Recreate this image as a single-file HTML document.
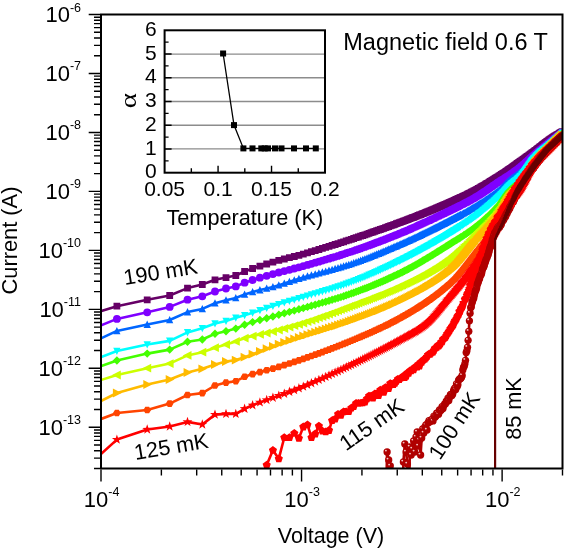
<!DOCTYPE html>
<html><head><meta charset="utf-8"><style>
html,body{margin:0;padding:0;background:#fff;width:566px;height:550px;overflow:hidden;}
svg{display:block;will-change:transform;}
text{font-family:"Liberation Sans", sans-serif;fill:#000;}
</style></head><body>
<svg width="566" height="550" viewBox="0 0 566 550" font-family='"Liberation Sans", sans-serif'>
<defs><clipPath id="pc"><rect x="101" y="14.5" width="461.5" height="454"/></clipPath></defs>
<g clip-path="url(#pc)">
<path d="M69.9 320.7L116.9 306.2L147.2 299.8L169.7 295.5L187.5 288.1L202.3 284.5L215 279.8L226 277.6L235.8 275.5L244.6 271.5L252.6 268.5L259.9 266.1L266.7 264L272.9 262.1L278.8 260.4L284.3 259L289.4 257.7L294.3 256.5L298.9 255.3L303.3 254.1L307.5 252.9L311.4 251.7L315.2 250.6L318.9 249.5L322.4 248.4L325.7 247.4L329 246.4L332.1 245.4L335.1 244.5L338 243.6L340.9 242.7L343.6 241.8L346.2 240.9L348.8 240.1L351.3 239.3L353.7 238.5L356.1 237.7L358.4 237L360.6 236.2L362.8 235.5L364.9 234.8L367 234.1L369 233.4L371 232.7L373 232L374.9 231.4L376.7 230.7L378.5 230.1L380.3 229.5L382.1 228.9L383.8 228.3L385.5 227.7L387.1 227.1L388.7 226.5L390.3 225.9L391.9 225.4L393.4 224.8L394.9 224.3L396.4 223.7L397.8 223.2L399.3 222.7L400.7 222.2L402.1 221.6L403.4 221.1L404.8 220.6L406.1 220.1L407.4 219.6L408.7 219.1L409.9 218.7L411.2 218.2L412.4 217.7L413.6 217.3L414.8 216.8L416 216.3L417.2 215.9L418.3 215.4L419.4 215L420.6 214.6L421.7 214.1L422.7 213.7L423.8 213.3L424.9 212.8L425.9 212.4L427 212L428 211.6L429 211.2L430 210.8L431 210.4L432 210L433 209.6L433.9 209.2L434.9 208.8L435.8 208.4L436.7 208L437.6 207.6L438.6 207.2L439.5 206.9L440.3 206.5L441.2 206.1L442.1 205.7L443 205.4L443.8 205L444.7 204.6L445.5 204.3L446.3 203.9L447.2 203.6L448 203.2L448.8 202.8L449.6 202.5L450.4 202.1L451.2 201.8L451.9 201.4L452.7 201.1L453.5 200.8L454.2 200.4L455 200.1L455.7 199.7L456.5 199.4L457.2 199.1L457.9 198.7L458.6 198.4L459.4 198.1L460.1 197.7L460.8 197.4L461.5 197.1L462.2 196.7L462.8 196.4L463.5 196.1L464.2 195.8L464.9 195.4L465.5 195.1L466.2 194.8L466.9 194.5L467.5 194.1L468.1 193.8L468.8 193.5L469.4 193.2L470.1 192.9L470.7 192.5L471.3 192.2L471.9 191.9L472.5 191.6L473.1 191.3L473.8 191L474.4 190.6L475 190.3L475.5 190L476.1 189.7L476.7 189.4L477.3 189.1L477.9 188.7L478.4 188.4L479 188.1L479.6 187.8L480.1 187.5L480.7 187.2L481.3 186.8L481.8 186.5L482.4 186.2L482.9 185.9L483.4 185.6L484 185.3L484.5 184.9L485.1 184.6L485.6 184.3L486.1 184L486.6 183.7L487.1 183.4L487.7 183.1L488.2 182.8L488.7 182.4L489.2 182.1L489.7 181.8L490.2 181.5L490.7 181.2L491.2 180.9L491.7 180.6L492.2 180.3L492.7 180L493.1 179.7L493.6 179.4L494.1 179.1L494.6 178.8L495.1 178.5L495.5 178.2L496 177.9L496.5 177.6L496.9 177.3L497.4 177L497.8 176.8L498.3 176.5L498.8 176.2L499.2 175.9L499.7 175.6L500.1 175.3L500.5 175.1L501 174.8L501.4 174.5L501.9 174.2L502.3 173.9L502.7 173.7L503.2 173.4L503.6 173.1L504 172.8L504.4 172.5L504.9 172.3L505.3 172L505.7 171.7L506.1 171.4L506.5 171.1L507 170.9L507.4 170.6L507.8 170.3L508.2 170L508.6 169.8L509 169.5L509.4 169.2L509.8 168.9L510.2 168.7L510.6 168.4L511 168.1L511.4 167.8L511.8 167.6L512.2 167.3L512.5 167L512.9 166.7L513.3 166.5L513.7 166.2L514.1 165.9L514.4 165.6L514.8 165.4L515.2 165.1L515.6 164.8L515.9 164.6L516.3 164.3L516.7 164L517.1 163.7L517.4 163.5L517.8 163.2L518.2 162.9L518.5 162.7L518.9 162.4L519.2 162.2L519.6 161.9L519.9 161.6L520.3 161.4L520.7 161.1L521 160.9L521.4 160.6L521.7 160.4L522 160.1L522.4 159.9L522.7 159.6L523.1 159.4L523.4 159.1L523.8 158.9L524.1 158.6L524.4 158.4L524.8 158.2L525.1 157.9L525.4 157.7L525.8 157.4L526.1 157.2L526.4 157L526.8 156.7L527.1 156.5L527.4 156.2L527.7 156L528.1 155.8L528.4 155.5L528.7 155.3L529 155.1L529.4 154.8L529.7 154.6L530 154.4L530.3 154.2L530.6 153.9L530.9 153.7L531.2 153.5L531.6 153.2L531.9 153L532.2 152.8L532.5 152.6L532.8 152.3L533.1 152.1L533.4 151.9L533.7 151.7L534 151.4L534.3 151.2L534.6 151L534.9 150.8L535.2 150.5L535.5 150.3L535.8 150.1L536.1 149.9L536.4 149.7L536.7 149.4L537 149.2L537.3 149L537.6 148.8L537.8 148.5L538.1 148.3L538.4 148.1L538.7 147.9L539 147.6L539.3 147.4L539.6 147.2L539.8 147L540.1 146.8L540.4 146.5L540.7 146.3L541 146.1L541.2 145.9L541.5 145.7L541.8 145.4L542.1 145.2L542.4 145L542.6 144.8L542.9 144.6L543.2 144.4L543.4 144.2L543.7 143.9L544 143.7L544.3 143.5L544.5 143.3L544.8 143.1L545.1 142.9L545.3 142.7L545.6 142.5L545.8 142.3L546.1 142.1L546.4 141.9L546.6 141.7L546.9 141.5L547.2 141.3L547.4 141.1L547.7 140.9L547.9 140.8L548.2 140.6L548.4 140.4L548.7 140.2L549 140L549.2 139.8L549.5 139.7L549.7 139.5L550 139.3L550.2 139.2L550.5 139L550.7 138.8L551 138.6L551.2 138.5L551.5 138.3L551.7 138.1L552 138L552.2 137.8L552.4 137.7L552.7 137.5L552.9 137.3L553.2 137.2L553.4 137L553.7 136.9L553.9 136.7L554.1 136.5L554.4 136.4L554.6 136.2L554.9 136.1L555.1 135.9L555.3 135.8L555.6 135.6L555.8 135.5L556 135.3L556.3 135.2L556.5 135.1L556.7 134.9L557 134.8L557.2 134.6L557.4 134.5L557.7 134.3L557.9 134.2L558.1 134.1L558.4 133.9L558.6 133.8L558.8 133.6L559 133.5L559.3 133.4L559.5 133.2L559.7 133.1L559.9 133L560.2 132.8L560.4 132.7L560.6 132.6L560.8 132.5L561.1 132.3L561.3 132.2L561.5 132.1L561.7 131.9L561.9 131.8L562.2 131.7L562.4 131.6L562.6 131.5L562.8 131.3" fill="none" stroke="#660066" stroke-width="2.6" stroke-linejoin="round"/>
<path d="M113.5 302.8h6.8v6.8h-6.8zM143.8 296.4h6.8v6.8h-6.8zM166.3 292.1h6.8v6.8h-6.8zM184.1 284.7h6.8v6.8h-6.8zM198.9 281.1h6.8v6.8h-6.8zM211.6 276.4h6.8v6.8h-6.8zM222.6 274.2h6.8v6.8h-6.8zM232.4 272.1h6.8v6.8h-6.8zM241.2 268.1h6.8v6.8h-6.8zM249.2 265.1h6.8v6.8h-6.8zM256.5 262.7h6.8v6.8h-6.8zM263.3 260.6h6.8v6.8h-6.8zM269.5 258.7h6.8v6.8h-6.8zM275.4 257h6.8v6.8h-6.8zM280.9 255.6h6.8v6.8h-6.8zM286 254.3h6.8v6.8h-6.8zM290.9 253.1h6.8v6.8h-6.8zM295.5 251.9h6.8v6.8h-6.8zM299.9 250.7h6.8v6.8h-6.8zM304.1 249.5h6.8v6.8h-6.8zM308 248.3h6.8v6.8h-6.8zM311.8 247.2h6.8v6.8h-6.8zM315.5 246.1h6.8v6.8h-6.8zM319 245h6.8v6.8h-6.8zM322.3 244h6.8v6.8h-6.8zM325.6 243h6.8v6.8h-6.8zM328.7 242h6.8v6.8h-6.8zM331.7 241.1h6.8v6.8h-6.8zM334.6 240.2h6.8v6.8h-6.8zM337.5 239.3h6.8v6.8h-6.8zM340.2 238.4h6.8v6.8h-6.8zM342.8 237.5h6.8v6.8h-6.8zM345.4 236.7h6.8v6.8h-6.8zM347.9 235.9h6.8v6.8h-6.8zM350.3 235.1h6.8v6.8h-6.8zM352.7 234.3h6.8v6.8h-6.8zM355 233.6h6.8v6.8h-6.8zM357.2 232.8h6.8v6.8h-6.8zM359.4 232.1h6.8v6.8h-6.8zM361.5 231.4h6.8v6.8h-6.8zM363.6 230.7h6.8v6.8h-6.8zM365.6 230h6.8v6.8h-6.8zM367.6 229.3h6.8v6.8h-6.8zM369.6 228.6h6.8v6.8h-6.8zM371.5 228h6.8v6.8h-6.8zM373.3 227.3h6.8v6.8h-6.8zM375.1 226.7h6.8v6.8h-6.8zM376.9 226.1h6.8v6.8h-6.8zM378.7 225.5h6.8v6.8h-6.8zM380.4 224.9h6.8v6.8h-6.8zM382.1 224.3h6.8v6.8h-6.8zM383.7 223.7h6.8v6.8h-6.8zM385.3 223.1h6.8v6.8h-6.8zM386.9 222.5h6.8v6.8h-6.8zM388.5 222h6.8v6.8h-6.8zM390 221.4h6.8v6.8h-6.8zM391.5 220.9h6.8v6.8h-6.8zM393 220.3h6.8v6.8h-6.8zM394.4 219.8h6.8v6.8h-6.8zM395.9 219.3h6.8v6.8h-6.8zM397.3 218.8h6.8v6.8h-6.8zM398.7 218.2h6.8v6.8h-6.8zM400 217.7h6.8v6.8h-6.8zM401.4 217.2h6.8v6.8h-6.8zM402.7 216.7h6.8v6.8h-6.8zM404 216.2h6.8v6.8h-6.8zM405.3 215.7h6.8v6.8h-6.8zM406.5 215.3h6.8v6.8h-6.8zM407.8 214.8h6.8v6.8h-6.8zM409 214.3h6.8v6.8h-6.8zM410.2 213.9h6.8v6.8h-6.8zM411.4 213.4h6.8v6.8h-6.8zM412.6 212.9h6.8v6.8h-6.8zM413.8 212.5h6.8v6.8h-6.8zM414.9 212h6.8v6.8h-6.8zM416 211.6h6.8v6.8h-6.8zM417.2 211.2h6.8v6.8h-6.8zM418.3 210.7h6.8v6.8h-6.8zM419.3 210.3h6.8v6.8h-6.8zM420.4 209.9h6.8v6.8h-6.8zM421.5 209.4h6.8v6.8h-6.8zM422.5 209h6.8v6.8h-6.8zM423.6 208.6h6.8v6.8h-6.8zM424.6 208.2h6.8v6.8h-6.8zM425.6 207.8h6.8v6.8h-6.8zM426.6 207.4h6.8v6.8h-6.8zM427.6 207h6.8v6.8h-6.8zM428.6 206.6h6.8v6.8h-6.8zM429.6 206.2h6.8v6.8h-6.8zM430.5 205.8h6.8v6.8h-6.8zM431.5 205.4h6.8v6.8h-6.8zM432.4 205h6.8v6.8h-6.8zM433.3 204.6h6.8v6.8h-6.8zM434.2 204.2h6.8v6.8h-6.8zM435.2 203.8h6.8v6.8h-6.8zM436.1 203.5h6.8v6.8h-6.8zM436.9 203.1h6.8v6.8h-6.8zM437.8 202.7h6.8v6.8h-6.8zM438.7 202.3h6.8v6.8h-6.8zM439.6 202h6.8v6.8h-6.8zM440.4 201.6h6.8v6.8h-6.8zM441.3 201.2h6.8v6.8h-6.8zM442.1 200.9h6.8v6.8h-6.8zM442.9 200.5h6.8v6.8h-6.8zM443.8 200.2h6.8v6.8h-6.8zM444.6 199.8h6.8v6.8h-6.8zM445.4 199.4h6.8v6.8h-6.8zM446.2 199.1h6.8v6.8h-6.8zM447 198.7h6.8v6.8h-6.8zM447.8 198.4h6.8v6.8h-6.8zM448.5 198h6.8v6.8h-6.8zM449.3 197.7h6.8v6.8h-6.8zM450.1 197.4h6.8v6.8h-6.8zM450.8 197h6.8v6.8h-6.8zM451.6 196.7h6.8v6.8h-6.8zM452.3 196.3h6.8v6.8h-6.8zM453.1 196h6.8v6.8h-6.8zM453.8 195.7h6.8v6.8h-6.8zM454.5 195.3h6.8v6.8h-6.8zM455.2 195h6.8v6.8h-6.8zM456 194.7h6.8v6.8h-6.8zM456.7 194.3h6.8v6.8h-6.8zM457.4 194h6.8v6.8h-6.8zM458.8 193.3h6.8v6.8h-6.8zM460.1 192.7h6.8v6.8h-6.8zM461.5 192h6.8v6.8h-6.8zM462.8 191.4h6.8v6.8h-6.8zM464.1 190.7h6.8v6.8h-6.8zM465.4 190.1h6.8v6.8h-6.8zM466.7 189.5h6.8v6.8h-6.8zM467.9 188.8h6.8v6.8h-6.8zM469.1 188.2h6.8v6.8h-6.8zM470.4 187.6h6.8v6.8h-6.8zM471.6 186.9h6.8v6.8h-6.8zM472.7 186.3h6.8v6.8h-6.8zM473.9 185.7h6.8v6.8h-6.8zM475 185h6.8v6.8h-6.8zM476.2 184.4h6.8v6.8h-6.8zM477.3 183.8h6.8v6.8h-6.8zM478.4 183.1h6.8v6.8h-6.8zM479.5 182.5h6.8v6.8h-6.8zM480.6 181.9h6.8v6.8h-6.8zM481.7 181.2h6.8v6.8h-6.8zM482.7 180.6h6.8v6.8h-6.8zM483.7 180h6.8v6.8h-6.8zM484.8 179.4h6.8v6.8h-6.8zM485.8 178.7h6.8v6.8h-6.8zM486.8 178.1h6.8v6.8h-6.8zM487.8 177.5h6.8v6.8h-6.8zM488.8 176.9h6.8v6.8h-6.8zM489.7 176.3h6.8v6.8h-6.8zM490.7 175.7h6.8v6.8h-6.8zM491.7 175.1h6.8v6.8h-6.8zM492.6 174.5h6.8v6.8h-6.8zM493.5 173.9h6.8v6.8h-6.8zM494.4 173.4h6.8v6.8h-6.8zM495.4 172.8h6.8v6.8h-6.8zM496.3 172.2h6.8v6.8h-6.8zM497.1 171.7h6.8v6.8h-6.8zM498 171.1h6.8v6.8h-6.8zM498.9 170.5h6.8v6.8h-6.8zM499.8 170h6.8v6.8h-6.8zM500.6 169.4h6.8v6.8h-6.8zM501.5 168.9h6.8v6.8h-6.8zM502.3 168.3h6.8v6.8h-6.8zM503.1 167.7h6.8v6.8h-6.8zM504 167.2h6.8v6.8h-6.8zM504.8 166.6h6.8v6.8h-6.8zM505.6 166.1h6.8v6.8h-6.8zM506.4 165.5h6.8v6.8h-6.8zM507.2 165h6.8v6.8h-6.8zM508 164.4h6.8v6.8h-6.8zM508.8 163.9h6.8v6.8h-6.8zM509.5 163.3h6.8v6.8h-6.8zM510.3 162.8h6.8v6.8h-6.8zM511 162.2h6.8v6.8h-6.8zM511.8 161.7h6.8v6.8h-6.8zM512.5 161.2h6.8v6.8h-6.8zM513.3 160.6h6.8v6.8h-6.8zM514 160.1h6.8v6.8h-6.8zM514.8 159.5h6.8v6.8h-6.8zM515.5 159h6.8v6.8h-6.8zM516.2 158.5h6.8v6.8h-6.8zM516.9 158h6.8v6.8h-6.8zM517.6 157.5h6.8v6.8h-6.8zM518.6 156.7h6.8v6.8h-6.8zM519.7 156h6.8v6.8h-6.8zM520.7 155.2h6.8v6.8h-6.8zM521.7 154.5h6.8v6.8h-6.8zM522.7 153.8h6.8v6.8h-6.8zM523.7 153.1h6.8v6.8h-6.8zM524.7 152.4h6.8v6.8h-6.8zM525.6 151.7h6.8v6.8h-6.8zM526.6 151h6.8v6.8h-6.8zM527.5 150.3h6.8v6.8h-6.8zM528.5 149.6h6.8v6.8h-6.8zM529.4 148.9h6.8v6.8h-6.8zM530.3 148.3h6.8v6.8h-6.8zM531.2 147.6h6.8v6.8h-6.8zM532.1 146.9h6.8v6.8h-6.8zM533 146.3h6.8v6.8h-6.8zM533.9 145.6h6.8v6.8h-6.8zM534.7 144.9h6.8v6.8h-6.8zM535.6 144.2h6.8v6.8h-6.8zM536.4 143.6h6.8v6.8h-6.8zM537.3 142.9h6.8v6.8h-6.8zM538.1 142.3h6.8v6.8h-6.8zM539 141.6h6.8v6.8h-6.8zM539.8 141h6.8v6.8h-6.8zM540.6 140.3h6.8v6.8h-6.8zM541.4 139.7h6.8v6.8h-6.8zM542.2 139.1h6.8v6.8h-6.8zM543 138.5h6.8v6.8h-6.8zM543.8 137.9h6.8v6.8h-6.8zM544.5 137.4h6.8v6.8h-6.8zM545.3 136.8h6.8v6.8h-6.8zM546.1 136.3h6.8v6.8h-6.8zM546.8 135.8h6.8v6.8h-6.8zM547.6 135.2h6.8v6.8h-6.8zM548.3 134.7h6.8v6.8h-6.8zM549 134.3h6.8v6.8h-6.8zM549.8 133.8h6.8v6.8h-6.8zM550.5 133.3h6.8v6.8h-6.8zM551.2 132.8h6.8v6.8h-6.8zM551.9 132.4h6.8v6.8h-6.8zM552.6 131.9h6.8v6.8h-6.8zM553.3 131.5h6.8v6.8h-6.8zM554.3 130.9h6.8v6.8h-6.8zM555.2 130.4h6.8v6.8h-6.8zM556.1 129.8h6.8v6.8h-6.8zM557 129.3h6.8v6.8h-6.8zM557.9 128.8h6.8v6.8h-6.8zM558.8 128.3h6.8v6.8h-6.8z" fill="#660066"/>
<path d="M69.9 337.8L116.9 318.9L147.2 312.3L169.7 306.9L187.5 299.7L202.3 296.3L215 291.5L226 288.5L235.8 286.4L244.6 282.7L252.6 280L259.9 277.7L266.7 275.8L272.9 274.1L278.8 272.5L284.3 271.1L289.4 269.8L294.3 268.5L298.9 267.3L303.3 266.1L307.5 264.9L311.4 263.8L315.2 262.7L318.9 261.7L322.4 260.6L325.7 259.6L329 258.7L332.1 257.7L335.1 256.8L338 255.9L340.9 255L343.6 254.1L346.2 253.2L348.8 252.4L351.3 251.6L353.7 250.8L356.1 249.9L358.4 249.2L360.6 248.4L362.8 247.6L364.9 246.9L367 246.1L369 245.4L371 244.7L373 243.9L374.9 243.2L376.7 242.5L378.5 241.9L380.3 241.2L382.1 240.5L383.8 239.9L385.5 239.2L387.1 238.6L388.7 237.9L390.3 237.3L391.9 236.7L393.4 236.1L394.9 235.5L396.4 234.9L397.8 234.3L399.3 233.7L400.7 233.1L402.1 232.6L403.4 232L404.8 231.4L406.1 230.9L407.4 230.3L408.7 229.8L409.9 229.2L411.2 228.7L412.4 228.1L413.6 227.6L414.8 227.1L416 226.6L417.2 226L418.3 225.5L419.4 225L420.6 224.5L421.7 224L422.7 223.5L423.8 223L424.9 222.5L425.9 222.1L427 221.6L428 221.1L429 220.6L430 220.2L431 219.7L432 219.2L433 218.8L433.9 218.3L434.9 217.9L435.8 217.4L436.7 217L437.6 216.6L438.6 216.1L439.5 215.7L440.3 215.3L441.2 214.8L442.1 214.4L443 214L443.8 213.6L444.7 213.2L445.5 212.8L446.3 212.4L447.2 212L448 211.6L448.8 211.2L449.6 210.8L450.4 210.4L451.2 210L451.9 209.7L452.7 209.3L453.5 208.9L454.2 208.5L455 208.2L455.7 207.8L456.5 207.4L457.2 207.1L457.9 206.7L458.6 206.4L459.4 206L460.1 205.7L460.8 205.3L461.5 205L462.2 204.6L462.8 204.3L463.5 203.9L464.2 203.6L464.9 203.2L465.5 202.9L466.2 202.5L466.9 202.2L467.5 201.9L468.1 201.5L468.8 201.2L469.4 200.8L470.1 200.5L470.7 200.1L471.3 199.8L471.9 199.4L472.5 199.1L473.1 198.8L473.8 198.4L474.4 198.1L475 197.7L475.5 197.4L476.1 197L476.7 196.7L477.3 196.3L477.9 196L478.4 195.6L479 195.3L479.6 194.9L480.1 194.5L480.7 194.2L481.3 193.8L481.8 193.5L482.4 193.1L482.9 192.7L483.4 192.4L484 192L484.5 191.7L485.1 191.3L485.6 190.9L486.1 190.6L486.6 190.2L487.1 189.9L487.7 189.5L488.2 189.2L488.7 188.8L489.2 188.5L489.7 188.1L490.2 187.8L490.7 187.4L491.2 187.1L491.7 186.7L492.2 186.4L492.7 186.1L493.1 185.7L493.6 185.4L494.1 185.1L494.6 184.7L495.1 184.4L495.5 184.1L496 183.8L496.5 183.5L496.9 183.1L497.4 182.8L497.8 182.5L498.3 182.2L498.8 181.9L499.2 181.6L499.7 181.3L500.1 181L500.5 180.7L501 180.5L501.4 180.2L501.9 179.9L502.3 179.6L502.7 179.4L503.2 179.1L503.6 178.8L504 178.6L504.4 178.3L504.9 178L505.3 177.8L505.7 177.5L506.1 177.2L506.5 177L507 176.7L507.4 176.4L507.8 176.2L508.2 175.9L508.6 175.7L509 175.4L509.4 175.1L509.8 174.8L510.2 174.6L510.6 174.3L511 174L511.4 173.7L511.8 173.5L512.2 173.2L512.5 172.9L512.9 172.7L513.3 172.4L513.7 172.1L514.1 171.8L514.4 171.5L514.8 171.3L515.2 171L515.6 170.7L515.9 170.4L516.3 170.2L516.7 169.9L517.1 169.6L517.4 169.3L517.8 169L518.2 168.8L518.5 168.5L518.9 168.2L519.2 167.9L519.6 167.6L519.9 167.3L520.3 167.1L520.7 166.8L521 166.5L521.4 166.2L521.7 165.9L522 165.6L522.4 165.3L522.7 165L523.1 164.7L523.4 164.4L523.8 164.1L524.1 163.8L524.4 163.5L524.8 163.2L525.1 162.9L525.4 162.6L525.8 162.3L526.1 162L526.4 161.7L526.8 161.4L527.1 161.1L527.4 160.8L527.7 160.5L528.1 160.2L528.4 159.9L528.7 159.6L529 159.3L529.4 159L529.7 158.7L530 158.5L530.3 158.2L530.6 157.9L530.9 157.6L531.2 157.3L531.6 157L531.9 156.7L532.2 156.5L532.5 156.2L532.8 155.9L533.1 155.7L533.4 155.4L533.7 155.1L534 154.9L534.3 154.6L534.6 154.3L534.9 154.1L535.2 153.8L535.5 153.6L535.8 153.3L536.1 153.1L536.4 152.8L536.7 152.6L537 152.3L537.3 152.1L537.6 151.9L537.8 151.6L538.1 151.4L538.4 151.1L538.7 150.9L539 150.7L539.3 150.4L539.6 150.2L539.8 150L540.1 149.7L540.4 149.5L540.7 149.3L541 149L541.2 148.8L541.5 148.6L541.8 148.4L542.1 148.1L542.4 147.9L542.6 147.7L542.9 147.5L543.2 147.3L543.4 147L543.7 146.8L544 146.6L544.3 146.4L544.5 146.2L544.8 146L545.1 145.7L545.3 145.5L545.6 145.3L545.8 145.1L546.1 144.9L546.4 144.7L546.6 144.5L546.9 144.3L547.2 144.1L547.4 143.9L547.7 143.7L547.9 143.4L548.2 143.2L548.4 143L548.7 142.8L549 142.6L549.2 142.4L549.5 142.2L549.7 142L550 141.8L550.2 141.6L550.5 141.4L550.7 141.2L551 141L551.2 140.8L551.5 140.6L551.7 140.4L552 140.2L552.2 140L552.4 139.9L552.7 139.7L552.9 139.5L553.2 139.3L553.4 139.1L553.7 138.9L553.9 138.7L554.1 138.5L554.4 138.3L554.6 138.1L554.9 138L555.1 137.8L555.3 137.6L555.6 137.4L555.8 137.2L556 137L556.3 136.8L556.5 136.7L556.7 136.5L557 136.3L557.2 136.1L557.4 135.9L557.7 135.8L557.9 135.6L558.1 135.4L558.4 135.2L558.6 135L558.8 134.9L559 134.7L559.3 134.5L559.5 134.3L559.7 134.2L559.9 134L560.2 133.8L560.4 133.6L560.6 133.5L560.8 133.3L561.1 133.1L561.3 132.9L561.5 132.8L561.7 132.6L561.9 132.4L562.2 132.3L562.4 132.1L562.6 131.9L562.8 131.8" fill="none" stroke="#7f00ff" stroke-width="2.6" stroke-linejoin="round"/>
<path d="M113 318.9a3.9 3.9 0 1 0 7.8 0a3.9 3.9 0 1 0 -7.8 0zM143.3 312.3a3.9 3.9 0 1 0 7.8 0a3.9 3.9 0 1 0 -7.8 0zM165.8 306.9a3.9 3.9 0 1 0 7.8 0a3.9 3.9 0 1 0 -7.8 0zM183.6 299.7a3.9 3.9 0 1 0 7.8 0a3.9 3.9 0 1 0 -7.8 0zM198.4 296.3a3.9 3.9 0 1 0 7.8 0a3.9 3.9 0 1 0 -7.8 0zM211.1 291.5a3.9 3.9 0 1 0 7.8 0a3.9 3.9 0 1 0 -7.8 0zM222.1 288.5a3.9 3.9 0 1 0 7.8 0a3.9 3.9 0 1 0 -7.8 0zM231.9 286.4a3.9 3.9 0 1 0 7.8 0a3.9 3.9 0 1 0 -7.8 0zM240.7 282.7a3.9 3.9 0 1 0 7.8 0a3.9 3.9 0 1 0 -7.8 0zM248.7 280a3.9 3.9 0 1 0 7.8 0a3.9 3.9 0 1 0 -7.8 0zM256 277.7a3.9 3.9 0 1 0 7.8 0a3.9 3.9 0 1 0 -7.8 0zM262.8 275.8a3.9 3.9 0 1 0 7.8 0a3.9 3.9 0 1 0 -7.8 0zM269 274.1a3.9 3.9 0 1 0 7.8 0a3.9 3.9 0 1 0 -7.8 0zM274.9 272.5a3.9 3.9 0 1 0 7.8 0a3.9 3.9 0 1 0 -7.8 0zM280.4 271.1a3.9 3.9 0 1 0 7.8 0a3.9 3.9 0 1 0 -7.8 0zM285.5 269.8a3.9 3.9 0 1 0 7.8 0a3.9 3.9 0 1 0 -7.8 0zM290.4 268.5a3.9 3.9 0 1 0 7.8 0a3.9 3.9 0 1 0 -7.8 0zM295 267.3a3.9 3.9 0 1 0 7.8 0a3.9 3.9 0 1 0 -7.8 0zM299.4 266.1a3.9 3.9 0 1 0 7.8 0a3.9 3.9 0 1 0 -7.8 0zM303.6 264.9a3.9 3.9 0 1 0 7.8 0a3.9 3.9 0 1 0 -7.8 0zM307.5 263.8a3.9 3.9 0 1 0 7.8 0a3.9 3.9 0 1 0 -7.8 0zM311.3 262.7a3.9 3.9 0 1 0 7.8 0a3.9 3.9 0 1 0 -7.8 0zM315 261.7a3.9 3.9 0 1 0 7.8 0a3.9 3.9 0 1 0 -7.8 0zM318.5 260.6a3.9 3.9 0 1 0 7.8 0a3.9 3.9 0 1 0 -7.8 0zM321.8 259.6a3.9 3.9 0 1 0 7.8 0a3.9 3.9 0 1 0 -7.8 0zM325.1 258.7a3.9 3.9 0 1 0 7.8 0a3.9 3.9 0 1 0 -7.8 0zM328.2 257.7a3.9 3.9 0 1 0 7.8 0a3.9 3.9 0 1 0 -7.8 0zM331.2 256.8a3.9 3.9 0 1 0 7.8 0a3.9 3.9 0 1 0 -7.8 0zM334.1 255.9a3.9 3.9 0 1 0 7.8 0a3.9 3.9 0 1 0 -7.8 0zM337 255a3.9 3.9 0 1 0 7.8 0a3.9 3.9 0 1 0 -7.8 0zM339.7 254.1a3.9 3.9 0 1 0 7.8 0a3.9 3.9 0 1 0 -7.8 0zM342.3 253.2a3.9 3.9 0 1 0 7.8 0a3.9 3.9 0 1 0 -7.8 0zM344.9 252.4a3.9 3.9 0 1 0 7.8 0a3.9 3.9 0 1 0 -7.8 0zM347.4 251.6a3.9 3.9 0 1 0 7.8 0a3.9 3.9 0 1 0 -7.8 0zM349.8 250.8a3.9 3.9 0 1 0 7.8 0a3.9 3.9 0 1 0 -7.8 0zM352.2 249.9a3.9 3.9 0 1 0 7.8 0a3.9 3.9 0 1 0 -7.8 0zM354.5 249.2a3.9 3.9 0 1 0 7.8 0a3.9 3.9 0 1 0 -7.8 0zM356.7 248.4a3.9 3.9 0 1 0 7.8 0a3.9 3.9 0 1 0 -7.8 0zM358.9 247.6a3.9 3.9 0 1 0 7.8 0a3.9 3.9 0 1 0 -7.8 0zM361 246.9a3.9 3.9 0 1 0 7.8 0a3.9 3.9 0 1 0 -7.8 0zM363.1 246.1a3.9 3.9 0 1 0 7.8 0a3.9 3.9 0 1 0 -7.8 0zM365.1 245.4a3.9 3.9 0 1 0 7.8 0a3.9 3.9 0 1 0 -7.8 0zM367.1 244.7a3.9 3.9 0 1 0 7.8 0a3.9 3.9 0 1 0 -7.8 0zM369.1 243.9a3.9 3.9 0 1 0 7.8 0a3.9 3.9 0 1 0 -7.8 0zM371 243.2a3.9 3.9 0 1 0 7.8 0a3.9 3.9 0 1 0 -7.8 0zM372.8 242.5a3.9 3.9 0 1 0 7.8 0a3.9 3.9 0 1 0 -7.8 0zM374.6 241.9a3.9 3.9 0 1 0 7.8 0a3.9 3.9 0 1 0 -7.8 0zM376.4 241.2a3.9 3.9 0 1 0 7.8 0a3.9 3.9 0 1 0 -7.8 0zM378.2 240.5a3.9 3.9 0 1 0 7.8 0a3.9 3.9 0 1 0 -7.8 0zM379.9 239.9a3.9 3.9 0 1 0 7.8 0a3.9 3.9 0 1 0 -7.8 0zM381.6 239.2a3.9 3.9 0 1 0 7.8 0a3.9 3.9 0 1 0 -7.8 0zM383.2 238.6a3.9 3.9 0 1 0 7.8 0a3.9 3.9 0 1 0 -7.8 0zM384.8 237.9a3.9 3.9 0 1 0 7.8 0a3.9 3.9 0 1 0 -7.8 0zM386.4 237.3a3.9 3.9 0 1 0 7.8 0a3.9 3.9 0 1 0 -7.8 0zM388 236.7a3.9 3.9 0 1 0 7.8 0a3.9 3.9 0 1 0 -7.8 0zM389.5 236.1a3.9 3.9 0 1 0 7.8 0a3.9 3.9 0 1 0 -7.8 0zM391 235.5a3.9 3.9 0 1 0 7.8 0a3.9 3.9 0 1 0 -7.8 0zM392.5 234.9a3.9 3.9 0 1 0 7.8 0a3.9 3.9 0 1 0 -7.8 0zM393.9 234.3a3.9 3.9 0 1 0 7.8 0a3.9 3.9 0 1 0 -7.8 0zM395.4 233.7a3.9 3.9 0 1 0 7.8 0a3.9 3.9 0 1 0 -7.8 0zM396.8 233.1a3.9 3.9 0 1 0 7.8 0a3.9 3.9 0 1 0 -7.8 0zM398.2 232.6a3.9 3.9 0 1 0 7.8 0a3.9 3.9 0 1 0 -7.8 0zM399.5 232a3.9 3.9 0 1 0 7.8 0a3.9 3.9 0 1 0 -7.8 0zM400.9 231.4a3.9 3.9 0 1 0 7.8 0a3.9 3.9 0 1 0 -7.8 0zM402.2 230.9a3.9 3.9 0 1 0 7.8 0a3.9 3.9 0 1 0 -7.8 0zM403.5 230.3a3.9 3.9 0 1 0 7.8 0a3.9 3.9 0 1 0 -7.8 0zM404.8 229.8a3.9 3.9 0 1 0 7.8 0a3.9 3.9 0 1 0 -7.8 0zM406 229.2a3.9 3.9 0 1 0 7.8 0a3.9 3.9 0 1 0 -7.8 0zM407.3 228.7a3.9 3.9 0 1 0 7.8 0a3.9 3.9 0 1 0 -7.8 0zM408.5 228.1a3.9 3.9 0 1 0 7.8 0a3.9 3.9 0 1 0 -7.8 0zM409.7 227.6a3.9 3.9 0 1 0 7.8 0a3.9 3.9 0 1 0 -7.8 0zM410.9 227.1a3.9 3.9 0 1 0 7.8 0a3.9 3.9 0 1 0 -7.8 0zM412.1 226.6a3.9 3.9 0 1 0 7.8 0a3.9 3.9 0 1 0 -7.8 0zM413.3 226a3.9 3.9 0 1 0 7.8 0a3.9 3.9 0 1 0 -7.8 0zM414.4 225.5a3.9 3.9 0 1 0 7.8 0a3.9 3.9 0 1 0 -7.8 0zM415.5 225a3.9 3.9 0 1 0 7.8 0a3.9 3.9 0 1 0 -7.8 0zM416.7 224.5a3.9 3.9 0 1 0 7.8 0a3.9 3.9 0 1 0 -7.8 0zM417.8 224a3.9 3.9 0 1 0 7.8 0a3.9 3.9 0 1 0 -7.8 0zM418.8 223.5a3.9 3.9 0 1 0 7.8 0a3.9 3.9 0 1 0 -7.8 0zM419.9 223a3.9 3.9 0 1 0 7.8 0a3.9 3.9 0 1 0 -7.8 0zM421 222.5a3.9 3.9 0 1 0 7.8 0a3.9 3.9 0 1 0 -7.8 0zM422 222.1a3.9 3.9 0 1 0 7.8 0a3.9 3.9 0 1 0 -7.8 0zM423.1 221.6a3.9 3.9 0 1 0 7.8 0a3.9 3.9 0 1 0 -7.8 0zM424.1 221.1a3.9 3.9 0 1 0 7.8 0a3.9 3.9 0 1 0 -7.8 0zM425.1 220.6a3.9 3.9 0 1 0 7.8 0a3.9 3.9 0 1 0 -7.8 0zM426.1 220.2a3.9 3.9 0 1 0 7.8 0a3.9 3.9 0 1 0 -7.8 0zM427.1 219.7a3.9 3.9 0 1 0 7.8 0a3.9 3.9 0 1 0 -7.8 0zM428.1 219.2a3.9 3.9 0 1 0 7.8 0a3.9 3.9 0 1 0 -7.8 0zM429.1 218.8a3.9 3.9 0 1 0 7.8 0a3.9 3.9 0 1 0 -7.8 0zM430 218.3a3.9 3.9 0 1 0 7.8 0a3.9 3.9 0 1 0 -7.8 0zM431 217.9a3.9 3.9 0 1 0 7.8 0a3.9 3.9 0 1 0 -7.8 0zM431.9 217.4a3.9 3.9 0 1 0 7.8 0a3.9 3.9 0 1 0 -7.8 0zM432.8 217a3.9 3.9 0 1 0 7.8 0a3.9 3.9 0 1 0 -7.8 0zM433.7 216.6a3.9 3.9 0 1 0 7.8 0a3.9 3.9 0 1 0 -7.8 0zM434.7 216.1a3.9 3.9 0 1 0 7.8 0a3.9 3.9 0 1 0 -7.8 0zM435.6 215.7a3.9 3.9 0 1 0 7.8 0a3.9 3.9 0 1 0 -7.8 0zM436.4 215.3a3.9 3.9 0 1 0 7.8 0a3.9 3.9 0 1 0 -7.8 0zM437.3 214.8a3.9 3.9 0 1 0 7.8 0a3.9 3.9 0 1 0 -7.8 0zM438.2 214.4a3.9 3.9 0 1 0 7.8 0a3.9 3.9 0 1 0 -7.8 0zM439.1 214a3.9 3.9 0 1 0 7.8 0a3.9 3.9 0 1 0 -7.8 0zM439.9 213.6a3.9 3.9 0 1 0 7.8 0a3.9 3.9 0 1 0 -7.8 0zM440.8 213.2a3.9 3.9 0 1 0 7.8 0a3.9 3.9 0 1 0 -7.8 0zM441.6 212.8a3.9 3.9 0 1 0 7.8 0a3.9 3.9 0 1 0 -7.8 0zM442.4 212.4a3.9 3.9 0 1 0 7.8 0a3.9 3.9 0 1 0 -7.8 0zM443.3 212a3.9 3.9 0 1 0 7.8 0a3.9 3.9 0 1 0 -7.8 0zM444.1 211.6a3.9 3.9 0 1 0 7.8 0a3.9 3.9 0 1 0 -7.8 0zM444.9 211.2a3.9 3.9 0 1 0 7.8 0a3.9 3.9 0 1 0 -7.8 0zM445.7 210.8a3.9 3.9 0 1 0 7.8 0a3.9 3.9 0 1 0 -7.8 0zM446.5 210.4a3.9 3.9 0 1 0 7.8 0a3.9 3.9 0 1 0 -7.8 0zM447.3 210a3.9 3.9 0 1 0 7.8 0a3.9 3.9 0 1 0 -7.8 0zM448 209.7a3.9 3.9 0 1 0 7.8 0a3.9 3.9 0 1 0 -7.8 0zM448.8 209.3a3.9 3.9 0 1 0 7.8 0a3.9 3.9 0 1 0 -7.8 0zM449.6 208.9a3.9 3.9 0 1 0 7.8 0a3.9 3.9 0 1 0 -7.8 0zM450.3 208.5a3.9 3.9 0 1 0 7.8 0a3.9 3.9 0 1 0 -7.8 0zM451.1 208.2a3.9 3.9 0 1 0 7.8 0a3.9 3.9 0 1 0 -7.8 0zM451.8 207.8a3.9 3.9 0 1 0 7.8 0a3.9 3.9 0 1 0 -7.8 0zM452.6 207.4a3.9 3.9 0 1 0 7.8 0a3.9 3.9 0 1 0 -7.8 0zM453.3 207.1a3.9 3.9 0 1 0 7.8 0a3.9 3.9 0 1 0 -7.8 0zM454 206.7a3.9 3.9 0 1 0 7.8 0a3.9 3.9 0 1 0 -7.8 0zM454.7 206.4a3.9 3.9 0 1 0 7.8 0a3.9 3.9 0 1 0 -7.8 0zM455.5 206a3.9 3.9 0 1 0 7.8 0a3.9 3.9 0 1 0 -7.8 0zM456.2 205.7a3.9 3.9 0 1 0 7.8 0a3.9 3.9 0 1 0 -7.8 0zM456.9 205.3a3.9 3.9 0 1 0 7.8 0a3.9 3.9 0 1 0 -7.8 0zM458.3 204.6a3.9 3.9 0 1 0 7.8 0a3.9 3.9 0 1 0 -7.8 0zM459.6 203.9a3.9 3.9 0 1 0 7.8 0a3.9 3.9 0 1 0 -7.8 0zM461 203.2a3.9 3.9 0 1 0 7.8 0a3.9 3.9 0 1 0 -7.8 0zM462.3 202.5a3.9 3.9 0 1 0 7.8 0a3.9 3.9 0 1 0 -7.8 0zM463.6 201.9a3.9 3.9 0 1 0 7.8 0a3.9 3.9 0 1 0 -7.8 0zM464.9 201.2a3.9 3.9 0 1 0 7.8 0a3.9 3.9 0 1 0 -7.8 0zM466.2 200.5a3.9 3.9 0 1 0 7.8 0a3.9 3.9 0 1 0 -7.8 0zM467.4 199.8a3.9 3.9 0 1 0 7.8 0a3.9 3.9 0 1 0 -7.8 0zM468.6 199.1a3.9 3.9 0 1 0 7.8 0a3.9 3.9 0 1 0 -7.8 0zM469.9 198.4a3.9 3.9 0 1 0 7.8 0a3.9 3.9 0 1 0 -7.8 0zM471.1 197.7a3.9 3.9 0 1 0 7.8 0a3.9 3.9 0 1 0 -7.8 0zM472.2 197a3.9 3.9 0 1 0 7.8 0a3.9 3.9 0 1 0 -7.8 0zM473.4 196.3a3.9 3.9 0 1 0 7.8 0a3.9 3.9 0 1 0 -7.8 0zM474.5 195.6a3.9 3.9 0 1 0 7.8 0a3.9 3.9 0 1 0 -7.8 0zM475.7 194.9a3.9 3.9 0 1 0 7.8 0a3.9 3.9 0 1 0 -7.8 0zM476.8 194.2a3.9 3.9 0 1 0 7.8 0a3.9 3.9 0 1 0 -7.8 0zM477.9 193.5a3.9 3.9 0 1 0 7.8 0a3.9 3.9 0 1 0 -7.8 0zM479 192.7a3.9 3.9 0 1 0 7.8 0a3.9 3.9 0 1 0 -7.8 0zM480.1 192a3.9 3.9 0 1 0 7.8 0a3.9 3.9 0 1 0 -7.8 0zM481.2 191.3a3.9 3.9 0 1 0 7.8 0a3.9 3.9 0 1 0 -7.8 0zM482.2 190.6a3.9 3.9 0 1 0 7.8 0a3.9 3.9 0 1 0 -7.8 0zM483.2 189.9a3.9 3.9 0 1 0 7.8 0a3.9 3.9 0 1 0 -7.8 0zM484.3 189.2a3.9 3.9 0 1 0 7.8 0a3.9 3.9 0 1 0 -7.8 0zM485.3 188.5a3.9 3.9 0 1 0 7.8 0a3.9 3.9 0 1 0 -7.8 0zM486.3 187.8a3.9 3.9 0 1 0 7.8 0a3.9 3.9 0 1 0 -7.8 0zM487.3 187.1a3.9 3.9 0 1 0 7.8 0a3.9 3.9 0 1 0 -7.8 0zM488.3 186.4a3.9 3.9 0 1 0 7.8 0a3.9 3.9 0 1 0 -7.8 0zM489.2 185.7a3.9 3.9 0 1 0 7.8 0a3.9 3.9 0 1 0 -7.8 0zM490.2 185.1a3.9 3.9 0 1 0 7.8 0a3.9 3.9 0 1 0 -7.8 0zM491.2 184.4a3.9 3.9 0 1 0 7.8 0a3.9 3.9 0 1 0 -7.8 0zM492.1 183.8a3.9 3.9 0 1 0 7.8 0a3.9 3.9 0 1 0 -7.8 0zM493 183.1a3.9 3.9 0 1 0 7.8 0a3.9 3.9 0 1 0 -7.8 0zM493.9 182.5a3.9 3.9 0 1 0 7.8 0a3.9 3.9 0 1 0 -7.8 0zM494.9 181.9a3.9 3.9 0 1 0 7.8 0a3.9 3.9 0 1 0 -7.8 0zM495.8 181.3a3.9 3.9 0 1 0 7.8 0a3.9 3.9 0 1 0 -7.8 0zM496.6 180.7a3.9 3.9 0 1 0 7.8 0a3.9 3.9 0 1 0 -7.8 0zM497.5 180.2a3.9 3.9 0 1 0 7.8 0a3.9 3.9 0 1 0 -7.8 0zM498.4 179.6a3.9 3.9 0 1 0 7.8 0a3.9 3.9 0 1 0 -7.8 0zM499.3 179.1a3.9 3.9 0 1 0 7.8 0a3.9 3.9 0 1 0 -7.8 0zM500.1 178.6a3.9 3.9 0 1 0 7.8 0a3.9 3.9 0 1 0 -7.8 0zM501 178a3.9 3.9 0 1 0 7.8 0a3.9 3.9 0 1 0 -7.8 0zM501.8 177.5a3.9 3.9 0 1 0 7.8 0a3.9 3.9 0 1 0 -7.8 0zM502.6 177a3.9 3.9 0 1 0 7.8 0a3.9 3.9 0 1 0 -7.8 0zM503.5 176.4a3.9 3.9 0 1 0 7.8 0a3.9 3.9 0 1 0 -7.8 0zM504.3 175.9a3.9 3.9 0 1 0 7.8 0a3.9 3.9 0 1 0 -7.8 0zM505.1 175.4a3.9 3.9 0 1 0 7.8 0a3.9 3.9 0 1 0 -7.8 0zM505.9 174.8a3.9 3.9 0 1 0 7.8 0a3.9 3.9 0 1 0 -7.8 0zM506.7 174.3a3.9 3.9 0 1 0 7.8 0a3.9 3.9 0 1 0 -7.8 0zM507.5 173.7a3.9 3.9 0 1 0 7.8 0a3.9 3.9 0 1 0 -7.8 0zM508.3 173.2a3.9 3.9 0 1 0 7.8 0a3.9 3.9 0 1 0 -7.8 0zM509 172.7a3.9 3.9 0 1 0 7.8 0a3.9 3.9 0 1 0 -7.8 0zM509.8 172.1a3.9 3.9 0 1 0 7.8 0a3.9 3.9 0 1 0 -7.8 0zM510.5 171.5a3.9 3.9 0 1 0 7.8 0a3.9 3.9 0 1 0 -7.8 0zM511.3 171a3.9 3.9 0 1 0 7.8 0a3.9 3.9 0 1 0 -7.8 0zM512 170.4a3.9 3.9 0 1 0 7.8 0a3.9 3.9 0 1 0 -7.8 0zM512.8 169.9a3.9 3.9 0 1 0 7.8 0a3.9 3.9 0 1 0 -7.8 0zM513.5 169.3a3.9 3.9 0 1 0 7.8 0a3.9 3.9 0 1 0 -7.8 0zM514.3 168.8a3.9 3.9 0 1 0 7.8 0a3.9 3.9 0 1 0 -7.8 0zM515 168.2a3.9 3.9 0 1 0 7.8 0a3.9 3.9 0 1 0 -7.8 0zM515.7 167.6a3.9 3.9 0 1 0 7.8 0a3.9 3.9 0 1 0 -7.8 0zM516.4 167.1a3.9 3.9 0 1 0 7.8 0a3.9 3.9 0 1 0 -7.8 0zM517.1 166.5a3.9 3.9 0 1 0 7.8 0a3.9 3.9 0 1 0 -7.8 0zM518.1 165.6a3.9 3.9 0 1 0 7.8 0a3.9 3.9 0 1 0 -7.8 0zM519.2 164.7a3.9 3.9 0 1 0 7.8 0a3.9 3.9 0 1 0 -7.8 0zM520.2 163.8a3.9 3.9 0 1 0 7.8 0a3.9 3.9 0 1 0 -7.8 0zM521.2 162.9a3.9 3.9 0 1 0 7.8 0a3.9 3.9 0 1 0 -7.8 0zM522.2 162a3.9 3.9 0 1 0 7.8 0a3.9 3.9 0 1 0 -7.8 0zM523.2 161.1a3.9 3.9 0 1 0 7.8 0a3.9 3.9 0 1 0 -7.8 0zM524.2 160.2a3.9 3.9 0 1 0 7.8 0a3.9 3.9 0 1 0 -7.8 0zM525.1 159.3a3.9 3.9 0 1 0 7.8 0a3.9 3.9 0 1 0 -7.8 0zM526.1 158.5a3.9 3.9 0 1 0 7.8 0a3.9 3.9 0 1 0 -7.8 0zM527 157.6a3.9 3.9 0 1 0 7.8 0a3.9 3.9 0 1 0 -7.8 0zM528 156.7a3.9 3.9 0 1 0 7.8 0a3.9 3.9 0 1 0 -7.8 0zM528.9 155.9a3.9 3.9 0 1 0 7.8 0a3.9 3.9 0 1 0 -7.8 0zM529.8 155.1a3.9 3.9 0 1 0 7.8 0a3.9 3.9 0 1 0 -7.8 0zM530.7 154.3a3.9 3.9 0 1 0 7.8 0a3.9 3.9 0 1 0 -7.8 0zM531.6 153.6a3.9 3.9 0 1 0 7.8 0a3.9 3.9 0 1 0 -7.8 0zM532.5 152.8a3.9 3.9 0 1 0 7.8 0a3.9 3.9 0 1 0 -7.8 0zM533.4 152.1a3.9 3.9 0 1 0 7.8 0a3.9 3.9 0 1 0 -7.8 0zM534.2 151.4a3.9 3.9 0 1 0 7.8 0a3.9 3.9 0 1 0 -7.8 0zM535.1 150.7a3.9 3.9 0 1 0 7.8 0a3.9 3.9 0 1 0 -7.8 0zM535.9 150a3.9 3.9 0 1 0 7.8 0a3.9 3.9 0 1 0 -7.8 0zM536.8 149.3a3.9 3.9 0 1 0 7.8 0a3.9 3.9 0 1 0 -7.8 0zM537.6 148.6a3.9 3.9 0 1 0 7.8 0a3.9 3.9 0 1 0 -7.8 0zM538.5 147.9a3.9 3.9 0 1 0 7.8 0a3.9 3.9 0 1 0 -7.8 0zM539.3 147.3a3.9 3.9 0 1 0 7.8 0a3.9 3.9 0 1 0 -7.8 0zM540.1 146.6a3.9 3.9 0 1 0 7.8 0a3.9 3.9 0 1 0 -7.8 0zM540.9 146a3.9 3.9 0 1 0 7.8 0a3.9 3.9 0 1 0 -7.8 0zM541.7 145.3a3.9 3.9 0 1 0 7.8 0a3.9 3.9 0 1 0 -7.8 0zM542.5 144.7a3.9 3.9 0 1 0 7.8 0a3.9 3.9 0 1 0 -7.8 0zM543.3 144.1a3.9 3.9 0 1 0 7.8 0a3.9 3.9 0 1 0 -7.8 0zM544 143.4a3.9 3.9 0 1 0 7.8 0a3.9 3.9 0 1 0 -7.8 0zM544.8 142.8a3.9 3.9 0 1 0 7.8 0a3.9 3.9 0 1 0 -7.8 0zM545.6 142.2a3.9 3.9 0 1 0 7.8 0a3.9 3.9 0 1 0 -7.8 0zM546.3 141.6a3.9 3.9 0 1 0 7.8 0a3.9 3.9 0 1 0 -7.8 0zM547.1 141a3.9 3.9 0 1 0 7.8 0a3.9 3.9 0 1 0 -7.8 0zM547.8 140.4a3.9 3.9 0 1 0 7.8 0a3.9 3.9 0 1 0 -7.8 0zM548.5 139.9a3.9 3.9 0 1 0 7.8 0a3.9 3.9 0 1 0 -7.8 0zM549.3 139.3a3.9 3.9 0 1 0 7.8 0a3.9 3.9 0 1 0 -7.8 0zM550 138.7a3.9 3.9 0 1 0 7.8 0a3.9 3.9 0 1 0 -7.8 0zM550.7 138.1a3.9 3.9 0 1 0 7.8 0a3.9 3.9 0 1 0 -7.8 0zM551.4 137.6a3.9 3.9 0 1 0 7.8 0a3.9 3.9 0 1 0 -7.8 0zM552.1 137a3.9 3.9 0 1 0 7.8 0a3.9 3.9 0 1 0 -7.8 0zM552.8 136.5a3.9 3.9 0 1 0 7.8 0a3.9 3.9 0 1 0 -7.8 0zM553.8 135.8a3.9 3.9 0 1 0 7.8 0a3.9 3.9 0 1 0 -7.8 0zM554.7 135a3.9 3.9 0 1 0 7.8 0a3.9 3.9 0 1 0 -7.8 0zM555.6 134.3a3.9 3.9 0 1 0 7.8 0a3.9 3.9 0 1 0 -7.8 0zM556.5 133.6a3.9 3.9 0 1 0 7.8 0a3.9 3.9 0 1 0 -7.8 0zM557.4 132.9a3.9 3.9 0 1 0 7.8 0a3.9 3.9 0 1 0 -7.8 0zM558.3 132.3a3.9 3.9 0 1 0 7.8 0a3.9 3.9 0 1 0 -7.8 0z" fill="#7f00ff"/>
<path d="M69.9 353.1L116.9 330.9L147.2 324.6L169.7 320L187.5 312.1L202.3 308.9L215 303.2L226 300.2L235.8 298L244.6 294.4L252.6 292L259.9 290.1L266.7 288.5L272.9 286.9L278.8 285.2L284.3 283.5L289.4 281.8L294.3 280.3L298.9 278.8L303.3 277.5L307.5 276.3L311.4 275.2L315.2 274.2L318.9 273.2L322.4 272.3L325.7 271.4L329 270.5L332.1 269.7L335.1 268.8L338 268L340.9 267.2L343.6 266.3L346.2 265.5L348.8 264.7L351.3 263.9L353.7 263L356.1 262.2L358.4 261.4L360.6 260.6L362.8 259.8L364.9 259L367 258.2L369 257.4L371 256.6L373 255.9L374.9 255.1L376.7 254.4L378.5 253.6L380.3 252.9L382.1 252.2L383.8 251.4L385.5 250.7L387.1 250L388.7 249.4L390.3 248.7L391.9 248L393.4 247.4L394.9 246.7L396.4 246.1L397.8 245.4L399.3 244.8L400.7 244.2L402.1 243.6L403.4 243L404.8 242.4L406.1 241.8L407.4 241.2L408.7 240.6L409.9 240.1L411.2 239.5L412.4 238.9L413.6 238.4L414.8 237.8L416 237.3L417.2 236.7L418.3 236.2L419.4 235.6L420.6 235.1L421.7 234.6L422.7 234.1L423.8 233.5L424.9 233L425.9 232.5L427 232L428 231.5L429 231L430 230.5L431 230L432 229.5L433 229.1L433.9 228.6L434.9 228.1L435.8 227.6L436.7 227.2L437.6 226.7L438.6 226.3L439.5 225.8L440.3 225.4L441.2 224.9L442.1 224.5L443 224L443.8 223.6L444.7 223.2L445.5 222.7L446.3 222.3L447.2 221.9L448 221.5L448.8 221L449.6 220.6L450.4 220.2L451.2 219.8L451.9 219.4L452.7 219L453.5 218.6L454.2 218.2L455 217.8L455.7 217.4L456.5 217L457.2 216.6L457.9 216.3L458.6 215.9L459.4 215.5L460.1 215.1L460.8 214.7L461.5 214.4L462.2 214L462.8 213.6L463.5 213.2L464.2 212.9L464.9 212.5L465.5 212.1L466.2 211.7L466.9 211.4L467.5 211L468.1 210.6L468.8 210.3L469.4 209.9L470.1 209.5L470.7 209.2L471.3 208.8L471.9 208.4L472.5 208.1L473.1 207.7L473.8 207.4L474.4 207L475 206.6L475.5 206.3L476.1 205.9L476.7 205.5L477.3 205.2L477.9 204.8L478.4 204.5L479 204.1L479.6 203.8L480.1 203.4L480.7 203.1L481.3 202.7L481.8 202.4L482.4 202L482.9 201.7L483.4 201.3L484 201L484.5 200.7L485.1 200.3L485.6 200L486.1 199.6L486.6 199.3L487.1 198.9L487.7 198.6L488.2 198.2L488.7 197.9L489.2 197.6L489.7 197.2L490.2 196.9L490.7 196.5L491.2 196.2L491.7 195.8L492.2 195.5L492.7 195.1L493.1 194.8L493.6 194.4L494.1 194.1L494.6 193.7L495.1 193.4L495.5 193L496 192.7L496.5 192.3L496.9 191.9L497.4 191.6L497.8 191.2L498.3 190.9L498.8 190.5L499.2 190.1L499.7 189.8L500.1 189.4L500.5 189L501 188.7L501.4 188.3L501.9 187.8L502.3 187.4L502.7 187L503.2 186.6L503.6 186.2L504 185.7L504.4 185.3L504.9 184.8L505.3 184.4L505.7 184L506.1 183.6L506.5 183.1L507 182.7L507.4 182.3L507.8 181.9L508.2 181.5L508.6 181.1L509 180.8L509.4 180.4L509.8 180.1L510.2 179.7L510.6 179.4L511 179.1L511.4 178.8L511.8 178.5L512.2 178.2L512.5 178L512.9 177.7L513.3 177.4L513.7 177.2L514.1 176.9L514.4 176.7L514.8 176.4L515.2 176.2L515.6 175.9L515.9 175.7L516.3 175.4L516.7 175.2L517.1 174.9L517.4 174.6L517.8 174.4L518.2 174.1L518.5 173.8L518.9 173.5L519.2 173.3L519.6 173L519.9 172.6L520.3 172.3L520.7 172L521 171.7L521.4 171.3L521.7 171L522 170.6L522.4 170.3L522.7 169.9L523.1 169.5L523.4 169.2L523.8 168.8L524.1 168.4L524.4 168L524.8 167.6L525.1 167.2L525.4 166.8L525.8 166.4L526.1 166L526.4 165.6L526.8 165.2L527.1 164.8L527.4 164.4L527.7 164L528.1 163.6L528.4 163.2L528.7 162.8L529 162.4L529.4 162L529.7 161.7L530 161.3L530.3 160.9L530.6 160.5L530.9 160.1L531.2 159.8L531.6 159.4L531.9 159L532.2 158.7L532.5 158.3L532.8 158L533.1 157.7L533.4 157.3L533.7 157L534 156.7L534.3 156.4L534.6 156.1L534.9 155.8L535.2 155.5L535.5 155.2L535.8 154.9L536.1 154.7L536.4 154.4L536.7 154.1L537 153.8L537.3 153.6L537.6 153.3L537.8 153.1L538.1 152.8L538.4 152.6L538.7 152.3L539 152.1L539.3 151.8L539.6 151.6L539.8 151.3L540.1 151.1L540.4 150.8L540.7 150.6L541 150.4L541.2 150.1L541.5 149.9L541.8 149.7L542.1 149.5L542.4 149.2L542.6 149L542.9 148.8L543.2 148.6L543.4 148.4L543.7 148.1L544 147.9L544.3 147.7L544.5 147.5L544.8 147.3L545.1 147L545.3 146.8L545.6 146.6L545.8 146.4L546.1 146.2L546.4 146L546.6 145.8L546.9 145.6L547.2 145.3L547.4 145.1L547.7 144.9L547.9 144.7L548.2 144.5L548.4 144.3L548.7 144.1L549 143.9L549.2 143.7L549.5 143.4L549.7 143.2L550 143L550.2 142.8L550.5 142.6L550.7 142.4L551 142.2L551.2 142L551.5 141.8L551.7 141.6L552 141.4L552.2 141.1L552.4 140.9L552.7 140.7L552.9 140.5L553.2 140.3L553.4 140.1L553.7 139.9L553.9 139.7L554.1 139.5L554.4 139.3L554.6 139.1L554.9 138.9L555.1 138.7L555.3 138.5L555.6 138.3L555.8 138.1L556 137.9L556.3 137.7L556.5 137.5L556.7 137.3L557 137.1L557.2 136.9L557.4 136.7L557.7 136.6L557.9 136.4L558.1 136.2L558.4 136L558.6 135.8L558.8 135.6L559 135.4L559.3 135.2L559.5 135L559.7 134.8L559.9 134.6L560.2 134.5L560.4 134.3L560.6 134.1L560.8 133.9L561.1 133.7L561.3 133.5L561.5 133.3L561.7 133.2L561.9 133L562.2 132.8L562.4 132.6L562.6 132.4L562.8 132.2" fill="none" stroke="#0066ff" stroke-width="2.6" stroke-linejoin="round"/>
<path d="M116.9 326.9L120.5 334.2L113.2 334.2zM147.2 320.6L150.9 327.9L143.6 327.9zM169.7 316L173.3 323.3L166 323.3zM187.5 308.1L191.2 315.4L183.9 315.4zM202.3 304.9L206 312.2L198.7 312.2zM215 299.2L218.6 306.5L211.3 306.5zM226 296.2L229.7 303.5L222.4 303.5zM235.8 294L239.4 301.3L232.1 301.3zM244.6 290.4L248.3 297.7L241 297.7zM252.6 288L256.3 295.3L249 295.3zM259.9 286.1L263.6 293.4L256.3 293.4zM266.7 284.5L270.3 291.8L263 291.8zM272.9 282.9L276.6 290.2L269.3 290.2zM278.8 281.2L282.4 288.5L275.1 288.5zM284.3 279.4L287.9 286.7L280.6 286.7zM289.4 277.8L293.1 285.1L285.8 285.1zM294.3 276.2L297.9 283.5L290.6 283.5zM298.9 274.8L302.6 282.1L295.3 282.1zM303.3 273.5L306.9 280.8L299.6 280.8zM307.5 272.3L311.1 279.6L303.8 279.6zM311.4 271.2L315.1 278.5L307.8 278.5zM315.2 270.2L318.9 277.5L311.6 277.5zM318.9 269.2L322.5 276.5L315.2 276.5zM322.4 268.3L326 275.6L318.7 275.6zM325.7 267.4L329.4 274.7L322.1 274.7zM329 266.5L332.6 273.8L325.3 273.8zM332.1 265.7L335.8 273L328.5 273zM335.1 264.8L338.8 272.1L331.5 272.1zM338 264L341.7 271.3L334.4 271.3zM340.9 263.1L344.5 270.4L337.2 270.4zM343.6 262.3L347.2 269.6L339.9 269.6zM346.2 261.5L349.9 268.8L342.6 268.8zM348.8 260.7L352.5 268L345.2 268zM351.3 259.9L354.9 267.2L347.6 267.2zM353.7 259L357.4 266.3L350.1 266.3zM356.1 258.2L359.7 265.5L352.4 265.5zM358.4 257.4L362 264.7L354.7 264.7zM360.6 256.6L364.3 263.9L357 263.9zM362.8 255.8L366.5 263.1L359.2 263.1zM364.9 255L368.6 262.3L361.3 262.3zM367 254.2L370.7 261.5L363.4 261.5zM369 253.4L372.7 260.7L365.4 260.7zM371 252.6L374.7 259.9L367.4 259.9zM373 251.8L376.6 259.1L369.3 259.1zM374.9 251.1L378.5 258.4L371.2 258.4zM376.7 250.3L380.4 257.6L373.1 257.6zM378.5 249.6L382.2 256.9L374.9 256.9zM380.3 248.9L384 256.2L376.7 256.2zM382.1 248.1L385.7 255.4L378.4 255.4zM383.8 247.4L387.4 254.7L380.1 254.7zM385.5 246.7L389.1 254L381.8 254zM387.1 246L390.8 253.3L383.5 253.3zM388.7 245.3L392.4 252.6L385.1 252.6zM390.3 244.7L394 252L386.7 252zM391.9 244L395.5 251.3L388.2 251.3zM393.4 243.3L397 250.6L389.7 250.6zM394.9 242.7L398.6 250L391.3 250zM396.4 242.1L400 249.4L392.7 249.4zM397.8 241.4L401.5 248.7L394.2 248.7zM399.3 240.8L402.9 248.1L395.6 248.1zM400.7 240.2L404.3 247.5L397 247.5zM402.1 239.6L405.7 246.9L398.4 246.9zM403.4 239L407.1 246.3L399.8 246.3zM404.8 238.4L408.4 245.7L401.1 245.7zM406.1 237.8L409.7 245.1L402.4 245.1zM407.4 237.2L411 244.5L403.7 244.5zM408.7 236.6L412.3 243.9L405 243.9zM409.9 236.1L413.6 243.4L406.3 243.4zM411.2 235.5L414.8 242.8L407.5 242.8zM412.4 234.9L416.1 242.2L408.8 242.2zM413.6 234.4L417.3 241.7L410 241.7zM414.8 233.8L418.5 241.1L411.2 241.1zM416 233.3L419.6 240.6L412.3 240.6zM417.2 232.7L420.8 240L413.5 240zM418.3 232.2L422 239.5L414.7 239.5zM419.4 231.6L423.1 238.9L415.8 238.9zM420.6 231.1L424.2 238.4L416.9 238.4zM421.7 230.6L425.3 237.9L418 237.9zM422.7 230L426.4 237.3L419.1 237.3zM423.8 229.5L427.5 236.8L420.2 236.8zM424.9 229L428.5 236.3L421.2 236.3zM425.9 228.5L429.6 235.8L422.3 235.8zM427 228L430.6 235.3L423.3 235.3zM428 227.5L431.7 234.8L424.4 234.8zM429 227L432.7 234.3L425.4 234.3zM430 226.5L433.7 233.8L426.4 233.8zM431 226L434.7 233.3L427.4 233.3zM432 225.5L435.6 232.8L428.3 232.8zM433 225.1L436.6 232.4L429.3 232.4zM433.9 224.6L437.6 231.9L430.3 231.9zM434.9 224.1L438.5 231.4L431.2 231.4zM435.8 223.6L439.5 230.9L432.2 230.9zM436.7 223.2L440.4 230.5L433.1 230.5zM437.6 222.7L441.3 230L434 230zM438.6 222.2L442.2 229.5L434.9 229.5zM439.5 221.8L443.1 229.1L435.8 229.1zM440.3 221.3L444 228.6L436.7 228.6zM441.2 220.9L444.9 228.2L437.6 228.2zM442.1 220.4L445.7 227.7L438.4 227.7zM443 220L446.6 227.3L439.3 227.3zM443.8 219.6L447.5 226.9L440.2 226.9zM444.7 219.1L448.3 226.4L441 226.4zM445.5 218.7L449.2 226L441.9 226zM446.3 218.3L450 225.6L442.7 225.6zM447.2 217.9L450.8 225.2L443.5 225.2zM448 217.4L451.6 224.7L444.3 224.7zM448.8 217L452.4 224.3L445.1 224.3zM449.6 216.6L453.2 223.9L445.9 223.9zM450.4 216.2L454 223.5L446.7 223.5zM451.2 215.8L454.8 223.1L447.5 223.1zM451.9 215.4L455.6 222.7L448.3 222.7zM452.7 215L456.4 222.3L449.1 222.3zM453.5 214.6L457.1 221.9L449.8 221.9zM454.2 214.2L457.9 221.5L450.6 221.5zM455 213.8L458.6 221.1L451.3 221.1zM455.7 213.4L459.4 220.7L452.1 220.7zM456.5 213L460.1 220.3L452.8 220.3zM457.2 212.6L460.8 219.9L453.5 219.9zM457.9 212.2L461.6 219.5L454.3 219.5zM458.6 211.9L462.3 219.2L455 219.2zM459.4 211.5L463 218.8L455.7 218.8zM460.1 211.1L463.7 218.4L456.4 218.4zM460.8 210.7L464.4 218L457.1 218zM462.2 210L465.8 217.3L458.5 217.3zM463.5 209.2L467.2 216.5L459.9 216.5zM464.9 208.5L468.5 215.8L461.2 215.8zM466.2 207.7L469.8 215L462.5 215zM467.5 207L471.2 214.3L463.9 214.3zM468.8 206.3L472.4 213.6L465.1 213.6zM470.1 205.5L473.7 212.8L466.4 212.8zM471.3 204.8L475 212.1L467.7 212.1zM472.5 204.1L476.2 211.4L468.9 211.4zM473.8 203.3L477.4 210.6L470.1 210.6zM475 202.6L478.6 209.9L471.3 209.9zM476.1 201.9L479.8 209.2L472.5 209.2zM477.3 201.2L480.9 208.5L473.6 208.5zM478.4 200.5L482.1 207.8L474.8 207.8zM479.6 199.8L483.2 207.1L475.9 207.1zM480.7 199.1L484.4 206.4L477.1 206.4zM481.8 198.4L485.5 205.7L478.2 205.7zM482.9 197.7L486.6 205L479.3 205zM484 197L487.6 204.3L480.3 204.3zM485.1 196.3L488.7 203.6L481.4 203.6zM486.1 195.6L489.8 202.9L482.5 202.9zM487.1 194.9L490.8 202.2L483.5 202.2zM488.2 194.2L491.8 201.5L484.5 201.5zM489.2 193.5L492.8 200.8L485.5 200.8zM490.2 192.8L493.8 200.1L486.5 200.1zM491.2 192.2L494.8 199.5L487.5 199.5zM492.2 191.5L495.8 198.8L488.5 198.8zM493.1 190.8L496.8 198.1L489.5 198.1zM494.1 190.1L497.8 197.4L490.5 197.4zM495.1 189.4L498.7 196.7L491.4 196.7zM496 188.6L499.6 195.9L492.3 195.9zM496.9 187.9L500.6 195.2L493.3 195.2zM497.8 187.2L501.5 194.5L494.2 194.5zM498.8 186.5L502.4 193.8L495.1 193.8zM499.7 185.8L503.3 193.1L496 193.1zM500.5 185L504.2 192.3L496.9 192.3zM501.4 184.2L505.1 191.5L497.8 191.5zM502.3 183.4L505.9 190.7L498.6 190.7zM503.2 182.6L506.8 189.9L499.5 189.9zM504 181.7L507.7 189L500.4 189zM504.9 180.8L508.5 188.1L501.2 188.1zM505.7 180L509.4 187.3L502.1 187.3zM506.5 179.1L510.2 186.4L502.9 186.4zM507.4 178.3L511 185.6L503.7 185.6zM508.2 177.5L511.8 184.8L504.5 184.8zM509 176.8L512.6 184.1L505.3 184.1zM509.8 176.1L513.4 183.4L506.1 183.4zM510.6 175.4L514.2 182.7L506.9 182.7zM511.4 174.8L515 182.1L507.7 182.1zM512.2 174.2L515.8 181.5L508.5 181.5zM512.9 173.7L516.6 181L509.3 181zM513.7 173.2L517.3 180.5L510 180.5zM514.4 172.7L518.1 180L510.8 180zM515.2 172.2L518.9 179.5L511.6 179.5zM515.9 171.7L519.6 179L512.3 179zM516.7 171.1L520.3 178.4L513 178.4zM517.4 170.6L521.1 177.9L513.8 177.9zM518.2 170.1L521.8 177.4L514.5 177.4zM518.9 169.5L522.5 176.8L515.2 176.8zM519.6 168.9L523.2 176.2L515.9 176.2zM520.3 168.3L523.9 175.6L516.6 175.6zM521 167.7L524.7 175L517.4 175zM522 166.6L525.7 173.9L518.4 173.9zM522.7 165.9L526.4 173.2L519.1 173.2zM523.4 165.1L527.1 172.4L519.8 172.4zM524.1 164.4L527.8 171.7L520.5 171.7zM524.8 163.6L528.4 170.9L521.1 170.9zM525.4 162.8L529.1 170.1L521.8 170.1zM526.1 162L529.8 169.3L522.5 169.3zM526.8 161.2L530.4 168.5L523.1 168.5zM527.4 160.4L531.1 167.7L523.8 167.7zM528.1 159.6L531.7 166.9L524.4 166.9zM528.7 158.8L532.4 166.1L525.1 166.1zM529.4 158L533 165.3L525.7 165.3zM530 157.3L533.6 164.6L526.3 164.6zM530.6 156.5L534.3 163.8L527 163.8zM531.2 155.8L534.9 163.1L527.6 163.1zM531.9 155L535.5 162.3L528.2 162.3zM532.5 154.3L536.1 161.6L528.8 161.6zM533.4 153.3L537.1 160.6L529.8 160.6zM534.3 152.4L538 159.7L530.7 159.7zM535.2 151.5L538.9 158.8L531.6 158.8zM536.1 150.6L539.7 157.9L532.4 157.9zM537 149.8L540.6 157.1L533.3 157.1zM537.8 149L541.5 156.3L534.2 156.3zM538.7 148.3L542.4 155.6L535.1 155.6zM539.6 147.6L543.2 154.9L535.9 154.9zM540.4 146.8L544.1 154.1L536.8 154.1zM541.2 146.1L544.9 153.4L537.6 153.4zM542.1 145.4L545.7 152.7L538.4 152.7zM542.9 144.8L546.6 152.1L539.3 152.1zM543.7 144.1L547.4 151.4L540.1 151.4zM544.5 143.5L548.2 150.8L540.9 150.8zM545.3 142.8L549 150.1L541.7 150.1zM546.1 142.2L549.8 149.5L542.5 149.5zM546.9 141.5L550.5 148.8L543.2 148.8zM547.7 140.9L551.3 148.2L544 148.2zM548.4 140.3L552.1 147.6L544.8 147.6zM549.2 139.6L552.9 146.9L545.6 146.9zM550 139L553.6 146.3L546.3 146.3zM550.7 138.4L554.4 145.7L547.1 145.7zM551.5 137.8L555.1 145.1L547.8 145.1zM552.2 137.1L555.9 144.4L548.6 144.4zM552.9 136.5L556.6 143.8L549.3 143.8zM553.7 135.9L557.3 143.2L550 143.2zM554.4 135.3L558 142.6L550.7 142.6zM555.1 134.7L558.7 142L551.4 142zM555.8 134.1L559.5 141.4L552.2 141.4zM556.5 133.5L560.2 140.8L552.9 140.8zM557.4 132.7L561.1 140L553.8 140zM558.4 132L562 139.3L554.7 139.3zM559.3 131.2L562.9 138.5L555.6 138.5zM560.2 130.4L563.8 137.7L556.5 137.7zM561.1 129.7L564.7 137L557.4 137zM561.9 129L565.6 136.3L558.3 136.3zM562.8 128.2L566.5 135.5L559.2 135.5z" fill="#0066ff"/>
<path d="M69.9 369.3L116.9 351L147.2 344.5L169.7 340.9L187.5 332.4L202.3 328.3L215 323.5L226 321L235.8 317.8L244.6 315.3L252.6 312.8L259.9 310.3L266.7 308L272.9 305.9L278.8 304.1L284.3 302.5L289.4 301.1L294.3 299.7L298.9 298.3L303.3 297L307.5 295.8L311.4 294.6L315.2 293.5L318.9 292.5L322.4 291.4L325.7 290.4L329 289.4L332.1 288.5L335.1 287.5L338 286.6L340.9 285.7L343.6 284.8L346.2 283.8L348.8 282.9L351.3 282L353.7 281.1L356.1 280.2L358.4 279.3L360.6 278.4L362.8 277.5L364.9 276.6L367 275.8L369 274.9L371 274L373 273.2L374.9 272.3L376.7 271.5L378.5 270.7L380.3 269.9L382.1 269.1L383.8 268.3L385.5 267.5L387.1 266.7L388.7 265.9L390.3 265.2L391.9 264.4L393.4 263.7L394.9 263L396.4 262.3L397.8 261.6L399.3 260.9L400.7 260.2L402.1 259.5L403.4 258.8L404.8 258.1L406.1 257.5L407.4 256.8L408.7 256.2L409.9 255.5L411.2 254.9L412.4 254.2L413.6 253.6L414.8 253L416 252.4L417.2 251.7L418.3 251.1L419.4 250.5L420.6 249.9L421.7 249.3L422.7 248.7L423.8 248.1L424.9 247.5L425.9 247L427 246.4L428 245.8L429 245.2L430 244.7L431 244.1L432 243.6L433 243L433.9 242.5L434.9 241.9L435.8 241.4L436.7 240.9L437.6 240.3L438.6 239.8L439.5 239.3L440.3 238.8L441.2 238.2L442.1 237.7L443 237.2L443.8 236.7L444.7 236.2L445.5 235.7L446.3 235.2L447.2 234.7L448 234.2L448.8 233.7L449.6 233.3L450.4 232.8L451.2 232.3L451.9 231.8L452.7 231.4L453.5 230.9L454.2 230.4L455 230L455.7 229.5L456.5 229L457.2 228.6L457.9 228.1L458.6 227.7L459.4 227.2L460.1 226.7L460.8 226.3L461.5 225.8L462.2 225.4L462.8 224.9L463.5 224.5L464.2 224.1L464.9 223.6L465.5 223.2L466.2 222.7L466.9 222.3L467.5 221.8L468.1 221.4L468.8 220.9L469.4 220.5L470.1 220.1L470.7 219.6L471.3 219.2L471.9 218.7L472.5 218.3L473.1 217.9L473.8 217.4L474.4 217L475 216.5L475.5 216.1L476.1 215.7L476.7 215.2L477.3 214.8L477.9 214.3L478.4 213.9L479 213.5L479.6 213L480.1 212.6L480.7 212.1L481.3 211.7L481.8 211.3L482.4 210.8L482.9 210.4L483.4 209.9L484 209.5L484.5 209.1L485.1 208.6L485.6 208.2L486.1 207.8L486.6 207.3L487.1 206.9L487.7 206.5L488.2 206L488.7 205.6L489.2 205.2L489.7 204.7L490.2 204.3L490.7 203.9L491.2 203.4L491.7 203L492.2 202.6L492.7 202.1L493.1 201.7L493.6 201.3L494.1 200.8L494.6 200.4L495.1 200L495.5 199.6L496 199.1L496.5 198.7L496.9 198.3L497.4 197.8L497.8 197.4L498.3 197L498.8 196.6L499.2 196.2L499.7 195.7L500.1 195.3L500.5 194.9L501 194.4L501.4 194L501.9 193.5L502.3 193.1L502.7 192.6L503.2 192.2L503.6 191.7L504 191.2L504.4 190.8L504.9 190.3L505.3 189.9L505.7 189.4L506.1 188.9L506.5 188.5L507 188.1L507.4 187.6L507.8 187.2L508.2 186.8L508.6 186.4L509 186L509.4 185.6L509.8 185.2L510.2 184.8L510.6 184.5L511 184.1L511.4 183.8L511.8 183.5L512.2 183.2L512.5 182.8L512.9 182.5L513.3 182.2L513.7 181.9L514.1 181.7L514.4 181.4L514.8 181.1L515.2 180.8L515.6 180.5L515.9 180.2L516.3 179.9L516.7 179.6L517.1 179.3L517.4 179L517.8 178.7L518.2 178.4L518.5 178.1L518.9 177.8L519.2 177.4L519.6 177.1L519.9 176.8L520.3 176.4L520.7 176L521 175.6L521.4 175.2L521.7 174.8L522 174.4L522.4 174L522.7 173.6L523.1 173.1L523.4 172.7L523.8 172.2L524.1 171.7L524.4 171.3L524.8 170.8L525.1 170.3L525.4 169.9L525.8 169.4L526.1 168.9L526.4 168.4L526.8 167.9L527.1 167.5L527.4 167L527.7 166.5L528.1 166L528.4 165.6L528.7 165.1L529 164.6L529.4 164.2L529.7 163.7L530 163.2L530.3 162.8L530.6 162.4L530.9 161.9L531.2 161.5L531.6 161.1L531.9 160.7L532.2 160.2L532.5 159.8L532.8 159.5L533.1 159.1L533.4 158.7L533.7 158.3L534 158L534.3 157.6L534.6 157.3L534.9 157L535.2 156.7L535.5 156.4L535.8 156.1L536.1 155.8L536.4 155.5L536.7 155.2L537 154.9L537.3 154.7L537.6 154.4L537.8 154.1L538.1 153.9L538.4 153.6L538.7 153.3L539 153.1L539.3 152.8L539.6 152.6L539.8 152.3L540.1 152.1L540.4 151.9L540.7 151.6L541 151.4L541.2 151.2L541.5 150.9L541.8 150.7L542.1 150.5L542.4 150.2L542.6 150L542.9 149.8L543.2 149.6L543.4 149.4L543.7 149.1L544 148.9L544.3 148.7L544.5 148.5L544.8 148.3L545.1 148.1L545.3 147.9L545.6 147.7L545.8 147.4L546.1 147.2L546.4 147L546.6 146.8L546.9 146.6L547.2 146.4L547.4 146.2L547.7 146L547.9 145.7L548.2 145.5L548.4 145.3L548.7 145.1L549 144.9L549.2 144.7L549.5 144.5L549.7 144.2L550 144L550.2 143.8L550.5 143.6L550.7 143.4L551 143.2L551.2 142.9L551.5 142.7L551.7 142.5L552 142.3L552.2 142.1L552.4 141.9L552.7 141.7L552.9 141.4L553.2 141.2L553.4 141L553.7 140.8L553.9 140.6L554.1 140.4L554.4 140.2L554.6 140L554.9 139.8L555.1 139.5L555.3 139.3L555.6 139.1L555.8 138.9L556 138.7L556.3 138.5L556.5 138.3L556.7 138.1L557 137.9L557.2 137.7L557.4 137.5L557.7 137.3L557.9 137.1L558.1 136.9L558.4 136.7L558.6 136.5L558.8 136.3L559 136.1L559.3 135.9L559.5 135.7L559.7 135.5L559.9 135.3L560.2 135.1L560.4 134.9L560.6 134.7L560.8 134.5L561.1 134.3L561.3 134.1L561.5 133.9L561.7 133.7L561.9 133.5L562.2 133.3L562.4 133.1L562.6 132.9L562.8 132.7" fill="none" stroke="#00ffff" stroke-width="2.6" stroke-linejoin="round"/>
<path d="M116.9 355L120.5 347.7L113.2 347.7zM147.2 348.5L150.9 341.2L143.6 341.2zM169.7 344.9L173.3 337.6L166 337.6zM187.5 336.4L191.2 329.1L183.9 329.1zM202.3 332.3L206 325L198.7 325zM215 327.5L218.6 320.2L211.3 320.2zM226 325L229.7 317.7L222.4 317.7zM235.8 321.8L239.4 314.5L232.1 314.5zM244.6 319.3L248.3 312L241 312zM252.6 316.8L256.3 309.5L249 309.5zM259.9 314.3L263.6 307L256.3 307zM266.7 312L270.3 304.7L263 304.7zM272.9 310L276.6 302.7L269.3 302.7zM278.8 308.2L282.4 300.9L275.1 300.9zM284.3 306.6L287.9 299.3L280.6 299.3zM289.4 305.1L293.1 297.8L285.8 297.8zM294.3 303.7L297.9 296.4L290.6 296.4zM298.9 302.3L302.6 295L295.3 295zM303.3 301L306.9 293.7L299.6 293.7zM307.5 299.8L311.1 292.5L303.8 292.5zM311.4 298.6L315.1 291.3L307.8 291.3zM315.2 297.5L318.9 290.2L311.6 290.2zM318.9 296.5L322.5 289.2L315.2 289.2zM322.4 295.4L326 288.1L318.7 288.1zM325.7 294.4L329.4 287.1L322.1 287.1zM329 293.5L332.6 286.2L325.3 286.2zM332.1 292.5L335.8 285.2L328.5 285.2zM335.1 291.6L338.8 284.3L331.5 284.3zM338 290.6L341.7 283.3L334.4 283.3zM340.9 289.7L344.5 282.4L337.2 282.4zM343.6 288.8L347.2 281.5L339.9 281.5zM346.2 287.9L349.9 280.6L342.6 280.6zM348.8 286.9L352.5 279.6L345.2 279.6zM351.3 286L354.9 278.7L347.6 278.7zM353.7 285.1L357.4 277.8L350.1 277.8zM356.1 284.2L359.7 276.9L352.4 276.9zM358.4 283.3L362 276L354.7 276zM360.6 282.4L364.3 275.1L357 275.1zM362.8 281.5L366.5 274.2L359.2 274.2zM364.9 280.7L368.6 273.4L361.3 273.4zM367 279.8L370.7 272.5L363.4 272.5zM369 278.9L372.7 271.6L365.4 271.6zM371 278.1L374.7 270.8L367.4 270.8zM373 277.2L376.6 269.9L369.3 269.9zM374.9 276.4L378.5 269.1L371.2 269.1zM376.7 275.5L380.4 268.2L373.1 268.2zM378.5 274.7L382.2 267.4L374.9 267.4zM380.3 273.9L384 266.6L376.7 266.6zM382.1 273.1L385.7 265.8L378.4 265.8zM383.8 272.3L387.4 265L380.1 265zM385.5 271.5L389.1 264.2L381.8 264.2zM387.1 270.7L390.8 263.4L383.5 263.4zM388.7 270L392.4 262.7L385.1 262.7zM390.3 269.2L394 261.9L386.7 261.9zM391.9 268.5L395.5 261.2L388.2 261.2zM393.4 267.7L397 260.4L389.7 260.4zM394.9 267L398.6 259.7L391.3 259.7zM396.4 266.3L400 259L392.7 259zM397.8 265.6L401.5 258.3L394.2 258.3zM399.3 264.9L402.9 257.6L395.6 257.6zM400.7 264.2L404.3 256.9L397 256.9zM402.1 263.5L405.7 256.2L398.4 256.2zM403.4 262.8L407.1 255.5L399.8 255.5zM404.8 262.2L408.4 254.9L401.1 254.9zM406.1 261.5L409.7 254.2L402.4 254.2zM407.4 260.8L411 253.5L403.7 253.5zM408.7 260.2L412.3 252.9L405 252.9zM409.9 259.5L413.6 252.2L406.3 252.2zM411.2 258.9L414.8 251.6L407.5 251.6zM412.4 258.2L416.1 250.9L408.8 250.9zM413.6 257.6L417.3 250.3L410 250.3zM414.8 257L418.5 249.7L411.2 249.7zM416 256.4L419.6 249.1L412.3 249.1zM417.2 255.7L420.8 248.4L413.5 248.4zM418.3 255.1L422 247.8L414.7 247.8zM419.4 254.5L423.1 247.2L415.8 247.2zM420.6 253.9L424.2 246.6L416.9 246.6zM421.7 253.3L425.3 246L418 246zM422.7 252.7L426.4 245.4L419.1 245.4zM423.8 252.1L427.5 244.8L420.2 244.8zM424.9 251.6L428.5 244.3L421.2 244.3zM425.9 251L429.6 243.7L422.3 243.7zM427 250.4L430.6 243.1L423.3 243.1zM428 249.8L431.7 242.5L424.4 242.5zM429 249.3L432.7 242L425.4 242zM430 248.7L433.7 241.4L426.4 241.4zM431 248.1L434.7 240.8L427.4 240.8zM432 247.6L435.6 240.3L428.3 240.3zM433 247L436.6 239.7L429.3 239.7zM433.9 246.5L437.6 239.2L430.3 239.2zM434.9 245.9L438.5 238.6L431.2 238.6zM435.8 245.4L439.5 238.1L432.2 238.1zM436.7 244.9L440.4 237.6L433.1 237.6zM437.6 244.3L441.3 237L434 237zM438.6 243.8L442.2 236.5L434.9 236.5zM439.5 243.3L443.1 236L435.8 236zM440.3 242.8L444 235.5L436.7 235.5zM441.2 242.3L444.9 235L437.6 235zM442.1 241.7L445.7 234.4L438.4 234.4zM443 241.2L446.6 233.9L439.3 233.9zM443.8 240.7L447.5 233.4L440.2 233.4zM444.7 240.2L448.3 232.9L441 232.9zM445.5 239.7L449.2 232.4L441.9 232.4zM446.3 239.2L450 231.9L442.7 231.9zM447.2 238.7L450.8 231.4L443.5 231.4zM448 238.2L451.6 230.9L444.3 230.9zM448.8 237.8L452.4 230.5L445.1 230.5zM449.6 237.3L453.2 230L445.9 230zM450.4 236.8L454 229.5L446.7 229.5zM451.2 236.3L454.8 229L447.5 229zM451.9 235.8L455.6 228.5L448.3 228.5zM452.7 235.4L456.4 228.1L449.1 228.1zM453.5 234.9L457.1 227.6L449.8 227.6zM454.2 234.4L457.9 227.1L450.6 227.1zM455 234L458.6 226.7L451.3 226.7zM455.7 233.5L459.4 226.2L452.1 226.2zM456.5 233L460.1 225.7L452.8 225.7zM457.2 232.6L460.8 225.3L453.5 225.3zM457.9 232.1L461.6 224.8L454.3 224.8zM458.6 231.7L462.3 224.4L455 224.4zM459.4 231.2L463 223.9L455.7 223.9zM460.1 230.8L463.7 223.5L456.4 223.5zM460.8 230.3L464.4 223L457.1 223zM462.2 229.4L465.8 222.1L458.5 222.1zM463.5 228.5L467.2 221.2L459.9 221.2zM464.9 227.6L468.5 220.3L461.2 220.3zM466.2 226.7L469.8 219.4L462.5 219.4zM467.5 225.8L471.2 218.5L463.9 218.5zM468.8 225L472.4 217.7L465.1 217.7zM470.1 224.1L473.7 216.8L466.4 216.8zM471.3 223.2L475 215.9L467.7 215.9zM472.5 222.3L476.2 215L468.9 215zM473.8 221.4L477.4 214.1L470.1 214.1zM475 220.6L478.6 213.3L471.3 213.3zM476.1 219.7L479.8 212.4L472.5 212.4zM477.3 218.8L480.9 211.5L473.6 211.5zM478.4 217.9L482.1 210.6L474.8 210.6zM479.6 217L483.2 209.7L475.9 209.7zM480.7 216.2L484.4 208.9L477.1 208.9zM481.8 215.3L485.5 208L478.2 208zM482.9 214.4L486.6 207.1L479.3 207.1zM484 213.5L487.6 206.2L480.3 206.2zM485.1 212.6L488.7 205.3L481.4 205.3zM486.1 211.8L489.8 204.5L482.5 204.5zM487.1 210.9L490.8 203.6L483.5 203.6zM488.2 210L491.8 202.7L484.5 202.7zM489.2 209.2L492.8 201.9L485.5 201.9zM490.2 208.3L493.8 201L486.5 201zM491.2 207.4L494.8 200.1L487.5 200.1zM492.2 206.6L495.8 199.3L488.5 199.3zM493.1 205.7L496.8 198.4L489.5 198.4zM494.1 204.9L497.8 197.6L490.5 197.6zM495.1 204L498.7 196.7L491.4 196.7zM496 203.1L499.6 195.8L492.3 195.8zM496.9 202.3L500.6 195L493.3 195zM497.8 201.4L501.5 194.1L494.2 194.1zM498.8 200.6L502.4 193.3L495.1 193.3zM499.7 199.7L503.3 192.4L496 192.4zM500.5 198.9L504.2 191.6L496.9 191.6zM501.4 198L505.1 190.7L497.8 190.7zM502.3 197.1L505.9 189.8L498.6 189.8zM503.2 196.2L506.8 188.9L499.5 188.9zM504 195.3L507.7 188L500.4 188zM504.9 194.3L508.5 187L501.2 187zM505.7 193.4L509.4 186.1L502.1 186.1zM506.5 192.5L510.2 185.2L502.9 185.2zM507.4 191.6L511 184.3L503.7 184.3zM508.2 190.8L511.8 183.5L504.5 183.5zM509 190L512.6 182.7L505.3 182.7zM509.8 189.2L513.4 181.9L506.1 181.9zM510.6 188.5L514.2 181.2L506.9 181.2zM511.4 187.8L515 180.5L507.7 180.5zM512.2 187.2L515.8 179.9L508.5 179.9zM512.9 186.6L516.6 179.3L509.3 179.3zM513.7 186L517.3 178.7L510 178.7zM514.4 185.4L518.1 178.1L510.8 178.1zM515.2 184.8L518.9 177.5L511.6 177.5zM515.9 184.2L519.6 176.9L512.3 176.9zM516.7 183.7L520.3 176.4L513 176.4zM517.4 183.1L521.1 175.8L513.8 175.8zM518.2 182.4L521.8 175.1L514.5 175.1zM518.9 181.8L522.5 174.5L515.2 174.5zM519.6 181.1L523.2 173.8L515.9 173.8zM520.3 180.4L523.9 173.1L516.6 173.1zM521 179.7L524.7 172.4L517.4 172.4zM521.7 178.8L525.4 171.5L518.1 171.5zM522.4 178L526 170.7L518.7 170.7zM523.1 177.1L526.7 169.8L519.4 169.8zM523.8 176.2L527.4 168.9L520.1 168.9zM524.4 175.3L528.1 168L520.8 168zM525.1 174.4L528.8 167.1L521.5 167.1zM525.8 173.4L529.4 166.1L522.1 166.1zM526.4 172.4L530.1 165.1L522.8 165.1zM527.1 171.5L530.7 164.2L523.4 164.2zM527.7 170.5L531.4 163.2L524.1 163.2zM528.4 169.6L532 162.3L524.7 162.3zM529 168.6L532.7 161.3L525.4 161.3zM529.7 167.7L533.3 160.4L526 160.4zM530.3 166.8L534 159.5L526.7 159.5zM530.9 165.9L534.6 158.6L527.3 158.6zM531.6 165.1L535.2 157.8L527.9 157.8zM532.2 164.3L535.8 157L528.5 157zM532.8 163.5L536.4 156.2L529.1 156.2zM533.4 162.7L537.1 155.4L529.8 155.4zM534 162L537.7 154.7L530.4 154.7zM534.9 161L538.6 153.7L531.3 153.7zM535.8 160.1L539.5 152.8L532.2 152.8zM536.7 159.2L540.3 151.9L533 151.9zM537.6 158.4L541.2 151.1L533.9 151.1zM538.4 157.6L542.1 150.3L534.8 150.3zM539.3 156.8L542.9 149.5L535.6 149.5zM540.1 156.1L543.8 148.8L536.5 148.8zM541 155.4L544.6 148.1L537.3 148.1zM541.8 154.7L545.5 147.4L538.2 147.4zM542.6 154L546.3 146.7L539 146.7zM543.4 153.4L547.1 146.1L539.8 146.1zM544.3 152.7L547.9 145.4L540.6 145.4zM545.1 152.1L548.7 144.8L541.4 144.8zM545.8 151.5L549.5 144.2L542.2 144.2zM546.6 150.8L550.3 143.5L543 143.5zM547.4 150.2L551.1 142.9L543.8 142.9zM548.2 149.6L551.8 142.3L544.5 142.3zM549 148.9L552.6 141.6L545.3 141.6zM549.7 148.3L553.4 141L546.1 141zM550.5 147.6L554.1 140.3L546.8 140.3zM551.2 147L554.9 139.7L547.6 139.7zM552 146.3L555.6 139L548.3 139zM552.7 145.7L556.3 138.4L549 138.4zM553.4 145L557.1 137.7L549.8 137.7zM554.1 144.4L557.8 137.1L550.5 137.1zM554.9 143.8L558.5 136.5L551.2 136.5zM555.6 143.1L559.2 135.8L551.9 135.8zM556.3 142.5L559.9 135.2L552.6 135.2zM557.2 141.7L560.9 134.4L553.6 134.4zM558.1 140.9L561.8 133.6L554.5 133.6zM559 140.1L562.7 132.8L555.4 132.8zM559.9 139.3L563.6 132L556.3 132zM560.8 138.5L564.5 131.2L557.2 131.2zM561.7 137.7L565.4 130.4L558.1 130.4zM562.6 136.9L566.2 129.6L558.9 129.6z" fill="#00ffff"/>
<path d="M69.9 377.4L116.9 360.5L147.2 353.6L169.7 349.6L187.5 341.7L202.3 339.5L215 333.7L226 331.2L235.8 328.6L244.6 324.8L252.6 322.1L259.9 320L266.7 318.2L272.9 316.5L278.8 314.8L284.3 313.3L289.4 311.9L294.3 310.6L298.9 309.3L303.3 308.1L307.5 306.9L311.4 305.8L315.2 304.7L318.9 303.7L322.4 302.6L325.7 301.7L329 300.7L332.1 299.8L335.1 298.9L338 298L340.9 297.1L343.6 296.2L346.2 295.3L348.8 294.4L351.3 293.5L353.7 292.7L356.1 291.8L358.4 291L360.6 290.1L362.8 289.3L364.9 288.5L367 287.7L369 286.9L371 286.1L373 285.3L374.9 284.5L376.7 283.7L378.5 283L380.3 282.2L382.1 281.5L383.8 280.7L385.5 280L387.1 279.2L388.7 278.5L390.3 277.8L391.9 277.1L393.4 276.3L394.9 275.6L396.4 274.9L397.8 274.2L399.3 273.6L400.7 272.9L402.1 272.2L403.4 271.5L404.8 270.8L406.1 270.1L407.4 269.5L408.7 268.8L409.9 268.1L411.2 267.4L412.4 266.7L413.6 266.1L414.8 265.4L416 264.7L417.2 264.1L418.3 263.4L419.4 262.8L420.6 262.1L421.7 261.5L422.7 260.8L423.8 260.2L424.9 259.6L425.9 258.9L427 258.3L428 257.7L429 257.1L430 256.5L431 255.8L432 255.2L433 254.7L433.9 254.1L434.9 253.5L435.8 252.9L436.7 252.3L437.6 251.7L438.6 251.2L439.5 250.6L440.3 250.1L441.2 249.5L442.1 249L443 248.4L443.8 247.9L444.7 247.4L445.5 246.8L446.3 246.3L447.2 245.8L448 245.3L448.8 244.8L449.6 244.3L450.4 243.8L451.2 243.3L451.9 242.8L452.7 242.3L453.5 241.8L454.2 241.4L455 240.9L455.7 240.4L456.5 240L457.2 239.5L457.9 239.1L458.6 238.6L459.4 238.2L460.1 237.7L460.8 237.3L461.5 236.8L462.2 236.4L462.8 235.9L463.5 235.5L464.2 235L464.9 234.6L465.5 234.1L466.2 233.7L466.9 233.2L467.5 232.8L468.1 232.4L468.8 231.9L469.4 231.5L470.1 231L470.7 230.6L471.3 230.1L471.9 229.6L472.5 229.2L473.1 228.7L473.8 228.3L474.4 227.8L475 227.3L475.5 226.9L476.1 226.4L476.7 225.9L477.3 225.5L477.9 225L478.4 224.5L479 224.1L479.6 223.6L480.1 223.1L480.7 222.6L481.3 222.2L481.8 221.7L482.4 221.2L482.9 220.7L483.4 220.2L484 219.8L484.5 219.3L485.1 218.8L485.6 218.3L486.1 217.8L486.6 217.3L487.1 216.9L487.7 216.4L488.2 215.9L488.7 215.4L489.2 214.9L489.7 214.4L490.2 213.9L490.7 213.4L491.2 212.9L491.7 212.4L492.2 211.9L492.7 211.5L493.1 211L493.6 210.5L494.1 210L494.6 209.5L495.1 209L495.5 208.5L496 208L496.5 207.4L496.9 206.9L497.4 206.4L497.8 205.9L498.3 205.4L498.8 204.9L499.2 204.4L499.7 203.9L500.1 203.4L500.5 202.9L501 202.3L501.4 201.7L501.9 201.1L502.3 200.5L502.7 199.9L503.2 199.3L503.6 198.7L504 198L504.4 197.4L504.9 196.8L505.3 196.1L505.7 195.5L506.1 194.9L506.5 194.3L507 193.7L507.4 193.2L507.8 192.6L508.2 192.1L508.6 191.6L509 191.1L509.4 190.6L509.8 190.2L510.2 189.8L510.6 189.4L511 189.1L511.4 188.7L511.8 188.4L512.2 188.1L512.5 187.8L512.9 187.5L513.3 187.2L513.7 187L514.1 186.7L514.4 186.4L514.8 186.2L515.2 185.9L515.6 185.7L515.9 185.4L516.3 185.1L516.7 184.9L517.1 184.6L517.4 184.3L517.8 184.1L518.2 183.8L518.5 183.5L518.9 183.2L519.2 182.8L519.6 182.5L519.9 182.2L520.3 181.8L520.7 181.4L521 181L521.4 180.6L521.7 180.2L522 179.7L522.4 179.3L522.7 178.8L523.1 178.4L523.4 177.9L523.8 177.4L524.1 176.9L524.4 176.4L524.8 175.9L525.1 175.4L525.4 174.9L525.8 174.3L526.1 173.8L526.4 173.3L526.8 172.8L527.1 172.2L527.4 171.7L527.7 171.2L528.1 170.6L528.4 170.1L528.7 169.6L529 169.1L529.4 168.5L529.7 168L530 167.5L530.3 167L530.6 166.5L530.9 166L531.2 165.5L531.6 165.1L531.9 164.6L532.2 164.1L532.5 163.7L532.8 163.2L533.1 162.8L533.4 162.4L533.7 162L534 161.6L534.3 161.2L534.6 160.8L534.9 160.4L535.2 160.1L535.5 159.7L535.8 159.4L536.1 159L536.4 158.7L536.7 158.3L537 158L537.3 157.7L537.6 157.4L537.8 157L538.1 156.7L538.4 156.4L538.7 156.1L539 155.8L539.3 155.5L539.6 155.2L539.8 154.9L540.1 154.6L540.4 154.3L540.7 154L541 153.7L541.2 153.5L541.5 153.2L541.8 152.9L542.1 152.6L542.4 152.4L542.6 152.1L542.9 151.8L543.2 151.6L543.4 151.3L543.7 151L544 150.8L544.3 150.5L544.5 150.2L544.8 150L545.1 149.7L545.3 149.5L545.6 149.2L545.8 149L546.1 148.7L546.4 148.5L546.6 148.2L546.9 148L547.2 147.7L547.4 147.5L547.7 147.2L547.9 147L548.2 146.7L548.4 146.5L548.7 146.2L549 146L549.2 145.8L549.5 145.5L549.7 145.3L550 145L550.2 144.8L550.5 144.5L550.7 144.3L551 144.1L551.2 143.8L551.5 143.6L551.7 143.4L552 143.1L552.2 142.9L552.4 142.7L552.7 142.4L552.9 142.2L553.2 142L553.4 141.7L553.7 141.5L553.9 141.3L554.1 141.1L554.4 140.8L554.6 140.6L554.9 140.4L555.1 140.2L555.3 140L555.6 139.7L555.8 139.5L556 139.3L556.3 139.1L556.5 138.9L556.7 138.7L557 138.4L557.2 138.2L557.4 138L557.7 137.8L557.9 137.6L558.1 137.4L558.4 137.2L558.6 137L558.8 136.8L559 136.6L559.3 136.4L559.5 136.2L559.7 136L559.9 135.8L560.2 135.6L560.4 135.4L560.6 135.2L560.8 135L561.1 134.8L561.3 134.6L561.5 134.4L561.7 134.2L561.9 134L562.2 133.8L562.4 133.6L562.6 133.4L562.8 133.2" fill="none" stroke="#44ff00" stroke-width="2.6" stroke-linejoin="round"/>
<path d="M116.9 356.3L121.1 360.5L116.9 364.7L112.7 360.5zM147.2 349.4L151.4 353.6L147.2 357.8L143 353.6zM169.7 345.4L173.9 349.6L169.7 353.8L165.5 349.6zM187.5 337.5L191.7 341.7L187.5 345.9L183.3 341.7zM202.3 335.3L206.5 339.5L202.3 343.7L198.1 339.5zM215 329.5L219.2 333.7L215 337.9L210.8 333.7zM226 327L230.2 331.2L226 335.4L221.8 331.2zM235.8 324.4L240 328.6L235.8 332.8L231.6 328.6zM244.6 320.6L248.8 324.8L244.6 329L240.4 324.8zM252.6 317.9L256.8 322.1L252.6 326.3L248.4 322.1zM259.9 315.8L264.1 320L259.9 324.2L255.7 320zM266.7 314L270.9 318.2L266.7 322.4L262.5 318.2zM272.9 312.3L277.1 316.5L272.9 320.7L268.8 316.5zM278.8 310.6L283 314.8L278.8 319L274.6 314.8zM284.3 309.1L288.5 313.3L284.3 317.5L280.1 313.3zM289.4 307.7L293.6 311.9L289.4 316.1L285.2 311.9zM294.3 306.4L298.5 310.6L294.3 314.8L290.1 310.6zM298.9 305.1L303.1 309.3L298.9 313.5L294.7 309.3zM303.3 303.9L307.5 308.1L303.3 312.3L299.1 308.1zM307.5 302.7L311.7 306.9L307.5 311.1L303.3 306.9zM311.4 301.6L315.6 305.8L311.4 310L307.2 305.8zM315.2 300.5L319.4 304.7L315.2 308.9L311 304.7zM318.9 299.5L323.1 303.7L318.9 307.8L314.7 303.7zM322.4 298.5L326.6 302.6L322.4 306.8L318.2 302.6zM325.7 297.5L329.9 301.7L325.7 305.9L321.5 301.7zM329 296.5L333.2 300.7L329 304.9L324.8 300.7zM332.1 295.6L336.3 299.8L332.1 304L327.9 299.8zM335.1 294.7L339.3 298.9L335.1 303.1L330.9 298.9zM338 293.8L342.2 298L338 302.2L333.8 298zM340.9 292.9L345 297.1L340.9 301.3L336.7 297.1zM343.6 292L347.8 296.2L343.6 300.4L339.4 296.2zM346.2 291.1L350.4 295.3L346.2 299.5L342 295.3zM348.8 290.2L353 294.4L348.8 298.6L344.6 294.4zM351.3 289.3L355.5 293.5L351.3 297.7L347.1 293.5zM353.7 288.5L357.9 292.7L353.7 296.9L349.5 292.7zM356.1 287.6L360.3 291.8L356.1 296L351.9 291.8zM358.4 286.8L362.6 291L358.4 295.2L354.2 291zM360.6 286L364.8 290.1L360.6 294.3L356.4 290.1zM362.8 285.1L367 289.3L362.8 293.5L358.6 289.3zM364.9 284.3L369.1 288.5L364.9 292.7L360.7 288.5zM367 283.5L371.2 287.7L367 291.9L362.8 287.7zM369 282.7L373.2 286.9L369 291.1L364.8 286.9zM371 281.9L375.2 286.1L371 290.3L366.8 286.1zM373 281.1L377.2 285.3L373 289.5L368.8 285.3zM374.9 280.3L379.1 284.5L374.9 288.7L370.7 284.5zM376.7 279.5L380.9 283.7L376.7 287.9L372.5 283.7zM378.5 278.8L382.7 283L378.5 287.2L374.3 283zM380.3 278L384.5 282.2L380.3 286.4L376.1 282.2zM382.1 277.3L386.3 281.5L382.1 285.7L377.9 281.5zM383.8 276.5L388 280.7L383.8 284.9L379.6 280.7zM385.5 275.8L389.7 280L385.5 284.2L381.3 280zM387.1 275L391.3 279.2L387.1 283.4L382.9 279.2zM388.7 274.3L392.9 278.5L388.7 282.7L384.5 278.5zM390.3 273.6L394.5 277.8L390.3 282L386.1 277.8zM391.9 272.9L396.1 277.1L391.9 281.3L387.7 277.1zM393.4 272.1L397.6 276.3L393.4 280.5L389.2 276.3zM394.9 271.4L399.1 275.6L394.9 279.8L390.7 275.6zM396.4 270.7L400.6 274.9L396.4 279.1L392.2 274.9zM397.8 270L402 274.2L397.8 278.4L393.6 274.2zM399.3 269.4L403.5 273.6L399.3 277.8L395.1 273.6zM400.7 268.7L404.9 272.9L400.7 277.1L396.5 272.9zM402.1 268L406.3 272.2L402.1 276.4L397.9 272.2zM403.4 267.3L407.6 271.5L403.4 275.7L399.2 271.5zM404.8 266.6L409 270.8L404.8 275L400.6 270.8zM406.1 265.9L410.3 270.1L406.1 274.3L401.9 270.1zM407.4 265.3L411.6 269.5L407.4 273.7L403.2 269.5zM408.7 264.6L412.9 268.8L408.7 273L404.5 268.8zM409.9 263.9L414.1 268.1L409.9 272.3L405.7 268.1zM411.2 263.2L415.4 267.4L411.2 271.6L407 267.4zM412.4 262.5L416.6 266.7L412.4 270.9L408.2 266.7zM413.6 261.9L417.8 266.1L413.6 270.3L409.4 266.1zM414.8 261.2L419 265.4L414.8 269.6L410.6 265.4zM416 260.5L420.2 264.7L416 268.9L411.8 264.7zM417.2 259.9L421.4 264.1L417.2 268.3L413 264.1zM418.3 259.2L422.5 263.4L418.3 267.6L414.1 263.4zM419.4 258.6L423.6 262.8L419.4 267L415.2 262.8zM420.6 257.9L424.8 262.1L420.6 266.3L416.4 262.1zM421.7 257.3L425.9 261.5L421.7 265.7L417.5 261.5zM422.7 256.6L426.9 260.8L422.7 265L418.5 260.8zM423.8 256L428 260.2L423.8 264.4L419.6 260.2zM424.9 255.4L429.1 259.6L424.9 263.8L420.7 259.6zM425.9 254.7L430.1 258.9L425.9 263.1L421.7 258.9zM427 254.1L431.2 258.3L427 262.5L422.8 258.3zM428 253.5L432.2 257.7L428 261.9L423.8 257.7zM429 252.9L433.2 257.1L429 261.3L424.8 257.1zM430 252.3L434.2 256.5L430 260.7L425.8 256.5zM431 251.7L435.2 255.8L431 260L426.8 255.8zM432 251.1L436.2 255.2L432 259.4L427.8 255.2zM433 250.5L437.2 254.7L433 258.9L428.8 254.7zM433.9 249.9L438.1 254.1L433.9 258.3L429.7 254.1zM434.9 249.3L439.1 253.5L434.9 257.7L430.7 253.5zM435.8 248.7L440 252.9L435.8 257.1L431.6 252.9zM436.7 248.1L440.9 252.3L436.7 256.5L432.5 252.3zM437.6 247.5L441.8 251.7L437.6 255.9L433.5 251.7zM438.6 247L442.8 251.2L438.6 255.4L434.4 251.2zM439.5 246.4L443.7 250.6L439.5 254.8L435.3 250.6zM440.3 245.9L444.5 250.1L440.3 254.3L436.1 250.1zM441.2 245.3L445.4 249.5L441.2 253.7L437 249.5zM442.1 244.8L446.3 249L442.1 253.2L437.9 249zM443 244.2L447.2 248.4L443 252.6L438.8 248.4zM443.8 243.7L448 247.9L443.8 252.1L439.6 247.9zM444.7 243.2L448.9 247.4L444.7 251.6L440.5 247.4zM445.5 242.6L449.7 246.8L445.5 251L441.3 246.8zM446.3 242.1L450.5 246.3L446.3 250.5L442.1 246.3zM447.2 241.6L451.4 245.8L447.2 250L443 245.8zM448 241.1L452.2 245.3L448 249.5L443.8 245.3zM448.8 240.6L453 244.8L448.8 249L444.6 244.8zM449.6 240.1L453.8 244.3L449.6 248.5L445.4 244.3zM450.4 239.6L454.6 243.8L450.4 248L446.2 243.8zM451.2 239.1L455.4 243.3L451.2 247.5L447 243.3zM451.9 238.6L456.1 242.8L451.9 247L447.7 242.8zM452.7 238.1L456.9 242.3L452.7 246.5L448.5 242.3zM453.5 237.6L457.7 241.8L453.5 246L449.3 241.8zM454.2 237.2L458.4 241.4L454.2 245.6L450 241.4zM455 236.7L459.2 240.9L455 245.1L450.8 240.9zM455.7 236.2L459.9 240.4L455.7 244.6L451.5 240.4zM456.5 235.8L460.7 240L456.5 244.2L452.3 240zM457.2 235.3L461.4 239.5L457.2 243.7L453 239.5zM457.9 234.9L462.1 239.1L457.9 243.3L453.7 239.1zM458.6 234.4L462.8 238.6L458.6 242.8L454.4 238.6zM459.4 234L463.6 238.2L459.4 242.4L455.2 238.2zM460.1 233.5L464.3 237.7L460.1 241.9L455.9 237.7zM460.8 233.1L465 237.3L460.8 241.5L456.6 237.3zM462.2 232.2L466.4 236.4L462.2 240.6L458 236.4zM463.5 231.3L467.7 235.5L463.5 239.7L459.3 235.5zM464.9 230.4L469.1 234.6L464.9 238.8L460.7 234.6zM466.2 229.5L470.4 233.7L466.2 237.9L462 233.7zM467.5 228.6L471.7 232.8L467.5 237L463.3 232.8zM468.8 227.7L473 231.9L468.8 236.1L464.6 231.9zM470.1 226.8L474.3 231L470.1 235.2L465.9 231zM471.3 225.9L475.5 230.1L471.3 234.3L467.1 230.1zM472.5 225L476.7 229.2L472.5 233.4L468.3 229.2zM473.8 224.1L478 228.3L473.8 232.5L469.6 228.3zM475 223.1L479.1 227.3L475 231.5L470.8 227.3zM476.1 222.2L480.3 226.4L476.1 230.6L471.9 226.4zM477.3 221.3L481.5 225.5L477.3 229.7L473.1 225.5zM478.4 220.3L482.6 224.5L478.4 228.7L474.3 224.5zM479.6 219.4L483.8 223.6L479.6 227.8L475.4 223.6zM480.7 218.4L484.9 222.6L480.7 226.8L476.5 222.6zM481.8 217.5L486 221.7L481.8 225.9L477.6 221.7zM482.9 216.5L487.1 220.7L482.9 224.9L478.7 220.7zM484 215.6L488.2 219.8L484 224L479.8 219.8zM485.1 214.6L489.2 218.8L485.1 223L480.9 218.8zM486.1 213.6L490.3 217.8L486.1 222L481.9 217.8zM487.1 212.7L491.3 216.9L487.1 221.1L482.9 216.9zM488.2 211.7L492.4 215.9L488.2 220.1L484 215.9zM489.2 210.7L493.4 214.9L489.2 219.1L485 214.9zM490.2 209.7L494.4 213.9L490.2 218.1L486 213.9zM491.2 208.7L495.4 212.9L491.2 217.1L487 212.9zM492.2 207.8L496.4 211.9L492.2 216.1L488 211.9zM493.1 206.8L497.3 211L493.1 215.2L488.9 211zM494.1 205.8L498.3 210L494.1 214.2L489.9 210zM495.1 204.8L499.2 209L495.1 213.2L490.9 209zM496 203.8L500.2 208L496 212.1L491.8 208zM496.9 202.7L501.1 206.9L496.9 211.1L492.7 206.9zM497.8 201.7L502 205.9L497.8 210.1L493.6 205.9zM498.8 200.7L502.9 204.9L498.8 209.1L494.6 204.9zM499.7 199.7L503.8 203.9L499.7 208.1L495.5 203.9zM500.5 198.7L504.7 202.9L500.5 207.1L496.3 202.9zM501.4 197.5L505.6 201.7L501.4 205.9L497.2 201.7zM502.3 196.3L506.5 200.5L502.3 204.7L498.1 200.5zM503.2 195.1L507.4 199.3L503.2 203.5L499 199.3zM504 193.8L508.2 198L504 202.2L499.8 198zM504.9 192.6L509.1 196.8L504.9 201L500.7 196.8zM505.7 191.3L509.9 195.5L505.7 199.7L501.5 195.5zM506.5 190.1L510.7 194.3L506.5 198.5L502.3 194.3zM507.4 189L511.6 193.2L507.4 197.4L503.2 193.2zM508.2 187.9L512.4 192.1L508.2 196.3L504 192.1zM509 186.9L513.2 191.1L509 195.3L504.8 191.1zM509.8 186L514 190.2L509.8 194.4L505.6 190.2zM510.6 185.2L514.8 189.4L510.6 193.6L506.4 189.4zM511.4 184.5L515.6 188.7L511.4 192.9L507.2 188.7zM512.2 183.9L516.3 188.1L512.2 192.3L508 188.1zM512.9 183.3L517.1 187.5L512.9 191.7L508.7 187.5zM513.7 182.8L517.9 187L513.7 191.2L509.5 187zM514.4 182.2L518.6 186.4L514.4 190.6L510.3 186.4zM515.2 181.7L519.4 185.9L515.2 190.1L511 185.9zM515.9 181.2L520.1 185.4L515.9 189.6L511.8 185.4zM516.7 180.7L520.9 184.9L516.7 189.1L512.5 184.9zM517.4 180.1L521.6 184.3L517.4 188.5L513.2 184.3zM518.2 179.6L522.3 183.8L518.2 188L514 183.8zM518.9 179L523.1 183.2L518.9 187.4L514.7 183.2zM519.6 178.3L523.8 182.5L519.6 186.7L515.4 182.5zM520.3 177.6L524.5 181.8L520.3 186L516.1 181.8zM521 176.8L525.2 181L521 185.2L516.8 181zM521.7 176L525.9 180.2L521.7 184.4L517.5 180.2zM522.4 175.1L526.6 179.3L522.4 183.5L518.2 179.3zM523.1 174.2L527.3 178.4L523.1 182.6L518.9 178.4zM523.8 173.2L528 177.4L523.8 181.6L519.6 177.4zM524.4 172.2L528.6 176.4L524.4 180.6L520.2 176.4zM525.1 171.2L529.3 175.4L525.1 179.6L520.9 175.4zM525.8 170.1L530 174.3L525.8 178.5L521.6 174.3zM526.4 169.1L530.6 173.3L526.4 177.5L522.2 173.3zM527.1 168L531.3 172.2L527.1 176.4L522.9 172.2zM527.7 167L531.9 171.2L527.7 175.4L523.5 171.2zM528.4 165.9L532.6 170.1L528.4 174.3L524.2 170.1zM529 164.9L533.2 169.1L529 173.3L524.8 169.1zM529.7 163.8L533.9 168L529.7 172.2L525.5 168zM530.3 162.8L534.5 167L530.3 171.2L526.1 167zM530.9 161.8L535.1 166L530.9 170.2L526.7 166zM531.6 160.9L535.8 165.1L531.6 169.3L527.4 165.1zM532.2 159.9L536.4 164.1L532.2 168.3L528 164.1zM532.8 159L537 163.2L532.8 167.4L528.6 163.2zM533.4 158.2L537.6 162.4L533.4 166.6L529.2 162.4zM534 157.4L538.2 161.6L534 165.7L529.8 161.6zM534.6 156.6L538.8 160.8L534.6 165L530.4 160.8zM535.2 155.9L539.4 160.1L535.2 164.3L531 160.1zM536.1 154.8L540.3 159L536.1 163.2L531.9 159zM537 153.8L541.2 158L537 162.2L532.8 158zM537.8 152.8L542 157L537.8 161.2L533.7 157zM538.7 151.9L542.9 156.1L538.7 160.3L534.5 156.1zM539.6 151L543.8 155.2L539.6 159.4L535.4 155.2zM540.4 150.1L544.6 154.3L540.4 158.5L536.2 154.3zM541.2 149.3L545.4 153.5L541.2 157.7L537.1 153.5zM542.1 148.4L546.3 152.6L542.1 156.8L537.9 152.6zM542.9 147.6L547.1 151.8L542.9 156L538.7 151.8zM543.7 146.8L547.9 151L543.7 155.2L539.5 151zM544.5 146L548.7 150.2L544.5 154.4L540.3 150.2zM545.3 145.3L549.5 149.5L545.3 153.7L541.1 149.5zM546.1 144.5L550.3 148.7L546.1 152.9L541.9 148.7zM546.9 143.8L551.1 148L546.9 152.2L542.7 148zM547.7 143L551.9 147.2L547.7 151.4L543.5 147.2zM548.4 142.3L552.6 146.5L548.4 150.7L544.2 146.5zM549.2 141.6L553.4 145.8L549.2 150L545 145.8zM550 140.8L554.2 145L550 149.2L545.8 145zM550.7 140.1L554.9 144.3L550.7 148.5L546.5 144.3zM551.5 139.4L555.7 143.6L551.5 147.8L547.3 143.6zM552.2 138.7L556.4 142.9L552.2 147.1L548 142.9zM552.9 138L557.1 142.2L552.9 146.4L548.7 142.2zM553.7 137.3L557.9 141.5L553.7 145.7L549.5 141.5zM554.4 136.6L558.6 140.8L554.4 145L550.2 140.8zM555.1 136L559.3 140.2L555.1 144.4L550.9 140.2zM555.8 135.3L560 139.5L555.8 143.7L551.6 139.5zM556.5 134.7L560.7 138.9L556.5 143.1L552.3 138.9zM557.4 133.8L561.6 138L557.4 142.2L553.2 138zM558.4 133L562.6 137.2L558.4 141.4L554.2 137.2zM559.3 132.2L563.5 136.4L559.3 140.6L555.1 136.4zM560.2 131.4L564.4 135.6L560.2 139.8L556 135.6zM561.1 130.6L565.2 134.8L561.1 139L556.9 134.8zM561.9 129.8L566.1 134L561.9 138.2L557.7 134zM562.8 129L567 133.2L562.8 137.4L558.6 133.2z" fill="#44ff00"/>
<path d="M69.9 389.8L116.9 375L147.2 368.2L169.7 363.6L187.5 355.4L202.3 352.2L215 347.7L226 344.5L235.8 341.4L244.6 338.2L252.6 336.1L259.9 334.4L266.7 333L272.9 331.5L278.8 330L284.3 328.5L289.4 327.1L294.3 325.7L298.9 324.3L303.3 323L307.5 321.6L311.4 320.3L315.2 319L318.9 317.7L322.4 316.5L325.7 315.3L329 314.1L332.1 312.9L335.1 311.8L338 310.7L340.9 309.7L343.6 308.6L346.2 307.6L348.8 306.7L351.3 305.7L353.7 304.8L356.1 303.9L358.4 303L360.6 302.2L362.8 301.4L364.9 300.6L367 299.8L369 299L371 298.2L373 297.5L374.9 296.7L376.7 296L378.5 295.3L380.3 294.6L382.1 293.8L383.8 293.1L385.5 292.4L387.1 291.7L388.7 291.1L390.3 290.4L391.9 289.7L393.4 289L394.9 288.3L396.4 287.7L397.8 287L399.3 286.3L400.7 285.7L402.1 285L403.4 284.4L404.8 283.7L406.1 283.1L407.4 282.5L408.7 281.9L409.9 281.2L411.2 280.6L412.4 280L413.6 279.4L414.8 278.8L416 278.2L417.2 277.6L418.3 277L419.4 276.4L420.6 275.8L421.7 275.3L422.7 274.7L423.8 274.1L424.9 273.5L425.9 272.9L427 272.4L428 271.8L429 271.2L430 270.6L431 270.1L432 269.5L433 268.9L433.9 268.3L434.9 267.8L435.8 267.2L436.7 266.6L437.6 266.1L438.6 265.5L439.5 264.9L440.3 264.4L441.2 263.8L442.1 263.2L443 262.7L443.8 262.1L444.7 261.5L445.5 260.9L446.3 260.4L447.2 259.8L448 259.2L448.8 258.7L449.6 258.1L450.4 257.5L451.2 257L451.9 256.4L452.7 255.8L453.5 255.2L454.2 254.5L455 253.9L455.7 253.3L456.5 252.7L457.2 252L457.9 251.4L458.6 250.7L459.4 250.1L460.1 249.4L460.8 248.8L461.5 248.1L462.2 247.5L462.8 246.8L463.5 246.1L464.2 245.5L464.9 244.8L465.5 244.2L466.2 243.5L466.9 242.9L467.5 242.2L468.1 241.6L468.8 241L469.4 240.3L470.1 239.7L470.7 239.1L471.3 238.5L471.9 237.8L472.5 237.2L473.1 236.6L473.8 236L474.4 235.4L475 234.8L475.5 234.3L476.1 233.7L476.7 233.1L477.3 232.6L477.9 232L478.4 231.4L479 230.9L479.6 230.3L480.1 229.8L480.7 229.2L481.3 228.7L481.8 228.2L482.4 227.6L482.9 227.1L483.4 226.6L484 226L484.5 225.5L485.1 225L485.6 224.5L486.1 223.9L486.6 223.4L487.1 222.9L487.7 222.4L488.2 221.8L488.7 221.3L489.2 220.8L489.7 220.3L490.2 219.7L490.7 219.2L491.2 218.7L491.7 218.2L492.2 217.6L492.7 217.1L493.1 216.6L493.6 216L494.1 215.5L494.6 214.9L495.1 214.4L495.5 213.9L496 213.3L496.5 212.8L496.9 212.2L497.4 211.7L497.8 211.1L498.3 210.5L498.8 210L499.2 209.4L499.7 208.8L500.1 208.3L500.5 207.7L501 207.1L501.4 206.4L501.9 205.7L502.3 205L502.7 204.3L503.2 203.6L503.6 202.9L504 202.2L504.4 201.5L504.9 200.8L505.3 200L505.7 199.3L506.1 198.6L506.5 198L507 197.3L507.4 196.7L507.8 196L508.2 195.4L508.6 194.9L509 194.3L509.4 193.8L509.8 193.3L510.2 192.9L510.6 192.5L511 192.1L511.4 191.7L511.8 191.3L512.2 191L512.5 190.7L512.9 190.3L513.3 190L513.7 189.7L514.1 189.4L514.4 189.1L514.8 188.9L515.2 188.6L515.6 188.3L515.9 188L516.3 187.7L516.7 187.4L517.1 187.1L517.4 186.8L517.8 186.5L518.2 186.2L518.5 185.9L518.9 185.5L519.2 185.2L519.6 184.8L519.9 184.5L520.3 184.1L520.7 183.7L521 183.2L521.4 182.8L521.7 182.3L522 181.9L522.4 181.4L522.7 180.9L523.1 180.4L523.4 179.9L523.8 179.4L524.1 178.8L524.4 178.3L524.8 177.8L525.1 177.2L525.4 176.7L525.8 176.1L526.1 175.6L526.4 175L526.8 174.5L527.1 173.9L527.4 173.4L527.7 172.8L528.1 172.2L528.4 171.7L528.7 171.1L529 170.6L529.4 170.1L529.7 169.5L530 169L530.3 168.5L530.6 167.9L530.9 167.4L531.2 166.9L531.6 166.4L531.9 165.9L532.2 165.5L532.5 165L532.8 164.5L533.1 164.1L533.4 163.6L533.7 163.2L534 162.8L534.3 162.4L534.6 162L534.9 161.6L535.2 161.2L535.5 160.9L535.8 160.5L536.1 160.2L536.4 159.8L536.7 159.5L537 159.2L537.3 158.8L537.6 158.5L537.8 158.2L538.1 157.8L538.4 157.5L538.7 157.2L539 156.9L539.3 156.6L539.6 156.3L539.8 156L540.1 155.7L540.4 155.4L540.7 155.1L541 154.8L541.2 154.6L541.5 154.3L541.8 154L542.1 153.7L542.4 153.4L542.6 153.2L542.9 152.9L543.2 152.6L543.4 152.4L543.7 152.1L544 151.8L544.3 151.6L544.5 151.3L544.8 151.1L545.1 150.8L545.3 150.5L545.6 150.3L545.8 150L546.1 149.8L546.4 149.5L546.6 149.3L546.9 149L547.2 148.8L547.4 148.5L547.7 148.3L547.9 148L548.2 147.8L548.4 147.5L548.7 147.3L549 147L549.2 146.8L549.5 146.5L549.7 146.3L550 146L550.2 145.8L550.5 145.5L550.7 145.3L551 145L551.2 144.8L551.5 144.6L551.7 144.3L552 144.1L552.2 143.8L552.4 143.6L552.7 143.3L552.9 143.1L553.2 142.9L553.4 142.6L553.7 142.4L553.9 142.2L554.1 141.9L554.4 141.7L554.6 141.5L554.9 141.2L555.1 141L555.3 140.8L555.6 140.6L555.8 140.3L556 140.1L556.3 139.9L556.5 139.6L556.7 139.4L557 139.2L557.2 139L557.4 138.8L557.7 138.5L557.9 138.3L558.1 138.1L558.4 137.9L558.6 137.7L558.8 137.5L559 137.2L559.3 137L559.5 136.8L559.7 136.6L559.9 136.4L560.2 136.2L560.4 136L560.6 135.8L560.8 135.6L561.1 135.3L561.3 135.1L561.5 134.9L561.7 134.7L561.9 134.5L562.2 134.3L562.4 134.1L562.6 133.9L562.8 133.7" fill="none" stroke="#ccff00" stroke-width="2.6" stroke-linejoin="round"/>
<path d="M112 375L120.8 370.6L120.8 379.4zM142.4 368.2L151.2 363.8L151.2 372.6zM164.8 363.6L173.6 359.2L173.6 368zM182.7 355.4L191.5 351L191.5 359.8zM197.5 352.2L206.3 347.8L206.3 356.6zM210.1 347.7L218.9 343.3L218.9 352.1zM221.2 344.5L230 340.1L230 348.9zM231 341.4L239.8 337L239.8 345.8zM239.8 338.2L248.6 333.8L248.6 342.6zM247.8 336.1L256.6 331.7L256.6 340.5zM255.1 334.4L263.9 330L263.9 338.8zM261.8 333L270.6 328.6L270.6 337.4zM268.1 331.5L276.9 327.1L276.9 335.9zM274 330L282.8 325.6L282.8 334.4zM279.4 328.5L288.2 324.1L288.2 332.9zM284.6 327.1L293.4 322.7L293.4 331.5zM289.5 325.7L298.3 321.3L298.3 330.1zM294.1 324.3L302.9 319.9L302.9 328.7zM298.4 323L307.2 318.6L307.2 327.4zM302.6 321.6L311.4 317.2L311.4 326zM306.6 320.3L315.4 315.9L315.4 324.7zM310.4 319L319.2 314.6L319.2 323.4zM314 317.7L322.8 313.3L322.8 322.1zM317.5 316.5L326.3 312.1L326.3 320.9zM320.9 315.3L329.7 310.9L329.7 319.7zM324.1 314.1L332.9 309.7L332.9 318.5zM327.3 312.9L336.1 308.5L336.1 317.3zM330.3 311.8L339.1 307.4L339.1 316.2zM333.2 310.7L342 306.3L342 315.1zM336 309.7L344.8 305.3L344.8 314.1zM338.7 308.6L347.5 304.2L347.5 313zM341.4 307.6L350.2 303.2L350.2 312zM344 306.7L352.8 302.3L352.8 311.1zM346.5 305.7L355.3 301.3L355.3 310.1zM348.9 304.8L357.7 300.4L357.7 309.2zM351.2 303.9L360 299.5L360 308.3zM353.5 303L362.3 298.6L362.3 307.4zM355.8 302.2L364.6 297.8L364.6 306.6zM358 301.4L366.8 297L366.8 305.8zM360.1 300.6L368.9 296.2L368.9 305zM362.2 299.8L371 295.4L371 304.2zM364.2 299L373 294.6L373 303.4zM366.2 298.2L375 293.8L375 302.6zM368.1 297.5L376.9 293.1L376.9 301.9zM370 296.7L378.8 292.3L378.8 301.1zM371.9 296L380.7 291.6L380.7 300.4zM373.7 295.3L382.5 290.9L382.5 299.7zM375.5 294.6L384.3 290.2L384.3 299zM377.2 293.8L386 289.4L386 298.2zM378.9 293.1L387.7 288.7L387.7 297.5zM380.6 292.4L389.4 288L389.4 296.8zM382.3 291.7L391.1 287.3L391.1 296.1zM383.9 291.1L392.7 286.7L392.7 295.5zM385.5 290.4L394.3 286L394.3 294.8zM387 289.7L395.8 285.3L395.8 294.1zM388.6 289L397.4 284.6L397.4 293.4zM390.1 288.3L398.9 283.9L398.9 292.7zM391.5 287.7L400.3 283.3L400.3 292.1zM393 287L401.8 282.6L401.8 291.4zM394.4 286.3L403.2 281.9L403.2 290.7zM395.8 285.7L404.6 281.3L404.6 290.1zM397.2 285L406 280.6L406 289.4zM398.6 284.4L407.4 280L407.4 288.8zM399.9 283.7L408.7 279.3L408.7 288.1zM401.2 283.1L410 278.7L410 287.5zM402.5 282.5L411.3 278.1L411.3 286.9zM403.8 281.9L412.6 277.5L412.6 286.3zM405.1 281.2L413.9 276.8L413.9 285.6zM406.3 280.6L415.1 276.2L415.1 285zM407.6 280L416.4 275.6L416.4 284.4zM408.8 279.4L417.6 275L417.6 283.8zM410 278.8L418.8 274.4L418.8 283.2zM411.2 278.2L420 273.8L420 282.6zM412.3 277.6L421.1 273.2L421.1 282zM413.5 277L422.3 272.6L422.3 281.4zM414.6 276.4L423.4 272L423.4 280.8zM415.7 275.8L424.5 271.4L424.5 280.2zM416.8 275.3L425.6 270.9L425.6 279.7zM417.9 274.7L426.7 270.3L426.7 279.1zM419 274.1L427.8 269.7L427.8 278.5zM420 273.5L428.8 269.1L428.8 277.9zM421.1 272.9L429.9 268.5L429.9 277.3zM422.1 272.4L430.9 268L430.9 276.8zM423.2 271.8L432 267.4L432 276.2zM424.2 271.2L433 266.8L433 275.6zM425.2 270.6L434 266.2L434 275zM426.2 270.1L435 265.7L435 274.5zM427.1 269.5L435.9 265.1L435.9 273.9zM428.1 268.9L436.9 264.5L436.9 273.3zM429.1 268.3L437.9 263.9L437.9 272.7zM430 267.8L438.8 263.4L438.8 272.2zM431 267.2L439.8 262.8L439.8 271.6zM431.9 266.6L440.7 262.2L440.7 271zM432.8 266.1L441.6 261.7L441.6 270.5zM433.7 265.5L442.5 261.1L442.5 269.9zM434.6 264.9L443.4 260.5L443.4 269.3zM435.5 264.4L444.3 260L444.3 268.8zM436.4 263.8L445.2 259.4L445.2 268.2zM437.3 263.2L446.1 258.8L446.1 267.6zM438.1 262.7L446.9 258.3L446.9 267.1zM439 262.1L447.8 257.7L447.8 266.5zM439.8 261.5L448.6 257.1L448.6 265.9zM440.7 260.9L449.5 256.5L449.5 265.3zM441.5 260.4L450.3 256L450.3 264.8zM442.3 259.8L451.1 255.4L451.1 264.2zM443.1 259.2L451.9 254.8L451.9 263.6zM443.9 258.7L452.7 254.3L452.7 263.1zM444.7 258.1L453.5 253.7L453.5 262.5zM445.5 257.5L454.3 253.1L454.3 261.9zM446.3 257L455.1 252.6L455.1 261.4zM447.1 256.4L455.9 252L455.9 260.8zM447.9 255.8L456.7 251.4L456.7 260.2zM448.6 255.2L457.4 250.8L457.4 259.6zM449.4 254.5L458.2 250.1L458.2 258.9zM450.1 253.9L458.9 249.5L458.9 258.3zM450.9 253.3L459.7 248.9L459.7 257.7zM451.6 252.7L460.4 248.3L460.4 257.1zM452.4 252L461.2 247.6L461.2 256.4zM453.1 251.4L461.9 247L461.9 255.8zM453.8 250.7L462.6 246.3L462.6 255.1zM454.5 250.1L463.3 245.7L463.3 254.5zM455.2 249.4L464 245L464 253.8zM455.9 248.8L464.7 244.4L464.7 253.2zM457.3 247.5L466.1 243.1L466.1 251.9zM458.7 246.1L467.5 241.7L467.5 250.5zM460 244.8L468.8 240.4L468.8 249.2zM461.4 243.5L470.2 239.1L470.2 247.9zM462.7 242.2L471.5 237.8L471.5 246.6zM463.9 241L472.7 236.6L472.7 245.4zM465.2 239.7L474 235.3L474 244.1zM466.5 238.5L475.3 234.1L475.3 242.9zM467.7 237.2L476.5 232.8L476.5 241.6zM468.9 236L477.7 231.6L477.7 240.4zM470.1 234.8L478.9 230.4L478.9 239.2zM471.3 233.7L480.1 229.3L480.1 238.1zM472.5 232.6L481.3 228.2L481.3 237zM473.6 231.4L482.4 227L482.4 235.8zM474.7 230.3L483.5 225.9L483.5 234.7zM475.9 229.2L484.7 224.8L484.7 233.6zM477 228.2L485.8 223.8L485.8 232.6zM478.1 227.1L486.9 222.7L486.9 231.5zM479.1 226L487.9 221.6L487.9 230.4zM480.2 225L489 220.6L489 229.4zM481.3 223.9L490.1 219.5L490.1 228.3zM482.3 222.9L491.1 218.5L491.1 227.3zM483.3 221.8L492.1 217.4L492.1 226.2zM484.3 220.8L493.1 216.4L493.1 225.2zM485.4 219.7L494.2 215.3L494.2 224.1zM486.3 218.7L495.1 214.3L495.1 223.1zM487.3 217.6L496.1 213.2L496.1 222zM488.3 216.6L497.1 212.2L497.1 221zM489.3 215.5L498.1 211.1L498.1 219.9zM490.2 214.4L499 210L499 218.8zM491.2 213.3L500 208.9L500 217.7zM492.1 212.2L500.9 207.8L500.9 216.6zM493 211.1L501.8 206.7L501.8 215.5zM493.9 210L502.7 205.6L502.7 214.4zM494.8 208.8L503.6 204.4L503.6 213.2zM495.7 207.7L504.5 203.3L504.5 212.1zM496.6 206.4L505.4 202L505.4 210.8zM497.5 205L506.3 200.6L506.3 209.4zM497.9 204.3L506.7 199.9L506.7 208.7zM498.3 203.6L507.1 199.2L507.1 208zM498.8 202.9L507.6 198.5L507.6 207.3zM499.2 202.2L508 197.8L508 206.6zM499.6 201.5L508.4 197.1L508.4 205.9zM500 200.8L508.8 196.4L508.8 205.2zM500.4 200L509.2 195.6L509.2 204.4zM500.9 199.3L509.7 194.9L509.7 203.7zM501.7 198L510.5 193.6L510.5 202.4zM502.5 196.7L511.3 192.3L511.3 201.1zM503.3 195.4L512.1 191L512.1 199.8zM504.1 194.3L512.9 189.9L512.9 198.7zM505 193.3L513.8 188.9L513.8 197.7zM505.7 192.5L514.5 188.1L514.5 196.9zM506.5 191.7L515.3 187.3L515.3 196.1zM507.3 191L516.1 186.6L516.1 195.4zM508.1 190.3L516.9 185.9L516.9 194.7zM508.9 189.7L517.7 185.3L517.7 194.1zM509.6 189.1L518.4 184.7L518.4 193.5zM510.4 188.6L519.2 184.2L519.2 193zM511.1 188L519.9 183.6L519.9 192.4zM511.8 187.4L520.6 183L520.6 191.8zM512.6 186.8L521.4 182.4L521.4 191.2zM513.3 186.2L522.1 181.8L522.1 190.6zM514 185.5L522.8 181.1L522.8 189.9zM514.7 184.8L523.5 180.4L523.5 189.2zM515.5 184.1L524.3 179.7L524.3 188.5zM516.2 183.2L525 178.8L525 187.6zM516.9 182.3L525.7 177.9L525.7 186.7zM517.6 181.4L526.4 177L526.4 185.8zM518.2 180.4L527 176L527 184.8zM518.9 179.4L527.7 175L527.7 183.8zM519.6 178.3L528.4 173.9L528.4 182.7zM520.3 177.2L529.1 172.8L529.1 181.6zM520.9 176.1L529.7 171.7L529.7 180.5zM521.6 175L530.4 170.6L530.4 179.4zM522.3 173.9L531.1 169.5L531.1 178.3zM522.9 172.8L531.7 168.4L531.7 177.2zM523.6 171.7L532.4 167.3L532.4 176.1zM524.2 170.6L533 166.2L533 175zM524.8 169.5L533.6 165.1L533.6 173.9zM525.5 168.5L534.3 164.1L534.3 172.9zM526.1 167.4L534.9 163L534.9 171.8zM526.7 166.4L535.5 162L535.5 170.8zM527.3 165.5L536.1 161.1L536.1 169.9zM528 164.5L536.8 160.1L536.8 168.9zM528.6 163.6L537.4 159.2L537.4 168zM529.2 162.8L538 158.4L538 167.2zM529.8 162L538.6 157.6L538.6 166.4zM530.4 161.2L539.2 156.8L539.2 165.6zM531 160.5L539.8 156.1L539.8 164.9zM531.8 159.5L540.6 155.1L540.6 163.9zM532.7 158.5L541.5 154.1L541.5 162.9zM533.6 157.5L542.4 153.1L542.4 161.9zM534.4 156.6L543.2 152.2L543.2 161zM535.3 155.7L544.1 151.3L544.1 160.1zM536.1 154.8L544.9 150.4L544.9 159.2zM537 154L545.8 149.6L545.8 158.4zM537.8 153.2L546.6 148.8L546.6 157.6zM538.6 152.4L547.4 148L547.4 156.8zM539.4 151.6L548.2 147.2L548.2 156zM540.2 150.8L549 146.4L549 155.2zM541 150L549.8 145.6L549.8 154.4zM541.8 149.3L550.6 144.9L550.6 153.7zM542.6 148.5L551.4 144.1L551.4 152.9zM543.4 147.8L552.2 143.4L552.2 152.2zM544.1 147L552.9 142.6L552.9 151.4zM544.9 146.3L553.7 141.9L553.7 150.7zM545.6 145.5L554.4 141.1L554.4 149.9zM546.4 144.8L555.2 140.4L555.2 149.2zM547.1 144.1L555.9 139.7L555.9 148.5zM547.9 143.3L556.7 138.9L556.7 147.7zM548.6 142.6L557.4 138.2L557.4 147zM549.3 141.9L558.1 137.5L558.1 146.3zM550 141.2L558.8 136.8L558.8 145.6zM550.7 140.6L559.5 136.2L559.5 145zM551.4 139.9L560.2 135.5L560.2 144.3zM552.4 139L561.2 134.6L561.2 143.4zM553.3 138.1L562.1 133.7L562.1 142.5zM554.2 137.2L563 132.8L563 141.6zM555.1 136.4L563.9 132L563.9 140.8zM556 135.6L564.8 131.2L564.8 140zM556.9 134.7L565.7 130.3L565.7 139.1zM557.7 133.9L566.5 129.5L566.5 138.3z" fill="#ccff00"/>
<path d="M69.9 416.7L116.9 393L147.2 384.5L169.7 379.5L187.5 372.5L202.3 368.8L215 364.5L226 361.5L235.8 360.1L244.6 357.2L252.6 354.2L259.9 351.3L266.7 348.7L272.9 346.3L278.8 344.1L284.3 342.3L289.4 340.5L294.3 338.9L298.9 337.4L303.3 335.9L307.5 334.6L311.4 333.3L315.2 332.2L318.9 331L322.4 330L325.7 328.9L329 327.9L332.1 326.9L335.1 326L338 325L340.9 324.1L343.6 323.2L346.2 322.3L348.8 321.4L351.3 320.5L353.7 319.7L356.1 318.8L358.4 318L360.6 317.2L362.8 316.4L364.9 315.7L367 314.9L369 314.1L371 313.4L373 312.7L374.9 311.9L376.7 311.2L378.5 310.5L380.3 309.8L382.1 309.1L383.8 308.4L385.5 307.7L387.1 307L388.7 306.3L390.3 305.6L391.9 304.9L393.4 304.3L394.9 303.6L396.4 302.9L397.8 302.2L399.3 301.6L400.7 300.9L402.1 300.2L403.4 299.6L404.8 298.9L406.1 298.3L407.4 297.6L408.7 297L409.9 296.4L411.2 295.7L412.4 295.1L413.6 294.5L414.8 293.9L416 293.2L417.2 292.6L418.3 292L419.4 291.4L420.6 290.8L421.7 290.2L422.7 289.6L423.8 289L424.9 288.3L425.9 287.7L427 287.1L428 286.5L429 285.9L430 285.3L431 284.7L432 284.1L433 283.4L433.9 282.8L434.9 282.2L435.8 281.6L436.7 281L437.6 280.3L438.6 279.7L439.5 279.1L440.3 278.5L441.2 277.8L442.1 277.2L443 276.6L443.8 275.9L444.7 275.3L445.5 274.7L446.3 274L447.2 273.4L448 272.7L448.8 272.1L449.6 271.4L450.4 270.8L451.2 270.1L451.9 269.4L452.7 268.7L453.5 268L454.2 267.2L455 266.4L455.7 265.7L456.5 264.9L457.2 264.1L457.9 263.2L458.6 262.4L459.4 261.6L460.1 260.7L460.8 259.9L461.5 259.1L462.2 258.2L462.8 257.4L463.5 256.5L464.2 255.7L464.9 254.9L465.5 254L466.2 253.2L466.9 252.4L467.5 251.5L468.1 250.7L468.8 249.9L469.4 249.1L470.1 248.4L470.7 247.6L471.3 246.8L471.9 246.1L472.5 245.3L473.1 244.6L473.8 243.9L474.4 243.2L475 242.5L475.5 241.8L476.1 241.1L476.7 240.4L477.3 239.8L477.9 239.2L478.4 238.5L479 237.9L479.6 237.3L480.1 236.7L480.7 236.1L481.3 235.5L481.8 234.9L482.4 234.3L482.9 233.7L483.4 233.1L484 232.5L484.5 232L485.1 231.4L485.6 230.8L486.1 230.3L486.6 229.7L487.1 229.1L487.7 228.6L488.2 228L488.7 227.4L489.2 226.9L489.7 226.3L490.2 225.7L490.7 225.2L491.2 224.6L491.7 224L492.2 223.5L492.7 222.9L493.1 222.3L493.6 221.7L494.1 221.2L494.6 220.6L495.1 220L495.5 219.4L496 218.8L496.5 218.2L496.9 217.6L497.4 217L497.8 216.4L498.3 215.8L498.8 215.1L499.2 214.5L499.7 213.9L500.1 213.3L500.5 212.6L501 211.9L501.4 211.2L501.9 210.4L502.3 209.6L502.7 208.9L503.2 208.1L503.6 207.3L504 206.4L504.4 205.6L504.9 204.8L505.3 204L505.7 203.2L506.1 202.4L506.5 201.7L507 200.9L507.4 200.2L507.8 199.5L508.2 198.8L508.6 198.2L509 197.6L509.4 197L509.8 196.5L510.2 196L510.6 195.5L511 195.1L511.4 194.6L511.8 194.2L512.2 193.9L512.5 193.5L512.9 193.1L513.3 192.8L513.7 192.4L514.1 192.1L514.4 191.8L514.8 191.5L515.2 191.2L515.6 190.9L515.9 190.5L516.3 190.2L516.7 189.9L517.1 189.6L517.4 189.3L517.8 188.9L518.2 188.6L518.5 188.2L518.9 187.8L519.2 187.5L519.6 187.1L519.9 186.7L520.3 186.2L520.7 185.8L521 185.3L521.4 184.9L521.7 184.4L522 183.9L522.4 183.4L522.7 182.9L523.1 182.3L523.4 181.8L523.8 181.2L524.1 180.7L524.4 180.1L524.8 179.6L525.1 179L525.4 178.4L525.8 177.8L526.1 177.3L526.4 176.7L526.8 176.1L527.1 175.5L527.4 174.9L527.7 174.4L528.1 173.8L528.4 173.2L528.7 172.6L529 172.1L529.4 171.5L529.7 171L530 170.4L530.3 169.9L530.6 169.3L530.9 168.8L531.2 168.3L531.6 167.8L531.9 167.3L532.2 166.8L532.5 166.3L532.8 165.8L533.1 165.3L533.4 164.9L533.7 164.4L534 164L534.3 163.6L534.6 163.2L534.9 162.8L535.2 162.4L535.5 162.1L535.8 161.7L536.1 161.3L536.4 161L536.7 160.6L537 160.3L537.3 160L537.6 159.6L537.8 159.3L538.1 159L538.4 158.7L538.7 158.3L539 158L539.3 157.7L539.6 157.4L539.8 157.1L540.1 156.8L540.4 156.5L540.7 156.2L541 155.9L541.2 155.7L541.5 155.4L541.8 155.1L542.1 154.8L542.4 154.5L542.6 154.3L542.9 154L543.2 153.7L543.4 153.5L543.7 153.2L544 152.9L544.3 152.7L544.5 152.4L544.8 152.1L545.1 151.9L545.3 151.6L545.6 151.4L545.8 151.1L546.1 150.9L546.4 150.6L546.6 150.3L546.9 150.1L547.2 149.8L547.4 149.6L547.7 149.3L547.9 149.1L548.2 148.8L548.4 148.6L548.7 148.3L549 148.1L549.2 147.8L549.5 147.5L549.7 147.3L550 147L550.2 146.8L550.5 146.5L550.7 146.3L551 146L551.2 145.8L551.5 145.5L551.7 145.3L552 145L552.2 144.8L552.4 144.5L552.7 144.3L552.9 144L553.2 143.8L553.4 143.5L553.7 143.3L553.9 143L554.1 142.8L554.4 142.6L554.6 142.3L554.9 142.1L555.1 141.8L555.3 141.6L555.6 141.4L555.8 141.1L556 140.9L556.3 140.7L556.5 140.4L556.7 140.2L557 140L557.2 139.7L557.4 139.5L557.7 139.3L557.9 139L558.1 138.8L558.4 138.6L558.6 138.4L558.8 138.1L559 137.9L559.3 137.7L559.5 137.5L559.7 137.2L559.9 137L560.2 136.8L560.4 136.6L560.6 136.4L560.8 136.1L561.1 135.9L561.3 135.7L561.5 135.5L561.7 135.3L561.9 135.1L562.2 134.8L562.4 134.6L562.6 134.4L562.8 134.2" fill="none" stroke="#ffbb00" stroke-width="2.6" stroke-linejoin="round"/>
<path d="M121.7 393L112.9 388.6L112.9 397.4zM152.1 384.5L143.3 380.1L143.3 388.9zM174.5 379.5L165.7 375.1L165.7 383.9zM192.4 372.5L183.6 368.1L183.6 376.9zM207.2 368.8L198.4 364.4L198.4 373.2zM219.8 364.5L211 360.1L211 368.9zM230.8 361.5L222 357.1L222 365.9zM240.6 360.1L231.8 355.7L231.8 364.5zM249.4 357.2L240.6 352.8L240.6 361.6zM257.4 354.2L248.6 349.8L248.6 358.6zM264.8 351.3L256 346.9L256 355.7zM271.5 348.7L262.7 344.3L262.7 353.1zM277.8 346.3L269 341.9L269 350.7zM283.6 344.1L274.8 339.7L274.8 348.5zM289.1 342.3L280.3 337.9L280.3 346.7zM294.3 340.5L285.5 336.1L285.5 344.9zM299.1 338.9L290.3 334.5L290.3 343.3zM303.7 337.4L294.9 333L294.9 341.8zM308.1 335.9L299.3 331.5L299.3 340.3zM312.3 334.6L303.5 330.2L303.5 339zM316.3 333.3L307.5 328.9L307.5 337.7zM320.1 332.2L311.3 327.8L311.3 336.6zM323.7 331L314.9 326.6L314.9 335.4zM327.2 330L318.4 325.6L318.4 334.4zM330.6 328.9L321.8 324.5L321.8 333.3zM333.8 327.9L325 323.5L325 332.3zM336.9 326.9L328.1 322.5L328.1 331.3zM340 326L331.2 321.6L331.2 330.4zM342.9 325L334.1 320.6L334.1 329.4zM345.7 324.1L336.9 319.7L336.9 328.5zM348.4 323.2L339.6 318.8L339.6 327.6zM351.1 322.3L342.3 317.9L342.3 326.7zM353.6 321.4L344.8 317L344.8 325.8zM356.1 320.5L347.3 316.1L347.3 324.9zM358.6 319.7L349.8 315.3L349.8 324.1zM360.9 318.8L352.1 314.4L352.1 323.2zM363.2 318L354.4 313.6L354.4 322.4zM365.5 317.2L356.7 312.8L356.7 321.6zM367.6 316.4L358.8 312L358.8 320.8zM369.8 315.7L361 311.3L361 320.1zM371.9 314.9L363.1 310.5L363.1 319.3zM373.9 314.1L365.1 309.7L365.1 318.5zM375.9 313.4L367.1 309L367.1 317.8zM377.8 312.7L369 308.3L369 317.1zM379.7 311.9L370.9 307.5L370.9 316.3zM381.6 311.2L372.8 306.8L372.8 315.6zM383.4 310.5L374.6 306.1L374.6 314.9zM385.2 309.8L376.4 305.4L376.4 314.2zM386.9 309.1L378.1 304.7L378.1 313.5zM388.6 308.4L379.8 304L379.8 312.8zM390.3 307.7L381.5 303.3L381.5 312.1zM391.9 307L383.1 302.6L383.1 311.4zM393.6 306.3L384.8 301.9L384.8 310.7zM395.1 305.6L386.3 301.2L386.3 310zM396.7 304.9L387.9 300.5L387.9 309.3zM398.2 304.3L389.4 299.9L389.4 308.7zM399.7 303.6L390.9 299.2L390.9 308zM401.2 302.9L392.4 298.5L392.4 307.3zM402.7 302.2L393.9 297.8L393.9 306.6zM404.1 301.6L395.3 297.2L395.3 306zM405.5 300.9L396.7 296.5L396.7 305.3zM406.9 300.2L398.1 295.8L398.1 304.6zM408.3 299.6L399.5 295.2L399.5 304zM409.6 298.9L400.8 294.5L400.8 303.3zM410.9 298.3L402.1 293.9L402.1 302.7zM412.2 297.6L403.4 293.2L403.4 302zM413.5 297L404.7 292.6L404.7 301.4zM414.8 296.4L406 292L406 300.8zM416 295.7L407.2 291.3L407.2 300.1zM417.2 295.1L408.4 290.7L408.4 299.5zM418.5 294.5L409.7 290.1L409.7 298.9zM419.7 293.9L410.9 289.5L410.9 298.3zM420.8 293.2L412 288.8L412 297.6zM422 292.6L413.2 288.2L413.2 297zM423.1 292L414.3 287.6L414.3 296.4zM424.3 291.4L415.5 287L415.5 295.8zM425.4 290.8L416.6 286.4L416.6 295.2zM426.5 290.2L417.7 285.8L417.7 294.6zM427.6 289.6L418.8 285.2L418.8 294zM428.7 289L419.9 284.6L419.9 293.4zM429.7 288.3L420.9 283.9L420.9 292.7zM430.8 287.7L422 283.3L422 292.1zM431.8 287.1L423 282.7L423 291.5zM432.8 286.5L424 282.1L424 290.9zM433.9 285.9L425.1 281.5L425.1 290.3zM434.9 285.3L426.1 280.9L426.1 289.7zM435.8 284.7L427 280.3L427 289.1zM436.8 284.1L428 279.7L428 288.5zM437.8 283.4L429 279L429 287.8zM438.8 282.8L430 278.4L430 287.2zM439.7 282.2L430.9 277.8L430.9 286.6zM440.6 281.6L431.8 277.2L431.8 286zM441.6 281L432.8 276.6L432.8 285.4zM442.5 280.3L433.7 275.9L433.7 284.7zM443.4 279.7L434.6 275.3L434.6 284.1zM444.3 279.1L435.5 274.7L435.5 283.5zM445.2 278.5L436.4 274.1L436.4 282.9zM446.1 277.8L437.3 273.4L437.3 282.2zM446.9 277.2L438.1 272.8L438.1 281.6zM447.8 276.6L439 272.2L439 281zM448.7 275.9L439.9 271.5L439.9 280.3zM449.5 275.3L440.7 270.9L440.7 279.7zM450.3 274.7L441.5 270.3L441.5 279.1zM451.2 274L442.4 269.6L442.4 278.4zM452 273.4L443.2 269L443.2 277.8zM452.8 272.7L444 268.3L444 277.1zM453.6 272.1L444.8 267.7L444.8 276.5zM454.4 271.4L445.6 267L445.6 275.8zM455.2 270.8L446.4 266.4L446.4 275.2zM456 270.1L447.2 265.7L447.2 274.5zM456.8 269.4L448 265L448 273.8zM457.5 268.7L448.7 264.3L448.7 273.1zM458.3 268L449.5 263.6L449.5 272.4zM459.1 267.2L450.3 262.8L450.3 271.6zM459.8 266.4L451 262L451 270.8zM460.6 265.7L451.8 261.3L451.8 270.1zM461.3 264.9L452.5 260.5L452.5 269.3zM462 264.1L453.2 259.7L453.2 268.5zM462.8 263.2L454 258.8L454 267.6zM463.5 262.4L454.7 258L454.7 266.8zM464.2 261.6L455.4 257.2L455.4 266zM464.9 260.7L456.1 256.3L456.1 265.1zM465.6 259.9L456.8 255.5L456.8 264.3zM466.3 259.1L457.5 254.7L457.5 263.5zM467 258.2L458.2 253.8L458.2 262.6zM467.7 257.4L458.9 253L458.9 261.8zM468.4 256.5L459.6 252.1L459.6 260.9zM469 255.7L460.2 251.3L460.2 260.1zM469.7 254.9L460.9 250.5L460.9 259.3zM470.4 254L461.6 249.6L461.6 258.4zM471 253.2L462.2 248.8L462.2 257.6zM471.7 252.4L462.9 248L462.9 256.8zM472.3 251.5L463.5 247.1L463.5 255.9zM473 250.7L464.2 246.3L464.2 255.1zM473.6 249.9L464.8 245.5L464.8 254.3zM474.3 249.1L465.5 244.7L465.5 253.5zM474.9 248.4L466.1 244L466.1 252.8zM475.5 247.6L466.7 243.2L466.7 252zM476.1 246.8L467.3 242.4L467.3 251.2zM476.8 246.1L468 241.7L468 250.5zM477.4 245.3L468.6 240.9L468.6 249.7zM478 244.6L469.2 240.2L469.2 249zM478.6 243.9L469.8 239.5L469.8 248.3zM479.2 243.2L470.4 238.8L470.4 247.6zM480.4 241.8L471.6 237.4L471.6 246.2zM481.6 240.4L472.8 236L472.8 244.8zM482.7 239.2L473.9 234.8L473.9 243.6zM483.9 237.9L475.1 233.5L475.1 242.3zM485 236.7L476.2 232.3L476.2 241.1zM486.1 235.5L477.3 231.1L477.3 239.9zM487.2 234.3L478.4 229.9L478.4 238.7zM488.3 233.1L479.5 228.7L479.5 237.5zM489.4 232L480.6 227.6L480.6 236.4zM490.4 230.8L481.6 226.4L481.6 235.2zM491.5 229.7L482.7 225.3L482.7 234.1zM492.5 228.6L483.7 224.2L483.7 233zM493.5 227.4L484.7 223L484.7 231.8zM494.5 226.3L485.7 221.9L485.7 230.7zM495.5 225.2L486.7 220.8L486.7 229.6zM496.5 224L487.7 219.6L487.7 228.4zM497.5 222.9L488.7 218.5L488.7 227.3zM498.5 221.7L489.7 217.3L489.7 226.1zM499.4 220.6L490.6 216.2L490.6 225zM500.4 219.4L491.6 215L491.6 223.8zM501.3 218.2L492.5 213.8L492.5 222.6zM502.2 217L493.4 212.6L493.4 221.4zM503.1 215.8L494.3 211.4L494.3 220.2zM504 214.5L495.2 210.1L495.2 218.9zM504.9 213.3L496.1 208.9L496.1 217.7zM505.8 211.9L497 207.5L497 216.3zM506.3 211.2L497.5 206.8L497.5 215.6zM506.7 210.4L497.9 206L497.9 214.8zM507.1 209.6L498.3 205.2L498.3 214zM507.6 208.9L498.8 204.5L498.8 213.3zM508 208.1L499.2 203.7L499.2 212.5zM508.4 207.3L499.6 202.9L499.6 211.7zM508.9 206.4L500.1 202L500.1 210.8zM509.3 205.6L500.5 201.2L500.5 210zM509.7 204.8L500.9 200.4L500.9 209.2zM510.1 204L501.3 199.6L501.3 208.4zM510.5 203.2L501.7 198.8L501.7 207.6zM511 202.4L502.2 198L502.2 206.8zM511.4 201.7L502.6 197.3L502.6 206.1zM511.8 200.9L503 196.5L503 205.3zM512.2 200.2L503.4 195.8L503.4 204.6zM513 198.8L504.2 194.4L504.2 203.2zM513.8 197.6L505 193.2L505 202zM514.6 196.5L505.8 192.1L505.8 200.9zM515.4 195.5L506.6 191.1L506.6 199.9zM516.2 194.6L507.4 190.2L507.4 199zM517 193.9L508.2 189.5L508.2 198.3zM517.8 193.1L509 188.7L509 197.5zM518.5 192.4L509.7 188L509.7 196.8zM519.3 191.8L510.5 187.4L510.5 196.2zM520 191.2L511.2 186.8L511.2 195.6zM520.8 190.5L512 186.1L512 194.9zM521.5 189.9L512.7 185.5L512.7 194.3zM522.3 189.3L513.5 184.9L513.5 193.7zM523 188.6L514.2 184.2L514.2 193zM523.7 187.8L514.9 183.4L514.9 192.2zM524.4 187.1L515.6 182.7L515.6 191.5zM525.1 186.2L516.3 181.8L516.3 190.6zM525.8 185.3L517 180.9L517 189.7zM526.5 184.4L517.7 180L517.7 188.8zM527.2 183.4L518.4 179L518.4 187.8zM527.9 182.3L519.1 177.9L519.1 186.7zM528.6 181.2L519.8 176.8L519.8 185.6zM529.3 180.1L520.5 175.7L520.5 184.5zM530 179L521.2 174.6L521.2 183.4zM530.6 177.8L521.8 173.4L521.8 182.2zM531.3 176.7L522.5 172.3L522.5 181.1zM531.9 175.5L523.1 171.1L523.1 179.9zM532.6 174.4L523.8 170L523.8 178.8zM533.2 173.2L524.4 168.8L524.4 177.6zM533.9 172.1L525.1 167.7L525.1 176.5zM534.5 171L525.7 166.6L525.7 175.4zM535.1 169.9L526.3 165.5L526.3 174.3zM535.8 168.8L527 164.4L527 173.2zM536.4 167.8L527.6 163.4L527.6 172.2zM537 166.8L528.2 162.4L528.2 171.2zM537.6 165.8L528.8 161.4L528.8 170.2zM538.2 164.9L529.4 160.5L529.4 169.3zM538.8 164L530 159.6L530 168.4zM539.4 163.2L530.6 158.8L530.6 167.6zM540 162.4L531.2 158L531.2 166.8zM540.6 161.7L531.8 157.3L531.8 166.1zM541.2 161L532.4 156.6L532.4 165.4zM542.1 160L533.3 155.6L533.3 164.4zM543 159L534.2 154.6L534.2 163.4zM543.8 158L535 153.6L535 162.4zM544.7 157.1L535.9 152.7L535.9 161.5zM545.5 156.2L536.7 151.8L536.7 160.6zM546.4 155.4L537.6 151L537.6 159.8zM547.2 154.5L538.4 150.1L538.4 158.9zM548 153.7L539.2 149.3L539.2 158.1zM548.8 152.9L540 148.5L540 157.3zM549.6 152.1L540.8 147.7L540.8 156.5zM550.4 151.4L541.6 147L541.6 155.8zM551.2 150.6L542.4 146.2L542.4 155zM552 149.8L543.2 145.4L543.2 154.2zM552.8 149.1L544 144.7L544 153.5zM553.5 148.3L544.7 143.9L544.7 152.7zM554.3 147.5L545.5 143.1L545.5 151.9zM555.1 146.8L546.3 142.4L546.3 151.2zM555.8 146L547 141.6L547 150.4zM556.6 145.3L547.8 140.9L547.8 149.7zM557.3 144.5L548.5 140.1L548.5 148.9zM558 143.8L549.2 139.4L549.2 148.2zM558.7 143L549.9 138.6L549.9 147.4zM559.5 142.3L550.7 137.9L550.7 146.7zM560.2 141.6L551.4 137.2L551.4 146zM560.9 140.9L552.1 136.5L552.1 145.3zM561.6 140.2L552.8 135.8L552.8 144.6zM562.5 139.3L553.7 134.9L553.7 143.7zM563.4 138.4L554.6 134L554.6 142.8zM564.3 137.5L555.5 133.1L555.5 141.9zM565.2 136.6L556.4 132.2L556.4 141zM566.1 135.7L557.3 131.3L557.3 140.1zM567 134.8L558.2 130.4L558.2 139.2z" fill="#ffbb00"/>
<path d="M69.9 430.7L116.9 413L147.2 410L169.7 403.6L187.5 395L202.3 393.1L215 385.5L226 382.6L235.8 381.2L244.6 376.8L252.6 374.1L259.9 372.1L266.7 370.3L272.9 368.6L278.8 366.8L284.3 365.1L289.4 363.5L294.3 361.9L298.9 360.4L303.3 358.9L307.5 357.4L311.4 356L315.2 354.7L318.9 353.4L322.4 352.1L325.7 350.8L329 349.6L332.1 348.4L335.1 347.3L338 346.1L340.9 345L343.6 343.9L346.2 342.8L348.8 341.8L351.3 340.8L353.7 339.8L356.1 338.8L358.4 337.8L360.6 336.9L362.8 335.9L364.9 335L367 334.1L369 333.2L371 332.4L373 331.5L374.9 330.6L376.7 329.8L378.5 329L380.3 328.1L382.1 327.3L383.8 326.5L385.5 325.7L387.1 324.9L388.7 324L390.3 323.2L391.9 322.4L393.4 321.7L394.9 320.9L396.4 320.1L397.8 319.3L399.3 318.5L400.7 317.7L402.1 317L403.4 316.2L404.8 315.4L406.1 314.7L407.4 313.9L408.7 313.2L409.9 312.4L411.2 311.7L412.4 311L413.6 310.2L414.8 309.5L416 308.8L417.2 308.1L418.3 307.4L419.4 306.6L420.6 305.9L421.7 305.2L422.7 304.5L423.8 303.8L424.9 303.1L425.9 302.4L427 301.7L428 301L429 300.2L430 299.5L431 298.8L432 298.1L433 297.4L433.9 296.7L434.9 296L435.8 295.3L436.7 294.6L437.6 293.9L438.6 293.2L439.5 292.5L440.3 291.8L441.2 291.1L442.1 290.4L443 289.7L443.8 289L444.7 288.2L445.5 287.5L446.3 286.8L447.2 286.1L448 285.4L448.8 284.7L449.6 284L450.4 283.3L451.2 282.5L451.9 281.8L452.7 281L453.5 280.3L454.2 279.5L455 278.7L455.7 277.9L456.5 277.1L457.2 276.2L457.9 275.4L458.6 274.6L459.4 273.7L460.1 272.9L460.8 272L461.5 271.2L462.2 270.3L462.8 269.5L463.5 268.6L464.2 267.8L464.9 266.9L465.5 266.1L466.2 265.2L466.9 264.4L467.5 263.6L468.1 262.7L468.8 261.9L469.4 261.1L470.1 260.3L470.7 259.4L471.3 258.6L471.9 257.8L472.5 257.1L473.1 256.3L473.8 255.5L474.4 254.7L475 254L475.5 253.2L476.1 252.5L476.7 251.7L477.3 251L477.9 250.3L478.4 249.6L479 248.8L479.6 248.1L480.1 247.4L480.7 246.7L481.3 246L481.8 245.4L482.4 244.7L482.9 244L483.4 243.3L484 242.6L484.5 241.9L485.1 241.3L485.6 240.6L486.1 239.9L486.6 239.2L487.1 238.6L487.7 237.9L488.2 237.2L488.7 236.5L489.2 235.8L489.7 235.2L490.2 234.5L490.7 233.8L491.2 233.1L491.7 232.4L492.2 231.8L492.7 231.1L493.1 230.4L493.6 229.7L494.1 229L494.6 228.3L495.1 227.6L495.5 226.9L496 226.2L496.5 225.5L496.9 224.7L497.4 224L497.8 223.3L498.3 222.6L498.8 221.9L499.2 221.1L499.7 220.4L500.1 219.6L500.5 218.9L501 218L501.4 217.2L501.9 216.3L502.3 215.4L502.7 214.5L503.2 213.6L503.6 212.6L504 211.7L504.4 210.7L504.9 209.8L505.3 208.9L505.7 207.9L506.1 207L506.5 206.1L507 205.3L507.4 204.4L507.8 203.6L508.2 202.8L508.6 202.1L509 201.4L509.4 200.7L509.8 200.1L510.2 199.5L510.6 199L511 198.5L511.4 198L511.8 197.5L512.2 197.1L512.5 196.6L512.9 196.2L513.3 195.8L513.7 195.4L514.1 195L514.4 194.7L514.8 194.3L515.2 193.9L515.6 193.6L515.9 193.2L516.3 192.8L516.7 192.5L517.1 192.1L517.4 191.7L517.8 191.3L518.2 190.9L518.5 190.5L518.9 190.1L519.2 189.7L519.6 189.2L519.9 188.8L520.3 188.3L520.7 187.8L521 187.3L521.4 186.8L521.7 186.3L522 185.7L522.4 185.2L522.7 184.6L523.1 184L523.4 183.4L523.8 182.9L524.1 182.3L524.4 181.7L524.8 181.1L525.1 180.5L525.4 179.8L525.8 179.2L526.1 178.6L526.4 178L526.8 177.4L527.1 176.8L527.4 176.2L527.7 175.6L528.1 175L528.4 174.4L528.7 173.8L529 173.2L529.4 172.6L529.7 172L530 171.4L530.3 170.9L530.6 170.3L530.9 169.8L531.2 169.2L531.6 168.7L531.9 168.2L532.2 167.7L532.5 167.2L532.8 166.7L533.1 166.2L533.4 165.7L533.7 165.3L534 164.8L534.3 164.4L534.6 164L534.9 163.6L535.2 163.2L535.5 162.9L535.8 162.5L536.1 162.1L536.4 161.8L536.7 161.4L537 161.1L537.3 160.8L537.6 160.4L537.8 160.1L538.1 159.8L538.4 159.5L538.7 159.2L539 158.8L539.3 158.5L539.6 158.2L539.8 157.9L540.1 157.7L540.4 157.4L540.7 157.1L541 156.8L541.2 156.5L541.5 156.2L541.8 156L542.1 155.7L542.4 155.4L542.6 155.2L542.9 154.9L543.2 154.6L543.4 154.4L543.7 154.1L544 153.9L544.3 153.6L544.5 153.4L544.8 153.1L545.1 152.8L545.3 152.6L545.6 152.3L545.8 152.1L546.1 151.8L546.4 151.6L546.6 151.3L546.9 151.1L547.2 150.8L547.4 150.6L547.7 150.3L547.9 150.1L548.2 149.8L548.4 149.6L548.7 149.3L549 149.1L549.2 148.8L549.5 148.6L549.7 148.3L550 148L550.2 147.8L550.5 147.5L550.7 147.3L551 147L551.2 146.7L551.5 146.5L551.7 146.2L552 146L552.2 145.7L552.4 145.5L552.7 145.2L552.9 145L553.2 144.7L553.4 144.5L553.7 144.2L553.9 144L554.1 143.7L554.4 143.5L554.6 143.2L554.9 143L555.1 142.7L555.3 142.5L555.6 142.2L555.8 142L556 141.7L556.3 141.5L556.5 141.2L556.7 141L557 140.8L557.2 140.5L557.4 140.3L557.7 140L557.9 139.8L558.1 139.6L558.4 139.3L558.6 139.1L558.8 138.8L559 138.6L559.3 138.4L559.5 138.1L559.7 137.9L559.9 137.7L560.2 137.4L560.4 137.2L560.6 137L560.8 136.7L561.1 136.5L561.3 136.3L561.5 136.1L561.7 135.8L561.9 135.6L562.2 135.4L562.4 135.1L562.6 134.9L562.8 134.7" fill="none" stroke="#ff4400" stroke-width="2.6" stroke-linejoin="round"/>
<path d="M120.7 413L118.8 416.3L115 416.3L113 413L115 409.7L118.8 409.7zM151.1 410L149.1 413.3L145.3 413.3L143.4 410L145.3 406.7L149.1 406.7zM173.5 403.6L171.6 406.9L167.8 406.9L165.8 403.6L167.8 400.3L171.6 400.3zM191.3 395L189.4 398.3L185.6 398.3L183.7 395L185.6 391.7L189.4 391.7zM206.1 393.1L204.2 396.4L200.4 396.4L198.5 393.1L200.4 389.8L204.2 389.8zM218.8 385.5L216.9 388.8L213 388.8L211.1 385.5L213 382.2L216.9 382.2zM229.8 382.6L227.9 385.9L224.1 385.9L222.2 382.6L224.1 379.3L227.9 379.3zM239.6 381.2L237.7 384.5L233.9 384.5L232 381.2L233.9 377.9L237.7 377.9zM248.4 376.8L246.5 380.1L242.7 380.1L240.8 376.8L242.7 373.5L246.5 373.5zM256.4 374.1L254.5 377.4L250.7 377.4L248.8 374.1L250.7 370.8L254.5 370.8zM263.8 372.1L261.8 375.4L258 375.4L256.1 372.1L258 368.7L261.8 368.7zM270.5 370.3L268.6 373.6L264.8 373.6L262.8 370.3L264.8 367L268.6 367zM276.8 368.6L274.9 371.9L271 371.9L269.1 368.6L271 365.3L274.9 365.3zM282.6 366.8L280.7 370.2L276.9 370.2L275 366.8L276.9 363.5L280.7 363.5zM288.1 365.1L286.2 368.5L282.4 368.5L280.4 365.1L282.4 361.8L286.2 361.8zM293.3 363.5L291.3 366.8L287.5 366.8L285.6 363.5L287.5 360.2L291.3 360.2zM298.1 361.9L296.2 365.2L292.4 365.2L290.5 361.9L292.4 358.6L296.2 358.6zM302.7 360.4L300.8 363.7L297 363.7L295.1 360.4L297 357.1L300.8 357.1zM307.1 358.9L305.2 362.2L301.4 362.2L299.5 358.9L301.4 355.6L305.2 355.6zM311.3 357.4L309.4 360.7L305.5 360.7L303.6 357.4L305.5 354.1L309.4 354.1zM315.3 356L313.3 359.3L309.5 359.3L307.6 356L309.5 352.7L313.3 352.7zM319.1 354.7L317.2 358L313.3 358L311.4 354.7L313.3 351.3L317.2 351.3zM322.7 353.4L320.8 356.7L317 356.7L315.1 353.4L317 350L320.8 350zM326.2 352.1L324.3 355.4L320.5 355.4L318.5 352.1L320.5 348.8L324.3 348.8zM329.6 350.8L327.7 354.1L323.8 354.1L321.9 350.8L323.8 347.5L327.7 347.5zM332.8 349.6L330.9 352.9L327.1 352.9L325.2 349.6L327.1 346.3L330.9 346.3zM335.9 348.4L334 351.7L330.2 351.7L328.3 348.4L330.2 345.1L334 345.1zM339 347.3L337 350.6L333.2 350.6L331.3 347.3L333.2 343.9L337 343.9zM341.9 346.1L339.9 349.4L336.1 349.4L334.2 346.1L336.1 342.8L339.9 342.8zM344.7 345L342.8 348.3L338.9 348.3L337 345L338.9 341.7L342.8 341.7zM347.4 343.9L345.5 347.2L341.7 347.2L339.8 343.9L341.7 340.6L345.5 340.6zM350.1 342.8L348.1 346.2L344.3 346.2L342.4 342.8L344.3 339.5L348.1 339.5zM352.6 341.8L350.7 345.1L346.9 345.1L345 341.8L346.9 338.5L350.7 338.5zM355.1 340.8L353.2 344.1L349.4 344.1L347.5 340.8L349.4 337.4L353.2 337.4zM357.6 339.8L355.6 343.1L351.8 343.1L349.9 339.8L351.8 336.4L355.6 336.4zM359.9 338.8L358 342.1L354.2 342.1L352.3 338.8L354.2 335.5L358 335.5zM362.2 337.8L360.3 341.1L356.5 341.1L354.5 337.8L356.5 334.5L360.3 334.5zM364.5 336.9L362.5 340.2L358.7 340.2L356.8 336.9L358.7 333.5L362.5 333.5zM366.6 335.9L364.7 339.3L360.9 339.3L359 335.9L360.9 332.6L364.7 332.6zM368.8 335L366.9 338.3L363 338.3L361.1 335L363 331.7L366.9 331.7zM370.8 334.1L368.9 337.4L365.1 337.4L363.2 334.1L365.1 330.8L368.9 330.8zM372.9 333.2L371 336.6L367.1 336.6L365.2 333.2L367.1 329.9L371 329.9zM374.9 332.4L372.9 335.7L369.1 335.7L367.2 332.4L369.1 329L372.9 329zM376.8 331.5L374.9 334.8L371.1 334.8L369.1 331.5L371.1 328.2L374.9 328.2zM378.7 330.6L376.8 334L372.9 334L371 330.6L372.9 327.3L376.8 327.3zM380.6 329.8L378.6 333.1L374.8 333.1L372.9 329.8L374.8 326.5L378.6 326.5zM382.4 329L380.5 332.3L376.6 332.3L374.7 329L376.6 325.6L380.5 325.6zM384.2 328.1L382.2 331.4L378.4 331.4L376.5 328.1L378.4 324.8L382.2 324.8zM385.9 327.3L384 330.6L380.2 330.6L378.2 327.3L380.2 324L384 324zM387.6 326.5L385.7 329.8L381.9 329.8L379.9 326.5L381.9 323.2L385.7 323.2zM389.3 325.7L387.4 329L383.5 329L381.6 325.7L383.5 322.3L387.4 322.3zM390.9 324.9L389 328.2L385.2 328.2L383.3 324.9L385.2 321.5L389 321.5zM392.6 324L390.6 327.4L386.8 327.4L384.9 324L386.8 320.7L390.6 320.7zM394.1 323.2L392.2 326.6L388.4 326.6L386.5 323.2L388.4 319.9L392.2 319.9zM395.7 322.4L393.8 325.8L389.9 325.8L388 322.4L389.9 319.1L393.8 319.1zM397.2 321.7L395.3 325L391.5 325L389.6 321.7L391.5 318.3L395.3 318.3zM398.7 320.9L396.8 324.2L393 324.2L391.1 320.9L393 317.5L396.8 317.5zM400.2 320.1L398.3 323.4L394.5 323.4L392.5 320.1L394.5 316.8L398.3 316.8zM401.7 319.3L399.7 322.6L395.9 322.6L394 319.3L395.9 316L399.7 316zM403.1 318.5L401.2 321.8L397.3 321.8L395.4 318.5L397.3 315.2L401.2 315.2zM404.5 317.7L402.6 321L398.8 321L396.8 317.7L398.8 314.4L402.6 314.4zM405.9 317L404 320.3L400.1 320.3L398.2 317L400.1 313.6L404 313.6zM407.3 316.2L405.3 319.5L401.5 319.5L399.6 316.2L401.5 312.9L405.3 312.9zM408.6 315.4L406.7 318.7L402.8 318.7L400.9 315.4L402.8 312.1L406.7 312.1zM409.9 314.7L408 318L404.2 318L402.3 314.7L404.2 311.4L408 311.4zM411.2 313.9L409.3 317.2L405.5 317.2L403.6 313.9L405.5 310.6L409.3 310.6zM412.5 313.2L410.6 316.5L406.8 316.5L404.8 313.2L406.8 309.9L410.6 309.9zM413.8 312.4L411.8 315.8L408 315.8L406.1 312.4L408 309.1L411.8 309.1zM415 311.7L413.1 315L409.3 315L407.3 311.7L409.3 308.4L413.1 308.4zM416.2 311L414.3 314.3L410.5 314.3L408.6 311L410.5 307.7L414.3 307.7zM417.5 310.2L415.5 313.6L411.7 313.6L409.8 310.2L411.7 306.9L415.5 306.9zM418.6 309.5L416.7 312.8L412.9 312.8L411 309.5L412.9 306.2L416.7 306.2zM419.8 308.8L417.9 312.1L414.1 312.1L412.2 308.8L414.1 305.5L417.9 305.5zM421 308.1L419.1 311.4L415.2 311.4L413.3 308.1L415.2 304.8L419.1 304.8zM422.1 307.4L420.2 310.7L416.4 310.7L414.5 307.4L416.4 304L420.2 304zM423.3 306.6L421.4 310L417.5 310L415.6 306.6L417.5 303.3L421.4 303.3zM424.4 305.9L422.5 309.2L418.6 309.2L416.7 305.9L418.6 302.6L422.5 302.6zM425.5 305.2L423.6 308.5L419.7 308.5L417.8 305.2L419.7 301.9L423.6 301.9zM426.6 304.5L424.7 307.8L420.8 307.8L418.9 304.5L420.8 301.2L424.7 301.2zM427.7 303.8L425.7 307.1L421.9 307.1L420 303.8L421.9 300.5L425.7 300.5zM428.7 303.1L426.8 306.4L423 306.4L421.1 303.1L423 299.8L426.8 299.8zM429.8 302.4L427.9 305.7L424 305.7L422.1 302.4L424 299.1L427.9 299.1zM430.8 301.7L428.9 305L425.1 305L423.1 301.7L425.1 298.3L428.9 298.3zM431.8 301L429.9 304.3L426.1 304.3L424.2 301L426.1 297.6L429.9 297.6zM432.8 300.2L430.9 303.6L427.1 303.6L425.2 300.2L427.1 296.9L430.9 296.9zM433.9 299.5L431.9 302.9L428.1 302.9L426.2 299.5L428.1 296.2L431.9 296.2zM434.8 298.8L432.9 302.2L429.1 302.2L427.2 298.8L429.1 295.5L432.9 295.5zM435.8 298.1L433.9 301.5L430.1 301.5L428.2 298.1L430.1 294.8L433.9 294.8zM436.8 297.4L434.9 300.7L431 300.7L429.1 297.4L431 294.1L434.9 294.1zM437.7 296.7L435.8 300L432 300L430.1 296.7L432 293.4L435.8 293.4zM438.7 296L436.8 299.3L432.9 299.3L431 296L432.9 292.7L436.8 292.7zM439.6 295.3L437.7 298.6L433.9 298.6L432 295.3L433.9 292L437.7 292zM440.6 294.6L438.6 297.9L434.8 297.9L432.9 294.6L434.8 291.3L438.6 291.3zM441.5 293.9L439.6 297.2L435.7 297.2L433.8 293.9L435.7 290.6L439.6 290.6zM442.4 293.2L440.5 296.5L436.6 296.5L434.7 293.2L436.6 289.9L440.5 289.9zM443.3 292.5L441.4 295.8L437.5 295.8L435.6 292.5L437.5 289.2L441.4 289.2zM444.2 291.8L442.3 295.1L438.4 295.1L436.5 291.8L438.4 288.5L442.3 288.5zM445.1 291.1L443.1 294.4L439.3 294.4L437.4 291.1L439.3 287.8L443.1 287.8zM445.9 290.4L444 293.7L440.2 293.7L438.3 290.4L440.2 287L444 287zM446.8 289.7L444.9 293L441 293L439.1 289.7L441 286.3L444.9 286.3zM447.6 289L445.7 292.3L441.9 292.3L440 289L441.9 285.6L445.7 285.6zM448.5 288.2L446.6 291.6L442.7 291.6L440.8 288.2L442.7 284.9L446.6 284.9zM449.3 287.5L447.4 290.9L443.6 290.9L441.7 287.5L443.6 284.2L447.4 284.2zM450.2 286.8L448.2 290.1L444.4 290.1L442.5 286.8L444.4 283.5L448.2 283.5zM451 286.1L449.1 289.4L445.2 289.4L443.3 286.1L445.2 282.8L449.1 282.8zM451.8 285.4L449.9 288.7L446.1 288.7L444.1 285.4L446.1 282.1L449.9 282.1zM452.6 284.7L450.7 288L446.9 288L444.9 284.7L446.9 281.4L450.7 281.4zM453.4 284L451.5 287.3L447.7 287.3L445.7 284L447.7 280.7L451.5 280.7zM454.2 283.3L452.3 286.6L448.5 286.6L446.5 283.3L448.5 279.9L452.3 279.9zM455 282.5L453.1 285.9L449.2 285.9L447.3 282.5L449.2 279.2L453.1 279.2zM455.8 281.8L453.8 285.1L450 285.1L448.1 281.8L450 278.5L453.8 278.5zM456.5 281L454.6 284.3L450.8 284.3L448.9 281L450.8 277.7L454.6 277.7zM457.3 280.3L455.4 283.6L451.6 283.6L449.6 280.3L451.6 276.9L455.4 276.9zM458.1 279.5L456.1 282.8L452.3 282.8L450.4 279.5L452.3 276.2L456.1 276.2zM458.8 278.7L456.9 282L453.1 282L451.1 278.7L453.1 275.4L456.9 275.4zM459.6 277.9L457.6 281.2L453.8 281.2L451.9 277.9L453.8 274.5L457.6 274.5zM460.3 277.1L458.4 280.4L454.5 280.4L452.6 277.1L454.5 273.7L458.4 273.7zM461 276.2L459.1 279.5L455.3 279.5L453.4 276.2L455.3 272.9L459.1 272.9zM461.8 275.4L459.8 278.7L456 278.7L454.1 275.4L456 272.1L459.8 272.1zM462.5 274.6L460.6 277.9L456.7 277.9L454.8 274.6L456.7 271.2L460.6 271.2zM463.2 273.7L461.3 277L457.4 277L455.5 273.7L457.4 270.4L461.3 270.4zM463.9 272.9L462 276.2L458.1 276.2L456.2 272.9L458.1 269.6L462 269.6zM464.6 272L462.7 275.4L458.9 275.4L456.9 272L458.9 268.7L462.7 268.7zM465.3 271.2L463.4 274.5L459.5 274.5L457.6 271.2L459.5 267.9L463.4 267.9zM466 270.3L464.1 273.7L460.2 273.7L458.3 270.3L460.2 267L464.1 267zM466.7 269.5L464.8 272.8L460.9 272.8L459 269.5L460.9 266.2L464.8 266.2zM467.4 268.6L465.4 272L461.6 272L459.7 268.6L461.6 265.3L465.4 265.3zM468 267.8L466.1 271.1L462.3 271.1L460.4 267.8L462.3 264.5L466.1 264.5zM468.7 266.9L466.8 270.3L463 270.3L461 266.9L463 263.6L466.8 263.6zM469.4 266.1L467.5 269.4L463.6 269.4L461.7 266.1L463.6 262.8L467.5 262.8zM470 265.2L468.1 268.6L464.3 268.6L462.4 265.2L464.3 261.9L468.1 261.9zM470.7 264.4L468.8 267.7L464.9 267.7L463 264.4L464.9 261.1L468.8 261.1zM471.3 263.6L469.4 266.9L465.6 266.9L463.7 263.6L465.6 260.2L469.4 260.2zM472 262.7L470.1 266L466.2 266L464.3 262.7L466.2 259.4L470.1 259.4zM472.6 261.9L470.7 265.2L466.9 265.2L465 261.9L466.9 258.6L470.7 258.6zM473.3 261.1L471.3 264.4L467.5 264.4L465.6 261.1L467.5 257.8L471.3 257.8zM473.9 260.3L472 263.6L468.1 263.6L466.2 260.3L468.1 256.9L472 256.9zM474.5 259.4L472.6 262.8L468.8 262.8L466.9 259.4L468.8 256.1L472.6 256.1zM475.1 258.6L473.2 262L469.4 262L467.5 258.6L469.4 255.3L473.2 255.3zM475.8 257.8L473.8 261.2L470 261.2L468.1 257.8L470 254.5L473.8 254.5zM476.4 257.1L474.5 260.4L470.6 260.4L468.7 257.1L470.6 253.7L474.5 253.7zM477 256.3L475.1 259.6L471.2 259.6L469.3 256.3L471.2 252.9L475.1 252.9zM477.6 255.5L475.7 258.8L471.8 258.8L469.9 255.5L471.8 252.2L475.7 252.2zM478.2 254.7L476.3 258L472.4 258L470.5 254.7L472.4 251.4L476.3 251.4zM478.8 254L476.9 257.3L473 257.3L471.1 254L473 250.6L476.9 250.6zM479.4 253.2L477.5 256.5L473.6 256.5L471.7 253.2L473.6 249.9L477.5 249.9zM480 252.5L478 255.8L474.2 255.8L472.3 252.5L474.2 249.1L478 249.1zM480.6 251.7L478.6 255L474.8 255L472.9 251.7L474.8 248.4L478.6 248.4zM481.1 251L479.2 254.3L475.4 254.3L473.5 251L475.4 247.7L479.2 247.7zM481.7 250.3L479.8 253.6L476 253.6L474 250.3L476 247L479.8 247zM482.3 249.6L480.4 252.9L476.5 252.9L474.6 249.6L476.5 246.2L480.4 246.2zM482.9 248.8L480.9 252.2L477.1 252.2L475.2 248.8L477.1 245.5L480.9 245.5zM483.4 248.1L481.5 251.5L477.7 251.5L475.8 248.1L477.7 244.8L481.5 244.8zM484 247.4L482.1 250.8L478.2 250.8L476.3 247.4L478.2 244.1L482.1 244.1zM485.1 246L483.2 249.4L479.3 249.4L477.4 246L479.3 242.7L483.2 242.7zM486.2 244.7L484.3 248L480.4 248L478.5 244.7L480.4 241.3L484.3 241.3zM487.3 243.3L485.4 246.6L481.5 246.6L479.6 243.3L481.5 240L485.4 240zM488.4 241.9L486.4 245.3L482.6 245.3L480.7 241.9L482.6 238.6L486.4 238.6zM489.4 240.6L487.5 243.9L483.7 243.9L481.7 240.6L483.7 237.3L487.5 237.3zM490.5 239.2L488.5 242.5L484.7 242.5L482.8 239.2L484.7 235.9L488.5 235.9zM491.5 237.9L489.6 241.2L485.7 241.2L483.8 237.9L485.7 234.6L489.6 234.6zM492.5 236.5L490.6 239.8L486.8 239.8L484.9 236.5L486.8 233.2L490.6 233.2zM493.5 235.2L491.6 238.5L487.8 238.5L485.9 235.2L487.8 231.9L491.6 231.9zM494.5 233.8L492.6 237.1L488.8 237.1L486.9 233.8L488.8 230.5L492.6 230.5zM495.5 232.4L493.6 235.8L489.8 235.8L487.8 232.4L489.8 229.1L493.6 229.1zM496.5 231.1L494.6 234.4L490.7 234.4L488.8 231.1L490.7 227.8L494.6 227.8zM497.5 229.7L495.5 233L491.7 233L489.8 229.7L491.7 226.4L495.5 226.4zM498.4 228.3L496.5 231.6L492.7 231.6L490.7 228.3L492.7 225L496.5 225zM498.9 227.6L497 230.9L493.1 230.9L491.2 227.6L493.1 224.3L497 224.3zM499.4 226.9L497.4 230.2L493.6 230.2L491.7 226.9L493.6 223.6L497.4 223.6zM499.8 226.2L497.9 229.5L494.1 229.5L492.2 226.2L494.1 222.9L497.9 222.9zM500.3 225.5L498.4 228.8L494.5 228.8L492.6 225.5L494.5 222.1L498.4 222.1zM500.8 224.7L498.8 228.1L495 228.1L493.1 224.7L495 221.4L498.8 221.4zM501.2 224L499.3 227.3L495.5 227.3L493.5 224L495.5 220.7L499.3 220.7zM501.7 223.3L499.8 226.6L495.9 226.6L494 223.3L495.9 220L499.8 220zM502.1 222.6L500.2 225.9L496.4 225.9L494.5 222.6L496.4 219.3L500.2 219.3zM502.6 221.9L500.7 225.2L496.8 225.2L494.9 221.9L496.8 218.5L500.7 218.5zM503 221.1L501.1 224.4L497.3 224.4L495.4 221.1L497.3 217.8L501.1 217.8zM503.5 220.4L501.6 223.7L497.7 223.7L495.8 220.4L497.7 217.1L501.6 217.1zM503.9 219.6L502 223L498.2 223L496.3 219.6L498.2 216.3L502 216.3zM504.4 218.9L502.5 222.2L498.6 222.2L496.7 218.9L498.6 215.5L502.5 215.5zM504.8 218L502.9 221.4L499.1 221.4L497.2 218L499.1 214.7L502.9 214.7zM505.3 217.2L503.3 220.5L499.5 220.5L497.6 217.2L499.5 213.9L503.3 213.9zM505.7 216.3L503.8 219.6L499.9 219.6L498 216.3L499.9 213L503.8 213zM506.1 215.4L504.2 218.7L500.4 218.7L498.5 215.4L500.4 212.1L504.2 212.1zM506.6 214.5L504.6 217.8L500.8 217.8L498.9 214.5L500.8 211.2L504.6 211.2zM507 213.6L505.1 216.9L501.2 216.9L499.3 213.6L501.2 210.3L505.1 210.3zM507.4 212.6L505.5 216L501.7 216L499.8 212.6L501.7 209.3L505.5 209.3zM507.9 211.7L505.9 215L502.1 215L500.2 211.7L502.1 208.4L505.9 208.4zM508.3 210.7L506.4 214.1L502.5 214.1L500.6 210.7L502.5 207.4L506.4 207.4zM508.7 209.8L506.8 213.1L503 213.1L501 209.8L503 206.5L506.8 206.5zM509.1 208.9L507.2 212.2L503.4 212.2L501.5 208.9L503.4 205.5L507.2 205.5zM509.5 207.9L507.6 211.3L503.8 211.3L501.9 207.9L503.8 204.6L507.6 204.6zM510 207L508 210.3L504.2 210.3L502.3 207L504.2 203.7L508 203.7zM510.4 206.1L508.5 209.5L504.6 209.5L502.7 206.1L504.6 202.8L508.5 202.8zM510.8 205.3L508.9 208.6L505 208.6L503.1 205.3L505 201.9L508.9 201.9zM511.2 204.4L509.3 207.7L505.4 207.7L503.5 204.4L505.4 201.1L509.3 201.1zM511.6 203.6L509.7 206.9L505.9 206.9L503.9 203.6L505.9 200.3L509.7 200.3zM512 202.8L510.1 206.2L506.3 206.2L504.3 202.8L506.3 199.5L510.1 199.5zM512.4 202.1L510.5 205.4L506.7 205.4L504.8 202.1L506.7 198.8L510.5 198.8zM512.8 201.4L510.9 204.7L507.1 204.7L505.2 201.4L507.1 198.1L510.9 198.1zM513.6 200.1L511.7 203.4L507.9 203.4L506 200.1L507.9 196.8L511.7 196.8zM514.4 199L512.5 202.3L508.7 202.3L506.8 199L508.7 195.7L512.5 195.7zM515.2 198L513.3 201.3L509.5 201.3L507.5 198L509.5 194.7L513.3 194.7zM516 197.1L514.1 200.4L510.2 200.4L508.3 197.1L510.2 193.7L514.1 193.7zM516.8 196.2L514.8 199.5L511 199.5L509.1 196.2L511 192.9L514.8 192.9zM517.5 195.4L515.6 198.7L511.8 198.7L509.9 195.4L511.8 192.1L515.6 192.1zM518.3 194.7L516.4 198L512.5 198L510.6 194.7L512.5 191.3L516.4 191.3zM519 193.9L517.1 197.2L513.3 197.2L511.4 193.9L513.3 190.6L517.1 190.6zM519.8 193.2L517.9 196.5L514 196.5L512.1 193.2L514 189.9L517.9 189.9zM520.5 192.5L518.6 195.8L514.8 195.8L512.9 192.5L514.8 189.1L518.6 189.1zM521.3 191.7L519.3 195L515.5 195L513.6 191.7L515.5 188.4L519.3 188.4zM522 190.9L520.1 194.2L516.2 194.2L514.3 190.9L516.2 187.6L520.1 187.6zM522.7 190.1L520.8 193.4L517 193.4L515 190.1L517 186.8L520.8 186.8zM523.4 189.2L521.5 192.6L517.7 192.6L515.8 189.2L517.7 185.9L521.5 185.9zM524.1 188.3L522.2 191.6L518.4 191.6L516.5 188.3L518.4 185L522.2 185zM524.8 187.3L522.9 190.6L519.1 190.6L517.2 187.3L519.1 184L522.9 184zM525.5 186.3L523.6 189.6L519.8 189.6L517.9 186.3L519.8 182.9L523.6 182.9zM526.2 185.2L524.3 188.5L520.5 188.5L518.6 185.2L520.5 181.8L524.3 181.8zM526.9 184L525 187.3L521.2 187.3L519.2 184L521.2 180.7L525 180.7zM527.6 182.9L525.7 186.2L521.8 186.2L519.9 182.9L521.8 179.5L525.7 179.5zM528.3 181.7L526.4 185L522.5 185L520.6 181.7L522.5 178.3L526.4 178.3zM528.9 180.5L527 183.8L523.2 183.8L521.3 180.5L523.2 177.1L527 177.1zM529.6 179.2L527.7 182.6L523.9 182.6L521.9 179.2L523.9 175.9L527.7 175.9zM530.3 178L528.4 181.3L524.5 181.3L522.6 178L524.5 174.7L528.4 174.7zM530.9 176.8L529 180.1L525.2 180.1L523.3 176.8L525.2 173.5L529 173.5zM531.6 175.6L529.7 178.9L525.8 178.9L523.9 175.6L525.8 172.2L529.7 172.2zM532.2 174.4L530.3 177.7L526.5 177.7L524.6 174.4L526.5 171L530.3 171zM532.9 173.2L531 176.5L527.1 176.5L525.2 173.2L527.1 169.9L531 169.9zM533.5 172L531.6 175.3L527.8 175.3L525.8 172L527.8 168.7L531.6 168.7zM534.1 170.9L532.2 174.2L528.4 174.2L526.5 170.9L528.4 167.5L532.2 167.5zM534.8 169.8L532.8 173.1L529 173.1L527.1 169.8L529 166.4L532.8 166.4zM535.4 168.7L533.5 172L529.6 172L527.7 168.7L529.6 165.4L533.5 165.4zM536 167.7L534.1 171L530.3 171L528.3 167.7L530.3 164.3L534.1 164.3zM536.6 166.7L534.7 170L530.9 170L529 166.7L530.9 163.3L534.7 163.3zM537.2 165.7L535.3 169L531.5 169L529.6 165.7L531.5 162.4L535.3 162.4zM537.8 164.8L535.9 168.2L532.1 168.2L530.2 164.8L532.1 161.5L535.9 161.5zM538.4 164L536.5 167.3L532.7 167.3L530.8 164L532.7 160.7L536.5 160.7zM539 163.2L537.1 166.6L533.3 166.6L531.4 163.2L533.3 159.9L537.1 159.9zM539.6 162.5L537.7 165.8L533.9 165.8L532 162.5L533.9 159.2L537.7 159.2zM540.2 161.8L538.3 165.1L534.5 165.1L532.6 161.8L534.5 158.5L538.3 158.5zM541.1 160.8L539.2 164.1L535.4 164.1L533.4 160.8L535.4 157.4L539.2 157.4zM542 159.8L540.1 163.1L536.2 163.1L534.3 159.8L536.2 156.5L540.1 156.5zM542.8 158.8L540.9 162.2L537.1 162.2L535.2 158.8L537.1 155.5L540.9 155.5zM543.7 157.9L541.8 161.3L537.9 161.3L536 157.9L537.9 154.6L541.8 154.6zM544.5 157.1L542.6 160.4L538.8 160.4L536.9 157.1L538.8 153.8L542.6 153.8zM545.4 156.2L543.4 159.6L539.6 159.6L537.7 156.2L539.6 152.9L543.4 152.9zM546.2 155.4L544.3 158.8L540.4 158.8L538.5 155.4L540.4 152.1L544.3 152.1zM547 154.6L545.1 158L541.3 158L539.3 154.6L541.3 151.3L545.1 151.3zM547.8 153.9L545.9 157.2L542.1 157.2L540.2 153.9L542.1 150.5L545.9 150.5zM548.6 153.1L546.7 156.4L542.9 156.4L541 153.1L542.9 149.8L546.7 149.8zM549.4 152.3L547.5 155.7L543.7 155.7L541.8 152.3L543.7 149L547.5 149zM550.2 151.6L548.3 154.9L544.5 154.9L542.5 151.6L544.5 148.3L548.3 148.3zM551 150.8L549.1 154.2L545.2 154.2L543.3 150.8L545.2 147.5L549.1 147.5zM551.8 150.1L549.8 153.4L546 153.4L544.1 150.1L546 146.8L549.8 146.8zM552.5 149.3L550.6 152.6L546.8 152.6L544.9 149.3L546.8 146L550.6 146zM553.3 148.6L551.4 151.9L547.5 151.9L545.6 148.6L547.5 145.2L551.4 145.2zM554.1 147.8L552.1 151.1L548.3 151.1L546.4 147.8L548.3 144.5L552.1 144.5zM554.8 147L552.9 150.3L549.1 150.3L547.1 147L549.1 143.7L552.9 143.7zM555.5 146.2L553.6 149.5L549.8 149.5L547.9 146.2L549.8 142.9L553.6 142.9zM556.3 145.5L554.4 148.8L550.5 148.8L548.6 145.5L550.5 142.1L554.4 142.1zM557 144.7L555.1 148L551.3 148L549.3 144.7L551.3 141.4L555.1 141.4zM557.7 144L555.8 147.3L552 147.3L550.1 144L552 140.6L555.8 140.6zM558.5 143.2L556.5 146.5L552.7 146.5L550.8 143.2L552.7 139.9L556.5 139.9zM559.2 142.5L557.2 145.8L553.4 145.8L551.5 142.5L553.4 139.1L557.2 139.1zM559.9 141.7L558 145L554.1 145L552.2 141.7L554.1 138.4L558 138.4zM560.6 141L558.7 144.3L554.8 144.3L552.9 141L554.8 137.7L558.7 137.7zM561.3 140.3L559.4 143.6L555.5 143.6L553.6 140.3L555.5 137L559.4 137zM562 139.6L560 142.9L556.2 142.9L554.3 139.6L556.2 136.2L560 136.2zM562.6 138.8L560.7 142.2L556.9 142.2L555 138.8L556.9 135.5L560.7 135.5zM563.3 138.1L561.4 141.5L557.6 141.5L555.7 138.1L557.6 134.8L561.4 134.8zM564 137.4L562.1 140.8L558.2 140.8L556.3 137.4L558.2 134.1L562.1 134.1zM564.9 136.5L563 139.8L559.1 139.8L557.2 136.5L559.1 133.2L563 133.2zM565.8 135.6L563.8 138.9L560 138.9L558.1 135.6L560 132.3L563.8 132.3zM566.6 134.7L564.7 138L560.9 138L559 134.7L560.9 131.4L564.7 131.4z" fill="#ff4400"/>
<path d="M69.9 482.2L116.9 439.6L147.2 429.5L169.7 426.5L187.5 421.9L202.3 424.5L215 414.6L226 413.9L235.8 413.9L244.6 408.8L252.6 405.3L259.9 402.4L266.7 400L272.9 397.8L278.8 395.6L284.3 393.7L289.4 391.8L294.3 390.1L298.9 388.3L303.3 386.6L307.5 384.9L311.4 383.2L315.2 381.5L318.9 379.9L322.4 378.4L325.7 376.9L329 375.4L332.1 373.9L335.1 372.5L338 371.2L340.9 369.8L343.6 368.6L346.2 367.3L348.8 366.1L351.3 364.9L353.7 363.7L356.1 362.6L358.4 361.5L360.6 360.4L362.8 359.3L364.9 358.3L367 357.2L369 356.2L371 355.2L373 354.3L374.9 353.3L376.7 352.4L378.5 351.4L380.3 350.5L382.1 349.6L383.8 348.7L385.5 347.9L387.1 347L388.7 346.1L390.3 345.3L391.9 344.4L393.4 343.6L394.9 342.8L396.4 342L397.8 341.2L399.3 340.4L400.7 339.6L402.1 338.9L403.4 338.1L404.8 337.4L406.1 336.7L407.4 336L408.7 335.3L409.9 334.6L411.2 333.9L412.4 333.3L413.6 332.6L414.8 331.9L416 331.2L417.2 330.5L418.3 329.7L419.4 329L420.6 328.2L421.7 327.5L422.7 326.7L423.8 325.9L424.9 325.1L425.9 324.2L427 323.4L428 322.4L429 321.5L430 320.5L431 319.5L432 318.5L433 317.5L433.9 316.4L434.9 315.3L435.8 314.3L436.7 313.2L437.6 312.1L438.6 311L439.5 309.9L440.3 308.8L441.2 307.8L442.1 306.7L443 305.6L443.8 304.6L444.7 303.5L445.5 302.5L446.3 301.4L447.2 300.4L448 299.4L448.8 298.5L449.6 297.5L450.4 296.6L451.2 295.6L451.9 294.7L452.7 293.8L453.5 292.9L454.2 292L455 291.1L455.7 290.2L456.5 289.3L457.2 288.4L457.9 287.6L458.6 286.7L459.4 285.8L460.1 285L460.8 284.1L461.5 283.2L462.2 282.4L462.8 281.5L463.5 280.7L464.2 279.8L464.9 279L465.5 278.2L466.2 277.3L466.9 276.5L467.5 275.6L468.1 274.8L468.8 273.9L469.4 273.1L470.1 272.2L470.7 271.4L471.3 270.6L471.9 269.7L472.5 268.9L473.1 268L473.8 267.2L474.4 266.3L475 265.5L475.5 264.6L476.1 263.8L476.7 262.9L477.3 262.1L477.9 261.2L478.4 260.4L479 259.5L479.6 258.7L480.1 257.8L480.7 257L481.3 256.1L481.8 255.3L482.4 254.4L482.9 253.6L483.4 252.7L484 251.9L484.5 251.1L485.1 250.2L485.6 249.4L486.1 248.5L486.6 247.7L487.1 246.8L487.7 246L488.2 245.1L488.7 244.3L489.2 243.4L489.7 242.6L490.2 241.7L490.7 240.9L491.2 240L491.7 239.2L492.2 238.3L492.7 237.5L493.1 236.6L493.6 235.8L494.1 234.9L494.6 234.1L495.1 233.2L495.5 232.4L496 231.5L496.5 230.7L496.9 229.8L497.4 229L497.8 228.1L498.3 227.2L498.8 226.4L499.2 225.5L499.7 224.7L500.1 223.8L500.5 222.9L501 222L501.4 221L501.9 220L502.3 219L502.7 218L503.2 217L503.6 215.9L504 214.9L504.4 213.8L504.9 212.8L505.3 211.7L505.7 210.7L506.1 209.7L506.5 208.8L507 207.8L507.4 206.9L507.8 206L508.2 205.2L508.6 204.4L509 203.7L509.4 203L509.8 202.3L510.2 201.7L510.6 201.2L511 200.6L511.4 200.1L511.8 199.6L512.2 199.2L512.5 198.8L512.9 198.3L513.3 197.9L513.7 197.5L514.1 197.1L514.4 196.8L514.8 196.4L515.2 196L515.6 195.7L515.9 195.3L516.3 194.9L516.7 194.6L517.1 194.2L517.4 193.8L517.8 193.4L518.2 193L518.5 192.6L518.9 192.2L519.2 191.8L519.6 191.3L519.9 190.9L520.3 190.4L520.7 189.9L521 189.4L521.4 188.8L521.7 188.3L522 187.7L522.4 187.2L522.7 186.6L523.1 186L523.4 185.4L523.8 184.8L524.1 184.1L524.4 183.5L524.8 182.9L525.1 182.3L525.4 181.6L525.8 181L526.1 180.3L526.4 179.7L526.8 179L527.1 178.4L527.4 177.8L527.7 177.1L528.1 176.5L528.4 175.9L528.7 175.2L529 174.6L529.4 174L529.7 173.4L530 172.8L530.3 172.2L530.6 171.6L530.9 171L531.2 170.5L531.6 169.9L531.9 169.4L532.2 168.8L532.5 168.3L532.8 167.8L533.1 167.3L533.4 166.8L533.7 166.4L534 165.9L534.3 165.5L534.6 165L534.9 164.6L535.2 164.2L535.5 163.8L535.8 163.5L536.1 163.1L536.4 162.7L536.7 162.4L537 162L537.3 161.7L537.6 161.3L537.8 161L538.1 160.6L538.4 160.3L538.7 160L539 159.7L539.3 159.4L539.6 159L539.8 158.7L540.1 158.4L540.4 158.1L540.7 157.8L541 157.6L541.2 157.3L541.5 157L541.8 156.7L542.1 156.4L542.4 156.1L542.6 155.9L542.9 155.6L543.2 155.3L543.4 155L543.7 154.8L544 154.5L544.3 154.2L544.5 154L544.8 153.7L545.1 153.5L545.3 153.2L545.6 152.9L545.8 152.7L546.1 152.4L546.4 152.2L546.6 151.9L546.9 151.6L547.2 151.4L547.4 151.1L547.7 150.9L547.9 150.6L548.2 150.4L548.4 150.1L548.7 149.8L549 149.6L549.2 149.3L549.5 149.1L549.7 148.8L550 148.5L550.2 148.3L550.5 148L550.7 147.7L551 147.5L551.2 147.2L551.5 147L551.7 146.7L552 146.4L552.2 146.2L552.4 145.9L552.7 145.7L552.9 145.4L553.2 145.2L553.4 144.9L553.7 144.7L553.9 144.4L554.1 144.2L554.4 143.9L554.6 143.7L554.9 143.4L555.1 143.2L555.3 142.9L555.6 142.7L555.8 142.4L556 142.2L556.3 141.9L556.5 141.7L556.7 141.5L557 141.2L557.2 141L557.4 140.7L557.7 140.5L557.9 140.3L558.1 140L558.4 139.8L558.6 139.5L558.8 139.3L559 139.1L559.3 138.8L559.5 138.6L559.7 138.4L559.9 138.1L560.2 137.9L560.4 137.7L560.6 137.4L560.8 137.2L561.1 137L561.3 136.8L561.5 136.5L561.7 136.3L561.9 136.1L562.2 135.9L562.4 135.6L562.6 135.4L562.8 135.2" fill="none" stroke="#ff0000" stroke-width="2.6" stroke-linejoin="round"/>
<path d="M116.9 434.4L118.1 437.9L121.8 438L118.9 440.2L119.9 443.8L116.9 441.7L113.8 443.8L114.9 440.2L111.9 438L115.7 437.9zM147.2 424.3L148.4 427.8L152.2 427.9L149.2 430.1L150.3 433.7L147.2 431.6L144.2 433.7L145.2 430.1L142.3 427.9L146 427.8zM169.7 421.3L170.9 424.8L174.6 424.9L171.7 427.1L172.7 430.7L169.7 428.6L166.6 430.7L167.7 427.1L164.7 424.9L168.5 424.8zM187.5 416.7L188.7 420.2L192.4 420.3L189.5 422.5L190.6 426.1L187.5 424L184.5 426.1L185.5 422.5L182.6 420.3L186.3 420.2zM202.3 419.3L203.5 422.8L207.2 422.9L204.3 425.1L205.4 428.7L202.3 426.6L199.3 428.7L200.3 425.1L197.4 422.9L201.1 422.8zM215 409.4L216.2 412.9L219.9 413L216.9 415.2L218 418.8L215 416.7L211.9 418.8L213 415.2L210 413L213.7 412.9zM226 408.7L227.2 412.2L230.9 412.3L228 414.5L229 418.1L226 416L223 418.1L224 414.5L221.1 412.3L224.8 412.2zM235.8 408.7L237 412.2L240.7 412.3L237.8 414.5L238.8 418.1L235.8 416L232.7 418.1L233.8 414.5L230.9 412.3L234.6 412.2zM244.6 403.6L245.8 407.1L249.5 407.2L246.6 409.4L247.7 413L244.6 410.9L241.6 413L242.6 409.4L239.7 407.2L243.4 407.1zM252.6 400.1L253.8 403.6L257.5 403.7L254.6 405.9L255.6 409.5L252.6 407.3L249.6 409.5L250.6 405.9L247.7 403.7L251.4 403.6zM259.9 397.3L261.1 400.8L264.9 400.8L261.9 403.1L263 406.6L259.9 404.5L256.9 406.6L258 403.1L255 400.8L258.7 400.8zM266.7 394.8L267.9 398.3L271.6 398.4L268.7 400.7L269.7 404.2L266.7 402.1L263.6 404.2L264.7 400.7L261.7 398.4L265.5 398.3zM272.9 392.6L274.2 396.1L277.9 396.2L274.9 398.4L276 402L272.9 399.8L269.9 402L271 398.4L268 396.2L271.7 396.1zM278.8 390.4L280 393.9L283.7 394L280.8 396.2L281.8 399.8L278.8 397.7L275.7 399.8L276.8 396.2L273.9 394L277.6 393.9zM284.3 388.5L285.5 392L289.2 392.1L286.3 394.3L287.3 397.9L284.3 395.7L281.2 397.9L282.3 394.3L279.3 392.1L283.1 392zM289.4 386.6L290.7 390.2L294.4 390.2L291.4 392.5L292.5 396L289.4 393.9L286.4 396L287.5 392.5L284.5 390.2L288.2 390.2zM294.3 384.9L295.5 388.4L299.2 388.5L296.3 390.7L297.3 394.3L294.3 392.2L291.3 394.3L292.3 390.7L289.4 388.5L293.1 388.4zM298.9 383.1L300.1 386.7L303.8 386.7L300.9 389L302 392.5L298.9 390.4L295.9 392.5L296.9 389L294 386.7L297.7 386.7zM303.3 381.4L304.5 384.9L308.2 385L305.3 387.2L306.3 390.8L303.3 388.7L300.2 390.8L301.3 387.2L298.4 385L302.1 384.9zM307.5 379.7L308.7 383.2L312.4 383.3L309.4 385.5L310.5 389.1L307.5 386.9L304.4 389.1L305.5 385.5L302.5 383.3L306.2 383.2zM311.4 378L312.7 381.5L316.4 381.6L313.4 383.8L314.5 387.4L311.4 385.3L308.4 387.4L309.5 383.8L306.5 381.6L310.2 381.5zM315.2 376.4L316.5 379.9L320.2 379.9L317.2 382.2L318.3 385.7L315.2 383.6L312.2 385.7L313.3 382.2L310.3 379.9L314 379.9zM318.9 374.8L320.1 378.3L323.8 378.3L320.9 380.6L321.9 384.1L318.9 382L315.8 384.1L316.9 380.6L313.9 378.3L317.7 378.3zM322.4 373.2L323.6 376.7L327.3 376.8L324.4 379L325.4 382.6L322.4 380.5L319.3 382.6L320.4 379L317.4 376.8L321.2 376.7zM325.7 371.7L327 375.2L330.7 375.3L327.7 377.5L328.8 381.1L325.7 378.9L322.7 381.1L323.8 377.5L320.8 375.3L324.5 375.2zM329 370.2L330.2 373.7L333.9 373.8L331 376L332 379.6L329 377.5L325.9 379.6L327 376L324 373.8L327.8 373.7zM332.1 368.8L333.3 372.3L337 372.3L334.1 374.6L335.2 378.1L332.1 376L329.1 378.1L330.1 374.6L327.2 372.3L330.9 372.3zM335.1 367.3L336.3 370.9L340.1 370.9L337.1 373.2L338.2 376.7L335.1 374.6L332.1 376.7L333.1 373.2L330.2 370.9L333.9 370.9zM338 366L339.3 369.5L343 369.6L340 371.8L341.1 375.4L338 373.2L335 375.4L336.1 371.8L333.1 369.6L336.8 369.5zM340.9 364.7L342.1 368.2L345.8 368.2L342.8 370.5L343.9 374L340.9 371.9L337.8 374L338.9 370.5L335.9 368.2L339.6 368.2zM343.6 363.4L344.8 366.9L348.5 366.9L345.6 369.2L346.6 372.7L343.6 370.6L340.5 372.7L341.6 369.2L338.6 366.9L342.4 366.9zM346.2 362.1L347.5 365.6L351.2 365.7L348.2 367.9L349.3 371.5L346.2 369.4L343.2 371.5L344.3 367.9L341.3 365.7L345 365.6zM348.8 360.9L350 364.4L353.7 364.5L350.8 366.7L351.8 370.3L348.8 368.1L345.8 370.3L346.8 366.7L343.9 364.5L347.6 364.4zM351.3 359.7L352.5 363.2L356.2 363.3L353.3 365.5L354.3 369.1L351.3 367L348.2 369.1L349.3 365.5L346.4 363.3L350.1 363.2zM353.7 358.5L354.9 362L358.7 362.1L355.7 364.4L356.8 367.9L353.7 365.8L350.7 367.9L351.7 364.4L348.8 362.1L352.5 362zM356.1 357.4L357.3 360.9L361 361L358.1 363.2L359.1 366.8L356.1 364.7L353 366.8L354.1 363.2L351.1 361L354.9 360.9zM358.4 356.3L359.6 359.8L363.3 359.9L360.4 362.1L361.4 365.7L358.4 363.5L355.3 365.7L356.4 362.1L353.4 359.9L357.2 359.8zM360.6 355.2L361.8 358.7L365.6 358.8L362.6 361L363.7 364.6L360.6 362.5L357.6 364.6L358.6 361L355.7 358.8L359.4 358.7zM362.8 354.1L364 357.6L367.7 357.7L364.8 360L365.9 363.5L362.8 361.4L359.8 363.5L360.8 360L357.9 357.7L361.6 357.6zM364.9 353.1L366.2 356.6L369.9 356.7L366.9 358.9L368 362.5L364.9 360.3L361.9 362.5L363 358.9L360 356.7L363.7 356.6zM367 352.1L368.2 355.6L371.9 355.6L369 357.9L370.1 361.4L367 359.3L364 361.4L365 357.9L362.1 355.6L365.8 355.6zM369 351L370.3 354.6L374 354.6L371 356.9L372.1 360.4L369 358.3L366 360.4L367.1 356.9L364.1 354.6L367.8 354.6zM371 350.1L372.2 353.6L376 353.6L373 355.9L374.1 359.4L371 357.3L368 359.4L369.1 355.9L366.1 353.6L369.8 353.6zM373 349.1L374.2 352.6L377.9 352.7L374.9 354.9L376 358.5L373 356.3L369.9 358.5L371 354.9L368 352.7L371.7 352.6zM374.9 348.1L376.1 351.6L379.8 351.7L376.8 354L377.9 357.5L374.9 355.4L371.8 357.5L372.9 354L369.9 351.7L373.6 351.6zM376.7 347.2L377.9 350.7L381.7 350.8L378.7 353L379.8 356.6L376.7 354.4L373.7 356.6L374.7 353L371.8 350.8L375.5 350.7zM378.5 346.3L379.8 349.8L383.5 349.8L380.5 352.1L381.6 355.6L378.5 353.5L375.5 355.6L376.6 352.1L373.6 349.8L377.3 349.8zM380.3 345.3L381.5 348.8L385.3 348.9L382.3 351.2L383.4 354.7L380.3 352.6L377.3 354.7L378.3 351.2L375.4 348.9L379.1 348.8zM382.1 344.4L383.3 347.9L387 348L384 350.3L385.1 353.8L382.1 351.7L379 353.8L380.1 350.3L377.1 348L380.8 347.9zM383.8 343.5L385 347.1L388.7 347.1L385.8 349.4L386.8 352.9L383.8 350.8L380.7 352.9L381.8 349.4L378.8 347.1L382.6 347.1zM385.5 342.7L386.7 346.2L390.4 346.3L387.4 348.5L388.5 352.1L385.5 349.9L382.4 352.1L383.5 348.5L380.5 346.3L384.2 346.2zM387.1 341.8L388.3 345.3L392 345.4L389.1 347.6L390.2 351.2L387.1 349.1L384.1 351.2L385.1 347.6L382.2 345.4L385.9 345.3zM388.7 340.9L389.9 344.5L393.7 344.5L390.7 346.8L391.8 350.3L388.7 348.2L385.7 350.3L386.7 346.8L383.8 344.5L387.5 344.5zM390.3 340.1L391.5 343.6L395.2 343.7L392.3 345.9L393.4 349.5L390.3 347.4L387.3 349.5L388.3 345.9L385.4 343.7L389.1 343.6zM391.9 339.3L393.1 342.8L396.8 342.8L393.8 345.1L394.9 348.6L391.9 346.5L388.8 348.6L389.9 345.1L386.9 342.8L390.6 342.8zM393.4 338.4L394.6 341.9L398.3 342L395.4 344.3L396.4 347.8L393.4 345.7L390.3 347.8L391.4 344.3L388.5 342L392.2 341.9zM394.9 337.6L396.1 341.1L399.8 341.2L396.9 343.4L397.9 347L394.9 344.9L391.9 347L392.9 343.4L390 341.2L393.7 341.1zM396.4 336.8L397.6 340.3L401.3 340.4L398.4 342.6L399.4 346.2L396.4 344.1L393.3 346.2L394.4 342.6L391.4 340.4L395.2 340.3zM397.8 336L399.1 339.5L402.8 339.6L399.8 341.8L400.9 345.4L397.8 343.3L394.8 345.4L395.9 341.8L392.9 339.6L396.6 339.5zM399.3 335.2L400.5 338.7L404.2 338.8L401.2 341.1L402.3 344.6L399.3 342.5L396.2 344.6L397.3 341.1L394.3 338.8L398 338.7zM400.7 334.4L401.9 337.9L405.6 338L402.6 340.3L403.7 343.8L400.7 341.7L397.6 343.8L398.7 340.3L395.7 338L399.5 337.9zM402.1 333.7L403.3 337.2L407 337.3L404 339.5L405.1 343.1L402.1 340.9L399 343.1L400.1 339.5L397.1 337.3L400.8 337.2zM403.4 332.9L404.6 336.5L408.4 336.5L405.4 338.8L406.5 342.3L403.4 340.2L400.4 342.3L401.4 338.8L398.5 336.5L402.2 336.5zM404.8 332.2L406 335.7L409.7 335.8L406.7 338.1L407.8 341.6L404.8 339.5L401.7 341.6L402.8 338.1L399.8 335.8L403.5 335.7zM406.1 331.5L407.3 335L411 335.1L408.1 337.3L409.1 340.9L406.1 338.8L403 340.9L404.1 337.3L401.1 335.1L404.9 335zM407.4 330.8L408.6 334.3L412.3 334.4L409.4 336.6L410.4 340.2L407.4 338.1L404.3 340.2L405.4 336.6L402.5 334.4L406.2 334.3zM408.7 330.1L409.9 333.6L413.6 333.7L410.6 336L411.7 339.5L408.7 337.4L405.6 339.5L406.7 336L403.7 333.7L407.4 333.6zM409.9 329.4L411.2 333L414.9 333L411.9 335.3L413 338.8L409.9 336.7L406.9 338.8L408 335.3L405 333L408.7 333zM411.2 328.8L412.4 332.3L416.1 332.3L413.2 334.6L414.2 338.1L411.2 336L408.1 338.1L409.2 334.6L406.2 332.3L410 332.3zM412.4 328.1L413.6 331.6L417.3 331.7L414.4 333.9L415.5 337.5L412.4 335.3L409.4 337.5L410.4 333.9L407.5 331.7L411.2 331.6zM413.6 327.4L414.8 330.9L418.6 331L415.6 333.2L416.7 336.8L413.6 334.6L410.6 336.8L411.6 333.2L408.7 331L412.4 330.9zM414.8 326.7L416 330.2L419.7 330.3L416.8 332.5L417.9 336.1L414.8 333.9L411.8 336.1L412.8 332.5L409.9 330.3L413.6 330.2zM416 326L417.2 329.5L420.9 329.6L418 331.8L419 335.4L416 333.2L412.9 335.4L414 331.8L411.1 329.6L414.8 329.5zM417.2 325.3L418.4 328.8L422.1 328.8L419.1 331.1L420.2 334.6L417.2 332.5L414.1 334.6L415.2 331.1L412.2 328.8L415.9 328.8zM418.3 324.5L419.5 328L423.2 328.1L420.3 330.4L421.4 333.9L418.3 331.8L415.3 333.9L416.3 330.4L413.4 328.1L417.1 328zM419.4 323.8L420.7 327.3L424.4 327.4L421.4 329.6L422.5 333.2L419.4 331.1L416.4 333.2L417.5 329.6L414.5 327.4L418.2 327.3zM420.6 323.1L421.8 326.6L425.5 326.6L422.5 328.9L423.6 332.4L420.6 330.3L417.5 332.4L418.6 328.9L415.6 326.6L419.3 326.6zM421.7 322.3L422.9 325.8L426.6 325.9L423.6 328.1L424.7 331.7L421.7 329.6L418.6 331.7L419.7 328.1L416.7 325.9L420.4 325.8zM422.7 321.5L424 325L427.7 325.1L424.7 327.3L425.8 330.9L422.7 328.8L419.7 330.9L420.8 327.3L417.8 325.1L421.5 325zM423.8 320.7L425 324.2L428.8 324.3L425.8 326.5L426.9 330.1L423.8 328L420.8 330.1L421.9 326.5L418.9 324.3L422.6 324.2zM424.9 319.9L426.1 323.4L429.8 323.5L426.9 325.7L427.9 329.3L424.9 327.2L421.8 329.3L422.9 325.7L420 323.5L423.7 323.4zM425.9 319.1L427.2 322.6L430.9 322.6L427.9 324.9L429 328.4L425.9 326.3L422.9 328.4L424 324.9L421 322.6L424.7 322.6zM427 318.2L428.2 321.7L431.9 321.8L428.9 324L430 327.6L427 325.4L423.9 327.6L425 324L422 321.8L425.8 321.7zM428 317.3L429.2 320.8L432.9 320.8L430 323.1L431.1 326.6L428 324.5L425 326.6L426 323.1L423.1 320.8L426.8 320.8zM429 316.3L430.2 319.8L434 319.9L431 322.1L432.1 325.7L429 323.6L426 325.7L427 322.1L424.1 319.9L427.8 319.8zM430 315.3L431.2 318.8L435 318.9L432 321.2L433.1 324.7L430 322.6L427 324.7L428 321.2L425.1 318.9L428.8 318.8zM431 314.3L432.2 317.8L435.9 317.9L433 320.2L434.1 323.7L431 321.6L428 323.7L429 320.2L426.1 317.9L429.8 317.8zM432 313.3L433.2 316.8L436.9 316.9L434 319.1L435 322.7L432 320.6L428.9 322.7L430 319.1L427.1 316.9L430.8 316.8zM433 312.3L434.2 315.8L437.9 315.9L434.9 318.1L436 321.7L433 319.5L429.9 321.7L431 318.1L428 315.9L431.7 315.8zM433.9 311.2L435.1 314.7L438.9 314.8L435.9 317L437 320.6L433.9 318.5L430.9 320.6L431.9 317L429 314.8L432.7 314.7zM434.9 310.1L436.1 313.7L439.8 313.7L436.8 316L437.9 319.5L434.9 317.4L431.8 319.5L432.9 316L429.9 313.7L433.6 313.7zM435.8 309.1L437 312.6L440.7 312.7L437.8 314.9L438.9 318.5L435.8 316.3L432.8 318.5L433.8 314.9L430.9 312.7L434.6 312.6zM436.7 308L437.9 311.5L441.7 311.6L438.7 313.8L439.8 317.4L436.7 315.3L433.7 317.4L434.8 313.8L431.8 311.6L435.5 311.5zM437.6 306.9L438.9 310.4L442.6 310.5L439.6 312.7L440.7 316.3L437.6 314.2L434.6 316.3L435.7 312.7L432.7 310.5L436.4 310.4zM438.6 305.8L439.8 309.3L443.5 309.4L440.5 311.6L441.6 315.2L438.6 313.1L435.5 315.2L436.6 311.6L433.6 309.4L437.3 309.3zM439.5 304.7L440.7 308.2L444.4 308.3L441.4 310.6L442.5 314.1L439.5 312L436.4 314.1L437.5 310.6L434.5 308.3L438.2 308.2zM440.3 303.6L441.6 307.2L445.3 307.2L442.3 309.5L443.4 313L440.3 310.9L437.3 313L438.4 309.5L435.4 307.2L439.1 307.2zM441.2 302.6L442.4 306.1L446.2 306.2L443.2 308.4L444.3 312L441.2 309.8L438.2 312L439.3 308.4L436.3 306.2L440 306.1zM442.1 301.5L443.3 305L447 305.1L444.1 307.3L445.1 310.9L442.1 308.8L439 310.9L440.1 307.3L437.2 305.1L440.9 305zM443 300.4L444.2 303.9L447.9 304L444.9 306.3L446 309.8L443 307.7L439.9 309.8L441 306.3L438 304L441.7 303.9zM443.8 299.4L445 302.9L448.7 303L445.8 305.2L446.9 308.8L443.8 306.6L440.8 308.8L441.8 305.2L438.9 303L442.6 302.9zM444.7 298.3L445.9 301.8L449.6 301.9L446.6 304.1L447.7 307.7L444.7 305.6L441.6 307.7L442.7 304.1L439.7 301.9L443.4 301.8zM445.5 297.3L446.7 300.8L450.4 300.9L447.5 303.1L448.5 306.7L445.5 304.5L442.5 306.7L443.5 303.1L440.6 300.9L444.3 300.8zM446.3 296.3L447.6 299.8L451.3 299.8L448.3 302.1L449.4 305.6L446.3 303.5L443.3 305.6L444.4 302.1L441.4 299.8L445.1 299.8zM447.2 295.2L448.4 298.8L452.1 298.8L449.1 301.1L450.2 304.6L447.2 302.5L444.1 304.6L445.2 301.1L442.2 298.8L445.9 298.8zM448 294.3L449.2 297.8L452.9 297.8L449.9 300.1L451 303.6L448 301.5L444.9 303.6L446 300.1L443 297.8L446.7 297.8zM448.8 293.3L450 296.8L453.7 296.9L450.7 299.1L451.8 302.7L448.8 300.5L445.7 302.7L446.8 299.1L443.8 296.9L447.6 296.8zM449.6 292.3L450.8 295.8L454.5 295.9L451.5 298.1L452.6 301.7L449.6 299.6L446.5 301.7L447.6 298.1L444.6 295.9L448.4 295.8zM450.4 291.4L451.6 294.9L455.3 295L452.3 297.2L453.4 300.8L450.4 298.6L447.3 300.8L448.4 297.2L445.4 295L449.1 294.9zM451.2 290.4L452.4 294L456.1 294L453.1 296.3L454.2 299.8L451.2 297.7L448.1 299.8L449.2 296.3L446.2 294L449.9 294zM451.9 289.5L453.2 293L456.9 293.1L453.9 295.3L455 298.9L451.9 296.8L448.9 298.9L450 295.3L447 293.1L450.7 293zM452.7 288.6L453.9 292.1L457.6 292.2L454.7 294.4L455.8 298L452.7 295.9L449.7 298L450.7 294.4L447.8 292.2L451.5 292.1zM453.5 287.7L454.7 291.2L458.4 291.3L455.4 293.5L456.5 297.1L453.5 295L450.4 297.1L451.5 293.5L448.5 291.3L452.2 291.2zM454.2 286.8L455.4 290.3L459.2 290.4L456.2 292.6L457.3 296.2L454.2 294.1L451.2 296.2L452.3 292.6L449.3 290.4L453 290.3zM455 285.9L456.2 289.4L459.9 289.5L457 291.7L458 295.3L455 293.2L451.9 295.3L453 291.7L450 289.5L453.8 289.4zM455.7 285L456.9 288.5L460.7 288.6L457.7 290.8L458.8 294.4L455.7 292.3L452.7 294.4L453.7 290.8L450.8 288.6L454.5 288.5zM456.5 284.1L457.7 287.6L461.4 287.7L458.4 290L459.5 293.5L456.5 291.4L453.4 293.5L454.5 290L451.5 287.7L455.2 287.6zM457.2 283.2L458.4 286.8L462.1 286.8L459.2 289.1L460.2 292.6L457.2 290.5L454.1 292.6L455.2 289.1L452.3 286.8L456 286.8zM457.9 282.4L459.1 285.9L462.9 286L459.9 288.2L461 291.8L457.9 289.6L454.9 291.8L455.9 288.2L453 286L456.7 285.9zM458.6 281.5L459.9 285L463.6 285.1L460.6 287.3L461.7 290.9L458.6 288.8L455.6 290.9L456.7 287.3L453.7 285.1L457.4 285zM459.4 280.6L460.6 284.1L464.3 284.2L461.3 286.5L462.4 290L459.4 287.9L456.3 290L457.4 286.5L454.4 284.2L458.1 284.1zM460.1 279.8L461.3 283.3L465 283.4L462 285.6L463.1 289.2L460.1 287L457 289.2L458.1 285.6L455.1 283.4L458.8 283.3zM460.8 278.9L462 282.4L465.7 282.5L462.7 284.7L463.8 288.3L460.8 286.2L457.7 288.3L458.8 284.7L455.8 282.5L459.5 282.4zM461.5 278.1L462.7 281.6L466.4 281.6L463.4 283.9L464.5 287.4L461.5 285.3L458.4 287.4L459.5 283.9L456.5 281.6L460.2 281.6zM462.2 277.2L463.4 280.7L467.1 280.8L464.1 283L465.2 286.6L462.2 284.5L459.1 286.6L460.2 283L457.2 280.8L460.9 280.7zM462.8 276.4L464.1 279.9L467.8 279.9L464.8 282.2L465.9 285.7L462.8 283.6L459.8 285.7L460.9 282.2L457.9 279.9L461.6 279.9zM463.5 275.5L464.7 279L468.5 279.1L465.5 281.3L466.6 284.9L463.5 282.8L460.5 284.9L461.6 281.3L458.6 279.1L462.3 279zM464.2 274.7L465.4 278.2L469.1 278.2L466.2 280.5L467.2 284L464.2 281.9L461.2 284L462.2 280.5L459.3 278.2L463 278.2zM464.9 273.8L466.1 277.3L469.8 277.4L466.8 279.6L467.9 283.2L464.9 281.1L461.8 283.2L462.9 279.6L459.9 277.4L463.7 277.3zM465.5 273L466.8 276.5L470.5 276.6L467.5 278.8L468.6 282.4L465.5 280.2L462.5 282.4L463.6 278.8L460.6 276.6L464.3 276.5zM466.2 272.1L467.4 275.6L471.1 275.7L468.2 278L469.2 281.5L466.2 279.4L463.1 281.5L464.2 278L461.3 275.7L465 275.6zM466.9 271.3L468.1 274.8L471.8 274.9L468.8 277.1L469.9 280.7L466.9 278.5L463.8 280.7L464.9 277.1L461.9 274.9L465.6 274.8zM467.5 270.4L468.7 273.9L472.4 274L469.5 276.3L470.6 279.8L467.5 277.7L464.5 279.8L465.5 276.3L462.6 274L466.3 273.9zM468.1 269.6L469.4 273.1L473.1 273.2L470.1 275.4L471.2 279L468.1 276.9L465.1 279L466.2 275.4L463.2 273.2L466.9 273.1zM468.8 268.7L470 272.3L473.7 272.3L470.8 274.6L471.8 278.1L468.8 276L465.7 278.1L466.8 274.6L463.9 272.3L467.6 272.3zM469.4 267.9L470.6 271.4L474.4 271.5L471.4 273.7L472.5 277.3L469.4 275.2L466.4 277.3L467.5 273.7L464.5 271.5L468.2 271.4zM470.1 267.1L471.3 270.6L475 270.6L472 272.9L473.1 276.4L470.1 274.3L467 276.4L468.1 272.9L465.1 270.6L468.8 270.6zM470.7 266.2L471.9 269.7L475.6 269.8L472.7 272L473.7 275.6L470.7 273.5L467.6 275.6L468.7 272L465.7 269.8L469.5 269.7zM471.3 265.4L472.5 268.9L476.2 269L473.3 271.2L474.4 274.8L471.3 272.6L468.3 274.8L469.3 271.2L466.4 269L470.1 268.9zM471.9 264.5L473.1 268L476.9 268.1L473.9 270.4L475 273.9L471.9 271.8L468.9 273.9L470 270.4L467 268.1L470.7 268zM472.5 263.7L473.8 267.2L477.5 267.3L474.5 269.5L475.6 273.1L472.5 270.9L469.5 273.1L470.6 269.5L467.6 267.3L471.3 267.2zM473.1 262.8L474.4 266.3L478.1 266.4L475.1 268.7L476.2 272.2L473.1 270.1L470.1 272.2L471.2 268.7L468.2 266.4L471.9 266.3zM473.8 262L475 265.5L478.7 265.6L475.7 267.8L476.8 271.4L473.8 269.2L470.7 271.4L471.8 267.8L468.8 265.6L472.5 265.5zM474.4 261.1L475.6 264.6L479.3 264.7L476.3 267L477.4 270.5L474.4 268.4L471.3 270.5L472.4 267L469.4 264.7L473.1 264.6zM475 260.3L476.2 263.8L479.9 263.9L476.9 266.1L478 269.7L475 267.5L471.9 269.7L473 266.1L470 263.9L473.7 263.8zM475.5 259.4L476.8 262.9L480.5 263L477.5 265.3L478.6 268.8L475.5 266.7L472.5 268.8L473.6 265.3L470.6 263L474.3 262.9zM476.1 258.6L477.4 262.1L481.1 262.2L478.1 264.4L479.2 268L476.1 265.8L473.1 268L474.2 264.4L471.2 262.2L474.9 262.1zM476.7 257.7L477.9 261.2L481.7 261.3L478.7 263.6L479.8 267.1L476.7 265L473.7 267.1L474.7 263.6L471.8 261.3L475.5 261.2zM477.3 256.9L478.5 260.4L482.2 260.5L479.3 262.7L480.3 266.3L477.3 264.1L474.2 266.3L475.3 262.7L472.4 260.5L476.1 260.4zM477.9 256L479.1 259.5L482.8 259.6L479.8 261.9L480.9 265.4L477.9 263.3L474.8 265.4L475.9 261.9L472.9 259.6L476.7 259.5zM478.4 255.2L479.7 258.7L483.4 258.8L480.4 261L481.5 264.6L478.4 262.4L475.4 264.6L476.5 261L473.5 258.8L477.2 258.7zM479 254.3L480.2 257.8L484 257.9L481 260.2L482.1 263.7L479 261.6L476 263.7L477 260.2L474.1 257.9L477.8 257.8zM479.6 253.5L480.8 257L484.5 257.1L481.6 259.3L482.6 262.9L479.6 260.7L476.5 262.9L477.6 259.3L474.7 257.1L478.4 257zM480.1 252.6L481.4 256.1L485.1 256.2L482.1 258.5L483.2 262L480.1 259.9L477.1 262L478.2 258.5L475.2 256.2L478.9 256.1zM480.7 251.8L481.9 255.3L485.6 255.4L482.7 257.6L483.8 261.2L480.7 259.1L477.7 261.2L478.7 257.6L475.8 255.4L479.5 255.3zM481.3 250.9L482.5 254.5L486.2 254.5L483.2 256.8L484.3 260.3L481.3 258.2L478.2 260.3L479.3 256.8L476.3 254.5L480 254.5zM481.8 250.1L483 253.6L486.7 253.7L483.8 255.9L484.9 259.5L481.8 257.4L478.8 259.5L479.8 255.9L476.9 253.7L480.6 253.6zM482.4 249.3L483.6 252.8L487.3 252.8L484.3 255.1L485.4 258.6L482.4 256.5L479.3 258.6L480.4 255.1L477.4 252.8L481.1 252.8zM482.9 248.4L484.1 251.9L487.8 252L484.9 254.2L486 257.8L482.9 255.7L479.9 257.8L480.9 254.2L478 252L481.7 251.9zM483.4 247.6L484.7 251.1L488.4 251.1L485.4 253.4L486.5 256.9L483.4 254.8L480.4 256.9L481.5 253.4L478.5 251.1L482.2 251.1zM484 246.7L485.2 250.2L488.9 250.3L486 252.5L487 256.1L484 254L480.9 256.1L482 252.5L479.1 250.3L482.8 250.2zM484.5 245.9L485.7 249.4L489.5 249.5L486.5 251.7L487.6 255.3L484.5 253.1L481.5 255.3L482.5 251.7L479.6 249.5L483.3 249.4zM485.1 245L486.3 248.5L490 248.6L487 250.9L488.1 254.4L485.1 252.3L482 254.4L483.1 250.9L480.1 248.6L483.8 248.5zM485.6 244.2L486.8 247.7L490.5 247.8L487.6 250L488.6 253.6L485.6 251.4L482.5 253.6L483.6 250L480.6 247.8L484.4 247.7zM486.1 243.3L487.3 246.8L491 246.9L488.1 249.2L489.2 252.7L486.1 250.6L483.1 252.7L484.1 249.2L481.2 246.9L484.9 246.8zM486.6 242.5L487.8 246L491.6 246.1L488.6 248.3L489.7 251.9L486.6 249.7L483.6 251.9L484.7 248.3L481.7 246.1L485.4 246zM487.1 241.6L488.4 245.1L492.1 245.2L489.1 247.5L490.2 251L487.1 248.9L484.1 251L485.2 247.5L482.2 245.2L485.9 245.1zM487.7 240.8L488.9 244.3L492.6 244.4L489.6 246.6L490.7 250.2L487.7 248.1L484.6 250.2L485.7 246.6L482.7 244.4L486.4 244.3zM488.2 239.9L489.4 243.5L493.1 243.5L490.1 245.8L491.2 249.3L488.2 247.2L485.1 249.3L486.2 245.8L483.2 243.5L487 243.5zM488.7 239.1L489.9 242.6L493.6 242.7L490.7 244.9L491.7 248.5L488.7 246.4L485.6 248.5L486.7 244.9L483.7 242.7L487.5 242.6zM489.2 238.3L490.4 241.8L494.1 241.8L491.2 244.1L492.2 247.6L489.2 245.5L486.1 247.6L487.2 244.1L484.3 241.8L488 241.8zM489.7 237.4L490.9 240.9L494.6 241L491.7 243.2L492.7 246.8L489.7 244.7L486.6 246.8L487.7 243.2L484.8 241L488.5 240.9zM490.2 236.6L491.4 240.1L495.1 240.1L492.2 242.4L493.2 245.9L490.2 243.8L487.1 245.9L488.2 242.4L485.3 240.1L489 240.1zM490.7 235.7L491.9 239.2L495.6 239.3L492.7 241.5L493.7 245.1L490.7 243L487.6 245.1L488.7 241.5L485.8 239.3L489.5 239.2zM491.2 234.9L492.4 238.4L496.1 238.4L493.2 240.7L494.2 244.2L491.2 242.1L488.1 244.2L489.2 240.7L486.3 238.4L490 238.4zM491.7 234L492.9 237.5L496.6 237.6L493.7 239.8L494.7 243.4L491.7 241.3L488.6 243.4L489.7 239.8L486.7 237.6L490.5 237.5zM492.2 233.2L493.4 236.7L497.1 236.7L494.1 239L495.2 242.5L492.2 240.4L489.1 242.5L490.2 239L487.2 236.7L491 236.7zM492.7 232.3L493.9 235.8L497.6 235.9L494.6 238.1L495.7 241.7L492.7 239.6L489.6 241.7L490.7 238.1L487.7 235.9L491.4 235.8zM493.1 231.5L494.4 235L498.1 235L495.1 237.3L496.2 240.8L493.1 238.7L490.1 240.8L491.2 237.3L488.2 235L491.9 235zM493.6 230.6L494.8 234.1L498.6 234.2L495.6 236.4L496.7 240L493.6 237.9L490.6 240L491.6 236.4L488.7 234.2L492.4 234.1zM494.1 229.8L495.3 233.3L499 233.3L496.1 235.6L497.2 239.1L494.1 237L491.1 239.1L492.1 235.6L489.2 233.3L492.9 233.3zM494.6 228.9L495.8 232.4L499.5 232.5L496.6 234.7L497.6 238.3L494.6 236.2L491.5 238.3L492.6 234.7L489.6 232.5L493.4 232.4zM495.1 228.1L496.3 231.6L500 231.6L497 233.9L498.1 237.4L495.1 235.3L492 237.4L493.1 233.9L490.1 231.6L493.8 231.6zM495.5 227.2L496.7 230.7L500.5 230.8L497.5 233L498.6 236.6L495.5 234.5L492.5 236.6L493.5 233L490.6 230.8L494.3 230.7zM496 226.3L497.2 229.9L500.9 229.9L498 232.2L499 235.7L496 233.6L492.9 235.7L494 232.2L491.1 229.9L494.8 229.9zM496.5 225.5L497.7 229L501.4 229.1L498.4 231.3L499.5 234.9L496.5 232.7L493.4 234.9L494.5 231.3L491.5 229.1L495.2 229zM496.9 224.6L498.1 228.1L501.9 228.2L498.9 230.5L500 234L496.9 231.9L493.9 234L494.9 230.5L492 228.2L495.7 228.1zM497.4 223.8L498.6 227.3L502.3 227.4L499.4 229.6L500.4 233.2L497.4 231L494.3 233.2L495.4 229.6L492.4 227.4L496.2 227.3zM497.8 222.9L499.1 226.4L502.8 226.5L499.8 228.7L500.9 232.3L497.8 230.2L494.8 232.3L495.9 228.7L492.9 226.5L496.6 226.4zM498.3 222.1L499.5 225.6L503.2 225.6L500.3 227.9L501.3 231.4L498.3 229.3L495.2 231.4L496.3 227.9L493.4 225.6L497.1 225.6zM498.8 221.2L500 224.7L503.7 224.8L500.7 227L501.8 230.6L498.8 228.5L495.7 230.6L496.8 227L493.8 224.8L497.5 224.7zM499.2 220.3L500.4 223.9L504.1 223.9L501.2 226.2L502.3 229.7L499.2 227.6L496.2 229.7L497.2 226.2L494.3 223.9L498 223.9zM499.7 219.5L500.9 223L504.6 223.1L501.6 225.3L502.7 228.9L499.7 226.7L496.6 228.9L497.7 225.3L494.7 223.1L498.4 223zM500.1 218.6L501.3 222.1L505 222.2L502.1 224.5L503.1 228L500.1 225.9L497 228L498.1 224.5L495.2 222.2L498.9 222.1zM500.5 217.7L501.8 221.2L505.5 221.3L502.5 223.6L503.6 227.1L500.5 225L497.5 227.1L498.6 223.6L495.6 221.3L499.3 221.2zM501 216.8L502.2 220.3L505.9 220.4L503 222.6L504 226.2L501 224.1L497.9 226.2L499 222.6L496.1 220.4L499.8 220.3zM501.4 215.8L502.6 219.3L506.4 219.4L503.4 221.7L504.5 225.2L501.4 223.1L498.4 225.2L499.5 221.7L496.5 219.4L500.2 219.3zM501.9 214.8L503.1 218.4L506.8 218.4L503.8 220.7L504.9 224.2L501.9 222.1L498.8 224.2L499.9 220.7L496.9 218.4L500.6 218.4zM502.3 213.8L503.5 217.3L507.2 217.4L504.3 219.7L505.3 223.2L502.3 221.1L499.2 223.2L500.3 219.7L497.4 217.4L501.1 217.3zM502.7 212.8L504 216.3L507.7 216.4L504.7 218.6L505.8 222.2L502.7 220.1L499.7 222.2L500.8 218.6L497.8 216.4L501.5 216.3zM503.2 211.8L504.4 215.3L508.1 215.3L505.1 217.6L506.2 221.1L503.2 219L500.1 221.1L501.2 217.6L498.2 215.3L501.9 215.3zM503.6 210.7L504.8 214.2L508.5 214.3L505.6 216.5L506.6 220.1L503.6 218L500.5 220.1L501.6 216.5L498.7 214.3L502.4 214.2zM504 209.7L505.2 213.2L509 213.3L506 215.5L507.1 219.1L504 216.9L501 219.1L502 215.5L499.1 213.3L502.8 213.2zM504.4 208.6L505.7 212.1L509.4 212.2L506.4 214.4L507.5 218L504.4 215.9L501.4 218L502.5 214.4L499.5 212.2L503.2 212.1zM504.9 207.6L506.1 211.1L509.8 211.2L506.8 213.4L507.9 217L504.9 214.8L501.8 217L502.9 213.4L499.9 211.2L503.6 211.1zM505.3 206.6L506.5 210.1L510.2 210.1L507.3 212.4L508.3 215.9L505.3 213.8L502.2 215.9L503.3 212.4L500.4 210.1L504.1 210.1zM505.7 205.5L506.9 209L510.6 209.1L507.7 211.4L508.8 214.9L505.7 212.8L502.7 214.9L503.7 211.4L500.8 209.1L504.5 209zM506.1 204.5L507.3 208.1L511.1 208.1L508.1 210.4L509.2 213.9L506.1 211.8L503.1 213.9L504.2 210.4L501.2 208.1L504.9 208.1zM506.5 203.6L507.8 207.1L511.5 207.2L508.5 209.4L509.6 213L506.5 210.8L503.5 213L504.6 209.4L501.6 207.2L505.3 207.1zM507 202.6L508.2 206.1L511.9 206.2L508.9 208.5L510 212L507 209.9L503.9 212L505 208.5L502 206.2L505.7 206.1zM507.4 201.7L508.6 205.2L512.3 205.3L509.3 207.6L510.4 211.1L507.4 209L504.3 211.1L505.4 207.6L502.4 205.3L506.1 205.2zM507.8 200.9L509 204.4L512.7 204.4L509.7 206.7L510.8 210.2L507.8 208.1L504.7 210.2L505.8 206.7L502.8 204.4L506.6 204.4zM508.2 200L509.4 203.5L513.1 203.6L510.2 205.8L511.2 209.4L508.2 207.3L505.1 209.4L506.2 205.8L503.2 203.6L507 203.5zM508.6 199.2L509.8 202.7L513.5 202.8L510.6 205.1L511.6 208.6L508.6 206.5L505.5 208.6L506.6 205.1L503.7 202.8L507.4 202.7zM509 198.5L510.2 202L513.9 202.1L511 204.3L512 207.9L509 205.7L505.9 207.9L507 204.3L504.1 202.1L507.8 202zM509.8 197.1L511 200.6L514.7 200.7L511.8 203L512.8 206.5L509.8 204.4L506.7 206.5L507.8 203L504.9 200.7L508.6 200.6zM510.6 196L511.8 199.5L515.5 199.6L512.6 201.8L513.6 205.4L510.6 203.2L507.5 205.4L508.6 201.8L505.7 199.6L509.4 199.5zM511.4 194.9L512.6 198.4L516.3 198.5L513.3 200.8L514.4 204.3L511.4 202.2L508.3 204.3L509.4 200.8L506.4 198.5L510.2 198.4zM512.2 194L513.4 197.5L517.1 197.6L514.1 199.8L515.2 203.4L512.2 201.3L509.1 203.4L510.2 199.8L507.2 197.6L510.9 197.5zM512.9 193.1L514.1 196.7L517.9 196.7L514.9 199L516 202.5L512.9 200.4L509.9 202.5L511 199L508 196.7L511.7 196.7zM513.7 192.3L514.9 195.8L518.6 195.9L515.7 198.2L516.7 201.7L513.7 199.6L510.6 201.7L511.7 198.2L508.8 195.9L512.5 195.8zM514.4 191.6L515.7 195.1L519.4 195.2L516.4 197.4L517.5 201L514.4 198.8L511.4 201L512.5 197.4L509.5 195.2L513.2 195.1zM515.2 190.8L516.4 194.4L520.1 194.4L517.2 196.7L518.3 200.2L515.2 198.1L512.2 200.2L513.2 196.7L510.3 194.4L514 194.4zM515.9 190.1L517.2 193.6L520.9 193.7L517.9 195.9L519 199.5L515.9 197.4L512.9 199.5L514 195.9L511 193.7L514.7 193.6zM516.7 189.4L517.9 192.9L521.6 193L518.7 195.2L519.7 198.8L516.7 196.7L513.6 198.8L514.7 195.2L511.8 193L515.5 192.9zM517.4 188.6L518.6 192.2L522.4 192.2L519.4 194.5L520.5 198L517.4 195.9L514.4 198L515.4 194.5L512.5 192.2L516.2 192.2zM518.2 187.9L519.4 191.4L523.1 191.4L520.1 193.7L521.2 197.2L518.2 195.1L515.1 197.2L516.2 193.7L513.2 191.4L516.9 191.4zM518.9 187L520.1 190.5L523.8 190.6L520.8 192.9L521.9 196.4L518.9 194.3L515.8 196.4L516.9 192.9L513.9 190.6L517.7 190.5zM519.6 186.2L520.8 189.7L524.5 189.7L521.6 192L522.6 195.5L519.6 193.4L516.5 195.5L517.6 192L514.7 189.7L518.4 189.7zM520.3 185.2L521.5 188.7L525.2 188.8L522.3 191L523.3 194.6L520.3 192.5L517.2 194.6L518.3 191L515.4 188.8L519.1 188.7zM521 184.2L522.2 187.7L525.9 187.8L523 190L524.1 193.6L521 191.4L518 193.6L519 190L516.1 187.8L519.8 187.7zM521.7 183.1L522.9 186.6L526.6 186.7L523.7 188.9L524.7 192.5L521.7 190.4L518.7 192.5L519.7 188.9L516.8 186.7L520.5 186.6zM522.4 182L523.6 185.5L527.3 185.6L524.4 187.8L525.4 191.4L522.4 189.2L519.3 191.4L520.4 187.8L517.5 185.6L521.2 185.5zM523.1 180.8L524.3 184.3L528 184.4L525.1 186.6L526.1 190.2L523.1 188L520 190.2L521.1 186.6L518.1 184.4L521.9 184.3zM523.8 179.6L525 183.1L528.7 183.2L525.7 185.4L526.8 189L523.8 186.8L520.7 189L521.8 185.4L518.8 183.2L522.5 183.1zM524.4 178.3L525.7 181.8L529.4 181.9L526.4 184.2L527.5 187.7L524.4 185.6L521.4 187.7L522.5 184.2L519.5 181.9L523.2 181.8zM525.1 177.1L526.3 180.6L530 180.6L527.1 182.9L528.2 186.4L525.1 184.3L522.1 186.4L523.1 182.9L520.2 180.6L523.9 180.6zM525.8 175.8L527 179.3L530.7 179.4L527.8 181.6L528.8 185.2L525.8 183L522.7 185.2L523.8 181.6L520.8 179.4L524.6 179.3zM526.4 174.5L527.7 178L531.4 178.1L528.4 180.3L529.5 183.9L526.4 181.8L523.4 183.9L524.5 180.3L521.5 178.1L525.2 178zM527.1 173.2L528.3 176.7L532 176.8L529.1 179L530.1 182.6L527.1 180.5L524 182.6L525.1 179L522.2 176.8L525.9 176.7zM527.7 171.9L529 175.4L532.7 175.5L529.7 177.8L530.8 181.3L527.7 179.2L524.7 181.3L525.8 177.8L522.8 175.5L526.5 175.4zM528.4 170.7L529.6 174.2L533.3 174.3L530.4 176.5L531.4 180.1L528.4 177.9L525.3 180.1L526.4 176.5L523.5 174.3L527.2 174.2zM529 169.4L530.3 172.9L534 173L531 175.3L532.1 178.8L529 176.7L526 178.8L527.1 175.3L524.1 173L527.8 172.9zM529.7 168.2L530.9 171.7L534.6 171.8L531.6 174L532.7 177.6L529.7 175.5L526.6 177.6L527.7 174L524.7 171.8L528.5 171.7zM530.3 167L531.5 170.5L535.2 170.6L532.3 172.8L533.4 176.4L530.3 174.3L527.3 176.4L528.3 172.8L525.4 170.6L529.1 170.5zM530.9 165.8L532.2 169.4L535.9 169.4L532.9 171.7L534 175.2L530.9 173.1L527.9 175.2L529 171.7L526 169.4L529.7 169.4zM531.6 164.7L532.8 168.2L536.5 168.3L533.5 170.6L534.6 174.1L531.6 172L528.5 174.1L529.6 170.6L526.6 168.3L530.3 168.2zM532.2 163.6L533.4 167.2L537.1 167.2L534.1 169.5L535.2 173L532.2 170.9L529.1 173L530.2 169.5L527.2 167.2L531 167.2zM532.8 162.6L534 166.1L537.7 166.2L534.8 168.4L535.8 172L532.8 169.9L529.7 172L530.8 168.4L527.9 166.2L531.6 166.1zM533.4 161.6L534.6 165.1L538.3 165.2L535.4 167.5L536.5 171L533.4 168.9L530.4 171L531.4 167.5L528.5 165.2L532.2 165.1zM534 160.7L535.2 164.2L538.9 164.3L536 166.5L537.1 170.1L534 168L531 170.1L532 166.5L529.1 164.3L532.8 164.2zM534.6 159.8L535.8 163.4L539.5 163.4L536.6 165.7L537.7 169.2L534.6 167.1L531.6 169.2L532.6 165.7L529.7 163.4L533.4 163.4zM535.2 159L536.4 162.5L540.1 162.6L537.2 164.9L538.3 168.4L535.2 166.3L532.2 168.4L533.2 164.9L530.3 162.6L534 162.5zM535.8 158.3L537 161.8L540.7 161.9L537.8 164.1L538.8 167.7L535.8 165.5L532.8 167.7L533.8 164.1L530.9 161.9L534.6 161.8zM536.4 157.5L537.6 161L541.3 161.1L538.4 163.4L539.4 166.9L536.4 164.8L533.3 166.9L534.4 163.4L531.5 161.1L535.2 161zM537 156.8L538.2 160.3L541.9 160.4L538.9 162.6L540 166.2L537 164.1L533.9 166.2L535 162.6L532 160.4L535.8 160.3zM537.8 155.8L539.1 159.3L542.8 159.4L539.8 161.6L540.9 165.2L537.8 163L534.8 165.2L535.9 161.6L532.9 159.4L536.6 159.3zM538.7 154.8L539.9 158.3L543.6 158.4L540.7 160.6L541.8 164.2L538.7 162.1L535.7 164.2L536.7 160.6L533.8 158.4L537.5 158.3zM539.6 153.9L540.8 157.4L544.5 157.4L541.5 159.7L542.6 163.2L539.6 161.1L536.5 163.2L537.6 159.7L534.6 157.4L538.3 157.4zM540.4 152.9L541.6 156.5L545.3 156.5L542.4 158.8L543.5 162.3L540.4 160.2L537.4 162.3L538.4 158.8L535.5 156.5L539.2 156.5zM541.2 152.1L542.5 155.6L546.2 155.7L543.2 157.9L544.3 161.5L541.2 159.3L538.2 161.5L539.3 157.9L536.3 155.7L540 155.6zM542.1 151.2L543.3 154.7L547 154.8L544.1 157.1L545.1 160.6L542.1 158.5L539 160.6L540.1 157.1L537.1 154.8L540.9 154.7zM542.9 150.4L544.1 153.9L547.8 154L544.9 156.2L545.9 159.8L542.9 157.7L539.9 159.8L540.9 156.2L538 154L541.7 153.9zM543.7 149.6L544.9 153.1L548.6 153.2L545.7 155.4L546.8 159L543.7 156.9L540.7 159L541.7 155.4L538.8 153.2L542.5 153.1zM544.5 148.8L545.7 152.3L549.5 152.4L546.5 154.6L547.6 158.2L544.5 156.1L541.5 158.2L542.5 154.6L539.6 152.4L543.3 152.3zM545.3 148L546.5 151.5L550.3 151.6L547.3 153.8L548.4 157.4L545.3 155.3L542.3 157.4L543.3 153.8L540.4 151.6L544.1 151.5zM546.1 147.2L547.3 150.7L551 150.8L548.1 153.1L549.2 156.6L546.1 154.5L543.1 156.6L544.1 153.1L541.2 150.8L544.9 150.7zM546.9 146.5L548.1 150L551.8 150L548.9 152.3L549.9 155.8L546.9 153.7L543.8 155.8L544.9 152.3L542 150L545.7 150zM547.7 145.7L548.9 149.2L552.6 149.3L549.6 151.5L550.7 155.1L547.7 153L544.6 155.1L545.7 151.5L542.7 149.3L546.5 149.2zM548.4 144.9L549.7 148.4L553.4 148.5L550.4 150.7L551.5 154.3L548.4 152.2L545.4 154.3L546.5 150.7L543.5 148.5L547.2 148.4zM549.2 144.1L550.4 147.6L554.1 147.7L551.2 150L552.3 153.5L549.2 151.4L546.2 153.5L547.2 150L544.3 147.7L548 147.6zM550 143.3L551.2 146.9L554.9 146.9L551.9 149.2L553 152.7L550 150.6L546.9 152.7L548 149.2L545 146.9L548.7 146.9zM550.7 142.6L551.9 146.1L555.7 146.1L552.7 148.4L553.8 151.9L550.7 149.8L547.7 151.9L548.7 148.4L545.8 146.1L549.5 146.1zM551.5 141.8L552.7 145.3L556.4 145.4L553.4 147.6L554.5 151.2L551.5 149L548.4 151.2L549.5 147.6L546.5 145.4L550.2 145.3zM552.2 141L553.4 144.5L557.1 144.6L554.2 146.8L555.3 150.4L552.2 148.3L549.2 150.4L550.2 146.8L547.3 144.6L551 144.5zM552.9 140.2L554.2 143.7L557.9 143.8L554.9 146.1L556 149.6L552.9 147.5L549.9 149.6L551 146.1L548 143.8L551.7 143.7zM553.7 139.5L554.9 143L558.6 143.1L555.6 145.3L556.7 148.9L553.7 146.7L550.6 148.9L551.7 145.3L548.7 143.1L552.4 143zM554.4 138.7L555.6 142.2L559.3 142.3L556.4 144.5L557.4 148.1L554.4 146L551.3 148.1L552.4 144.5L549.4 142.3L553.2 142.2zM555.1 138L556.3 141.5L560 141.6L557.1 143.8L558.1 147.4L555.1 145.2L552 147.4L553.1 143.8L550.2 141.6L553.9 141.5zM555.8 137.2L557 140.7L560.7 140.8L557.8 143.1L558.9 146.6L555.8 144.5L552.8 146.6L553.8 143.1L550.9 140.8L554.6 140.7zM556.5 136.5L557.7 140L561.4 140.1L558.5 142.3L559.6 145.9L556.5 143.8L553.5 145.9L554.5 142.3L551.6 140.1L555.3 140zM557.2 135.8L558.4 139.3L562.1 139.4L559.2 141.6L560.3 145.2L557.2 143L554.2 145.2L555.2 141.6L552.3 139.4L556 139.3zM557.9 135.1L559.1 138.6L562.8 138.7L559.9 140.9L560.9 144.5L557.9 142.3L554.8 144.5L555.9 140.9L553 138.7L556.7 138.6zM558.6 134.4L559.8 137.9L563.5 137.9L560.6 140.2L561.6 143.7L558.6 141.6L555.5 143.7L556.6 140.2L553.6 137.9L557.4 137.9zM559.3 133.7L560.5 137.2L564.2 137.2L561.2 139.5L562.3 143L559.3 140.9L556.2 143L557.3 139.5L554.3 137.2L558 137.2zM560.2 132.7L561.4 136.2L565.1 136.3L562.1 138.6L563.2 142.1L560.2 140L557.1 142.1L558.2 138.6L555.2 136.3L558.9 136.2zM561.1 131.8L562.3 135.3L566 135.4L563 137.6L564.1 141.2L561.1 139.1L558 141.2L559.1 137.6L556.1 135.4L559.8 135.3zM561.9 130.9L563.2 134.4L566.9 134.5L563.9 136.7L565 140.3L561.9 138.2L558.9 140.3L560 136.7L557 134.5L560.7 134.4zM562.8 130L564 133.5L567.7 133.6L564.8 135.8L565.9 139.4L562.8 137.3L559.8 139.4L560.8 135.8L557.9 133.6L561.6 133.5z" fill="#ff0000"/>
<path d="M259.9 490L266.7 465L272.9 450.2L278.8 458.7L284.3 437.5L289.4 437.5L294.3 433.2L298.9 438.2L303.3 426.9L307.5 424.7L311.4 437.5L315.2 433.9L318.9 426.1L322.4 431.1L325.7 431.8L329 430.4L332.1 420.5L335.1 419.1L338 414.2L340.9 415.3L343.6 411.7L346.2 411.6L348.8 411.5L351.3 408L353.7 406.6L356.1 403.3L358.4 403.2L360.6 403.2L362.8 402.8L364.9 402.1L367 398.7L369 396L371 396L373 398.2L374.9 393.8L376.7 394.1L378.5 395.6L380.3 390L382.1 391.8L383.8 392.3L385.5 387.5L387.1 387.8L388.7 388.4L390.3 383.5L391.9 384.4L393.4 384.6L394.9 383.3L396.4 381.4L397.8 379.1L399.3 379.6L400.7 378.1L402.1 377.7L403.4 376.1L404.8 377.5L406.1 376.2L407.4 373L408.7 373.3L409.9 370.8L411.2 370.7L412.4 369.2L413.6 369.7L414.8 367.3L416 366.7L417.2 367L418.3 364.4L419.4 365.9L420.6 362.2L421.7 362.3L422.7 360.6L423.8 359.6L424.9 359L425.9 357.8L427 356.6L428 354.8L429 354L430 354.3L431 353L432 352.4L433 351.9L433.9 350.4L434.9 348.2L435.8 347.7L436.7 347.3L437.6 345.6L438.6 346L439.5 345L440.3 343.8L441.2 342L442.1 341.7L443 339.3L443.8 338.6L444.7 337.8L445.5 337.3L446.3 335.6L447.2 333.8L448 333L448.8 331.8L449.6 330.5L450.4 328.9L451.2 328L451.9 326.6L452.7 325.8L453.5 324.4L454.2 322.4L455 320.9L455.7 320.1L456.5 318.9L457.2 317L457.9 315.8L458.6 314.7L459.4 311.4L460.1 311.7L460.8 309L461.5 307.9L462.2 307.1L462.8 305.4L463.5 302.7L464.2 302.2L464.9 299.4L465.5 298.4L466.2 297.7L466.9 295.2L467.5 293.9L468.1 292.4L468.8 290.8L469.4 288.9L470.1 285.7L470.7 284.7L471.3 283L471.9 280.5L472.5 279.7L473.1 278.1L473.8 276.8L474.4 275.2L475 271.8L475.5 270.3L476.1 269.4L476.7 266.6L477.3 265L477.9 263.9L478.4 261.4L479 260.9L479.6 259.4L480.1 256.1L480.7 255.4L481.3 254.3L481.8 253L482.4 250L482.9 248.2L483.4 248L484 246.5L484.5 243.6L485.1 242.8L485.6 242L486.1 241L486.6 238.5L487.1 238.3L487.7 237.5L488.2 235.9L488.7 234L489.2 232.7L489.7 232.2L490.2 232.2L490.7 229.7L491.2 228.6L491.7 228.4L492.2 226.9L492.7 226.1L493.1 224.9L493.6 225.1L494.1 224.5L494.6 223.1L495.1 221.7L495.5 221.2L496 220.9L496.5 220.8L496.9 220.1L497.4 217.8L497.8 216.6L498.3 217.5L498.8 216.9L499.2 215.2L499.7 215.1L500.1 214.6L500.5 213.3L501 213.2L501.4 210.8L501.9 210.6L502.3 210L502.7 209L503.2 209.9L503.6 207.5L504 208.1L504.4 206.3L504.9 206.2L505.3 205.6L505.7 204.5L506.1 204.5L506.5 203.8L507 202.7L507.4 202.8L507.8 200.9L508.2 200.2L508.6 199.8L509 199.1L509.4 198L509.8 198.7L510.2 197.8L510.6 195.7L511 195.5L511.4 194.5L511.8 194.3L512.2 193.3L512.5 193.1L512.9 193.3L513.3 191.6L513.7 191.5L514.1 190.8L514.4 190.5L514.8 188.5L515.2 189.3L515.6 189.1L515.9 187.9L516.3 186.7L516.7 186.9L517.1 186.4L517.4 185.8L517.8 184.2L518.2 185.3L518.5 184.8L518.9 183.2L519.2 183L519.6 181.4L519.9 182.8L520.3 182L520.7 181.1L521 180.9L521.4 179.3L521.7 179.1L522 178.5L522.4 178.7L522.7 177.2L523.1 178.4L523.4 177L523.8 176.5L524.1 175.4L524.4 176.1L524.8 175.9L525.1 175.1L525.4 173.9L525.8 174.5L526.1 172.8L526.4 173.7L526.8 172.8L527.1 171.7L527.4 171.7L527.7 171.5L528.1 170.4L528.4 171.1L528.7 169.8L529 170.3L529.4 169.8L529.7 167.9L530 168.6L530.3 167.5L530.6 167.9L530.9 167.1L531.2 166.5L531.6 167L531.9 164.9L532.2 165.5L532.5 164.7L532.8 163.7L533.1 164.8L533.4 164L533.7 164.3L534 163.4L534.3 162.5L534.6 163.4L534.9 161.3L535.2 160.9L535.5 161.9L535.8 160.8L536.1 160.5L536.4 161.2L536.7 159.8L537 160.6L537.3 159.8L537.6 158.8L537.8 158L538.1 158L538.4 159.2L538.7 157.8L539 157L539.3 157L539.6 157.9L539.8 156.1L540.1 157L540.4 155.5L540.7 156.8L541 155.7L541.2 154.4L541.5 155.9L541.8 154.5L542.1 155L542.4 154.3L542.6 153.2L542.9 152.9L543.2 152.8L543.4 152.5L543.7 152L544 151.8L544.3 153.3L544.5 151.3L544.8 151.9L545.1 150.9L545.3 150.8L545.6 151.7L545.8 151.8L546.1 150.6L546.4 149.4L546.6 151.1L546.9 149L547.2 149.4L547.4 149.5L547.7 150L547.9 149.6L548.2 148.9L548.4 148.2L548.7 148.9L549 148.7L549.2 148.5L549.5 147.9L549.7 146.5L550 146.6L550.2 146.8L550.5 146.6L550.7 147L551 145.6L551.2 146.2L551.5 145.4L551.7 146L552 144.6L552.2 144.9L552.4 143.9L552.7 143.9L552.9 145.2L553.2 143.7L553.4 144.6L553.7 143.7L553.9 142.5L554.1 143.8L554.4 142.1L554.6 143.4L554.9 141.6L555.1 142.7L555.3 141.5L555.6 141.6L555.8 142.6L556 141.5L556.3 141.6L556.5 141.6L556.7 140.1L557 141.4L557.2 141.3L557.4 139.6L557.7 140.2L557.9 139.5L558.1 140.2L558.4 138.6L558.6 139.3L558.8 139.7L559 139.4L559.3 137.9L559.5 139.2L559.7 137.8L559.9 138.8L560.2 137.9L560.4 137.1L560.6 138L560.8 138L561.1 137.6L561.3 138L561.5 136.3L561.7 136.1L561.9 135.8L562.2 136.4L562.4 135.9L562.6 135.6L562.8 135.7" fill="none" stroke="#ff0000" stroke-width="2.6" stroke-linejoin="round"/>
<path d="M266.7 460.7L270.8 463.7L269.2 468.5L264.2 468.5L262.6 463.7zM272.9 445.9L277 448.9L275.5 453.7L270.4 453.7L268.9 448.9zM278.8 454.4L282.9 457.4L281.3 462.2L276.3 462.2L274.7 457.4zM284.3 433.2L288.4 436.2L286.8 441L281.8 441L280.2 436.2zM289.4 433.2L293.5 436.2L292 441L286.9 441L285.4 436.2zM294.3 428.9L298.4 431.9L296.8 436.7L291.8 436.7L290.2 431.9zM298.9 433.9L303 436.9L301.4 441.7L296.4 441.7L294.8 436.9zM303.3 422.6L307.4 425.6L305.8 430.4L300.8 430.4L299.2 425.6zM307.5 420.4L311.5 423.4L310 428.2L304.9 428.2L303.4 423.4zM311.4 433.2L315.5 436.2L314 441L308.9 441L307.4 436.2zM315.2 429.6L319.3 432.6L317.8 437.4L312.7 437.4L311.2 432.6zM318.9 421.8L323 424.8L321.4 429.6L316.4 429.6L314.8 424.8zM322.4 426.8L326.5 429.8L324.9 434.6L319.9 434.6L318.3 429.8zM325.7 427.5L329.8 430.5L328.3 435.3L323.2 435.3L321.7 430.5zM329 426.1L333.1 429.1L331.5 433.9L326.5 433.9L324.9 429.1zM332.1 416.2L336.2 419.2L334.6 424L329.6 424L328 419.2zM335.1 414.8L339.2 417.8L337.6 422.6L332.6 422.6L331 417.8zM338 409.9L342.1 412.8L340.6 417.6L335.5 417.6L334 412.8zM340.9 411L344.9 413.9L343.4 418.7L338.3 418.7L336.8 413.9zM343.6 407.4L347.7 410.4L346.1 415.2L341.1 415.2L339.5 410.4zM346.2 407.4L350.3 410.3L348.8 415.1L343.7 415.1L342.2 410.3zM348.8 407.2L352.9 410.2L351.3 415L346.3 415L344.7 410.2zM351.3 403.7L355.4 406.7L353.8 411.5L348.8 411.5L347.2 406.7zM353.7 402.3L357.8 405.3L356.2 410.1L351.2 410.1L349.6 405.3zM356.1 399L360.2 402L358.6 406.8L353.6 406.8L352 402zM358.4 398.9L362.5 401.9L360.9 406.7L355.9 406.7L354.3 401.9zM360.6 398.9L364.7 401.8L363.1 406.6L358.1 406.6L356.5 401.8zM362.8 398.5L366.9 401.5L365.3 406.3L360.3 406.3L358.7 401.5zM364.9 397.8L369 400.8L367.5 405.6L362.4 405.6L360.9 400.8zM367 394.4L371.1 397.4L369.5 402.2L364.5 402.2L362.9 397.4zM369 391.7L373.1 394.6L371.6 399.4L366.5 399.4L365 394.6zM371 391.7L375.1 394.7L373.5 399.5L368.5 399.5L366.9 394.7zM373 393.9L377 396.8L375.5 401.6L370.4 401.6L368.9 396.8zM374.9 389.5L378.9 392.5L377.4 397.3L372.3 397.3L370.8 392.5zM376.7 389.8L380.8 392.8L379.2 397.6L374.2 397.6L372.6 392.8zM378.5 391.3L382.6 394.2L381.1 399L376 399L374.5 394.2zM380.3 385.7L384.4 388.7L382.8 393.5L377.8 393.5L376.2 388.7zM382.1 387.5L386.1 390.5L384.6 395.3L379.5 395.3L378 390.5zM383.8 388L387.9 391L386.3 395.8L381.3 395.8L379.7 391zM385.5 383.2L389.5 386.1L388 390.9L382.9 390.9L381.4 386.1zM387.1 383.5L391.2 386.5L389.6 391.3L384.6 391.3L383 386.5zM388.7 384.1L392.8 387.1L391.2 391.9L386.2 391.9L384.6 387.1zM390.3 379.2L394.4 382.1L392.8 386.9L387.8 386.9L386.2 382.1zM391.9 380.1L395.9 383.1L394.4 387.9L389.3 387.9L387.8 383.1zM393.4 380.3L397.5 383.3L395.9 388.1L390.9 388.1L389.3 383.3zM394.9 379L399 381.9L397.4 386.7L392.4 386.7L390.8 381.9zM396.4 377.1L400.5 380L398.9 384.8L393.9 384.8L392.3 380zM397.8 374.9L401.9 377.8L400.4 382.6L395.3 382.6L393.8 377.8zM399.3 375.4L403.3 378.3L401.8 383.1L396.7 383.1L395.2 378.3zM400.7 373.8L404.8 376.8L403.2 381.6L398.1 381.6L396.6 376.8zM402.1 373.4L406.1 376.3L404.6 381.1L399.5 381.1L398 376.3zM403.4 371.8L407.5 374.8L405.9 379.6L400.9 379.6L399.3 374.8zM404.8 373.2L408.8 376.2L407.3 381L402.2 381L400.7 376.2zM406.1 371.9L410.2 374.9L408.6 379.7L403.6 379.7L402 374.9zM407.4 368.7L411.5 371.6L409.9 376.4L404.9 376.4L403.3 371.6zM408.7 369L412.7 371.9L411.2 376.7L406.1 376.7L404.6 371.9zM409.9 366.5L414 369.5L412.5 374.3L407.4 374.3L405.9 369.5zM411.2 366.4L415.3 369.4L413.7 374.2L408.7 374.2L407.1 369.4zM412.4 364.9L416.5 367.9L414.9 372.7L409.9 372.7L408.3 367.9zM413.6 365.4L417.7 368.4L416.1 373.2L411.1 373.2L409.5 368.4zM414.8 363L418.9 366L417.3 370.8L412.3 370.8L410.7 366zM416 362.4L420.1 365.4L418.5 370.2L413.5 370.2L411.9 365.4zM417.2 362.7L421.2 365.7L419.7 370.5L414.6 370.5L413.1 365.7zM418.3 360.2L422.4 363.1L420.8 367.9L415.8 367.9L414.2 363.1zM419.4 361.6L423.5 364.6L422 369.4L416.9 369.4L415.4 364.6zM420.6 357.9L424.6 360.9L423.1 365.7L418 365.7L416.5 360.9zM421.7 358L425.7 361L424.2 365.8L419.1 365.8L417.6 361zM422.7 356.3L426.8 359.3L425.3 364.1L420.2 364.1L418.7 359.3zM423.8 355.3L427.9 358.3L426.3 363.1L421.3 363.1L419.7 358.3zM424.9 354.8L429 357.7L427.4 362.5L422.4 362.5L420.8 357.7zM425.9 353.5L430 356.5L428.5 361.3L423.4 361.3L421.9 356.5zM427 352.3L431.1 355.3L429.5 360.1L424.5 360.1L422.9 355.3zM428 350.5L432.1 353.5L430.5 358.3L425.5 358.3L423.9 353.5zM429 349.8L433.1 352.7L431.5 357.5L426.5 357.5L424.9 352.7zM430 350L434.1 353L432.5 357.8L427.5 357.8L425.9 353zM431 348.7L435.1 351.7L433.5 356.5L428.5 356.5L426.9 351.7zM432 348.1L436.1 351.1L434.5 355.8L429.5 355.8L427.9 351.1zM433 347.6L437 350.6L435.5 355.4L430.4 355.4L428.9 350.6zM433.9 346.1L438 349.1L436.4 353.9L431.4 353.9L429.8 349.1zM434.9 343.9L438.9 346.9L437.4 351.7L432.3 351.7L430.8 346.9zM435.8 343.4L439.9 346.4L438.3 351.2L433.3 351.2L431.7 346.4zM436.7 343L440.8 346L439.3 350.8L434.2 350.8L432.6 346zM437.6 341.3L441.7 344.3L440.2 349.1L435.1 349.1L433.6 344.3zM438.6 341.7L442.6 344.7L441.1 349.5L436 349.5L434.5 344.7zM439.5 340.7L443.5 343.7L442 348.5L436.9 348.5L435.4 343.7zM440.3 339.5L444.4 342.4L442.9 347.2L437.8 347.2L436.3 342.4zM441.2 337.7L445.3 340.7L443.7 345.5L438.7 345.5L437.1 340.7zM442.1 337.4L446.2 340.4L444.6 345.2L439.6 345.2L438 340.4zM443 335L447 337.9L445.5 342.7L440.4 342.7L438.9 337.9zM443.8 334.3L447.9 337.2L446.3 342L441.3 342L439.7 337.2zM444.7 333.5L448.7 336.5L447.2 341.3L442.1 341.3L440.6 336.5zM445.5 333L449.6 335.9L448 340.7L443 340.7L441.4 335.9zM446.3 331.3L450.4 334.3L448.9 339.1L443.8 339.1L442.3 334.3zM447.2 329.5L451.2 332.5L449.7 337.3L444.6 337.3L443.1 332.5zM448 328.7L452 331.7L450.5 336.5L445.4 336.5L443.9 331.7zM448.8 327.5L452.9 330.5L451.3 335.3L446.3 335.3L444.7 330.5zM449.6 326.2L453.7 329.1L452.1 333.9L447.1 333.9L445.5 329.1zM450.4 324.6L454.4 327.5L452.9 332.3L447.8 332.3L446.3 327.5zM451.2 323.7L455.2 326.6L453.7 331.4L448.6 331.4L447.1 326.6zM451.9 322.3L456 325.3L454.5 330.1L449.4 330.1L447.9 325.3zM452.7 321.6L456.8 324.5L455.2 329.3L450.2 329.3L448.6 324.5zM453.5 320.1L457.5 323.1L456 327.9L450.9 327.9L449.4 323.1zM454.2 318.2L458.3 321.1L456.7 325.9L451.7 325.9L450.1 321.1zM455 316.6L459.1 319.6L457.5 324.4L452.5 324.4L450.9 319.6zM455.7 315.8L459.8 318.8L458.2 323.6L453.2 323.6L451.6 318.8zM456.5 314.6L460.5 317.6L459 322.3L453.9 322.3L452.4 317.6zM457.2 312.7L461.3 315.7L459.7 320.5L454.7 320.5L453.1 315.7zM457.9 311.6L462 314.5L460.4 319.3L455.4 319.3L453.8 314.5zM458.6 310.4L462.7 313.4L461.2 318.1L456.1 318.1L454.6 313.4zM459.4 307.1L463.4 310.1L461.9 314.9L456.8 314.9L455.3 310.1zM460.1 307.4L464.1 310.3L462.6 315.1L457.5 315.1L456 310.3zM460.8 304.7L464.8 307.7L463.3 312.5L458.2 312.5L456.7 307.7zM461.5 303.6L465.5 306.6L464 311.4L458.9 311.4L457.4 306.6zM462.2 302.8L466.2 305.7L464.7 310.5L459.6 310.5L458.1 305.7zM462.8 301.1L466.9 304.1L465.4 308.9L460.3 308.9L458.8 304.1zM463.5 298.4L467.6 301.4L466 306.2L461 306.2L459.4 301.4zM464.9 295.2L468.9 298.1L467.4 302.9L462.3 302.9L460.8 298.1zM465.5 294.1L469.6 297.1L468.1 301.9L463 301.9L461.5 297.1zM466.2 293.4L470.3 296.4L468.7 301.2L463.7 301.2L462.1 296.4zM466.9 290.9L470.9 293.9L469.4 298.7L464.3 298.7L462.8 293.9zM467.5 289.6L471.6 292.5L470 297.3L465 297.3L463.4 292.5zM468.1 288.1L472.2 291.1L470.7 295.9L465.6 295.9L464.1 291.1zM468.8 286.5L472.9 289.5L471.3 294.3L466.3 294.3L464.7 289.5zM469.4 284.6L473.5 287.6L471.9 292.4L466.9 292.4L465.3 287.6zM470.1 281.4L474.1 284.3L472.6 289.1L467.5 289.1L466 284.3zM470.7 280.4L474.8 283.4L473.2 288.2L468.2 288.2L466.6 283.4zM471.3 278.7L475.4 281.7L473.8 286.5L468.8 286.5L467.2 281.7zM471.9 276.2L476 279.1L474.4 283.9L469.4 283.9L467.8 279.1zM472.5 275.4L476.6 278.4L475.1 283.2L470 283.2L468.5 278.4zM473.1 273.8L477.2 276.8L475.7 281.6L470.6 281.6L469.1 276.8zM473.8 272.5L477.8 275.4L476.3 280.2L471.2 280.2L469.7 275.4zM474.4 270.9L478.4 273.9L476.9 278.7L471.8 278.7L470.3 273.9zM475 267.6L479 270.5L477.5 275.3L472.4 275.3L470.9 270.5zM475.5 266L479.6 269L478.1 273.8L473 273.8L471.5 269zM476.1 265.1L480.2 268L478.7 272.8L473.6 272.8L472.1 268zM476.7 262.3L480.8 265.2L479.2 270L474.2 270L472.6 265.2zM477.3 260.7L481.4 263.7L479.8 268.5L474.8 268.5L473.2 263.7zM477.9 259.7L482 262.6L480.4 267.4L475.4 267.4L473.8 262.6zM478.4 257.1L482.5 260.1L481 264.9L475.9 264.9L474.4 260.1zM479.6 255.1L483.7 258.1L482.1 262.9L477.1 262.9L475.5 258.1zM480.1 251.8L484.2 254.7L482.7 259.5L477.6 259.5L476.1 254.7zM481.3 250L485.3 253L483.8 257.8L478.7 257.8L477.2 253zM481.8 248.8L485.9 251.7L484.3 256.5L479.3 256.5L477.7 251.7zM482.4 245.7L486.4 248.7L484.9 253.5L479.8 253.5L478.3 248.7zM482.9 243.9L487 246.8L485.4 251.6L480.4 251.6L478.8 246.8zM484 242.2L488.1 245.2L486.5 250L481.5 250L479.9 245.2zM484.5 239.3L488.6 242.3L487 247.1L482 247.1L480.4 242.3zM485.1 238.5L489.1 241.4L487.6 246.2L482.5 246.2L481 241.4zM485.6 237.7L489.7 240.7L488.1 245.5L483.1 245.5L481.5 240.7zM486.1 236.7L490.2 239.7L488.6 244.5L483.6 244.5L482 239.7zM486.6 234.2L490.7 237.1L489.1 241.9L484.1 241.9L482.5 237.1zM487.7 233.2L491.7 236.2L490.2 240.9L485.1 240.9L483.6 236.2zM488.2 231.6L492.3 234.5L490.7 239.3L485.7 239.3L484.1 234.5zM488.7 229.7L492.8 232.7L491.2 237.5L486.2 237.5L484.6 232.7zM489.2 228.4L493.3 231.4L491.7 236.2L486.7 236.2L485.1 231.4zM490.2 227.9L494.3 230.9L492.7 235.7L487.7 235.7L486.1 230.9zM490.7 225.4L494.8 228.4L493.2 233.2L488.2 233.2L486.6 228.4zM491.2 224.4L495.3 227.3L493.7 232.1L488.7 232.1L487.1 227.3zM492.2 222.6L496.2 225.5L494.7 230.3L489.6 230.3L488.1 225.5zM492.7 221.8L496.7 224.8L495.2 229.6L490.1 229.6L488.6 224.8zM493.1 220.7L497.2 223.6L495.7 228.4L490.6 228.4L489.1 223.6zM494.1 220.2L498.2 223.2L496.6 228L491.6 228L490 223.2zM494.6 218.8L498.7 221.8L497.1 226.6L492.1 226.6L490.5 221.8zM495.1 217.4L499.1 220.4L497.6 225.1L492.5 225.1L491 220.4zM496 216.6L500.1 219.6L498.5 224.4L493.5 224.4L491.9 219.6zM496.9 215.8L501 218.8L499.4 223.6L494.4 223.6L492.8 218.8zM497.4 213.5L501.5 216.5L499.9 221.3L494.9 221.3L493.3 216.5zM497.8 212.3L501.9 215.3L500.4 220.1L495.3 220.1L493.8 215.3zM498.3 213.2L502.4 216.1L500.8 220.9L495.8 220.9L494.2 216.1zM499.2 210.9L503.3 213.9L501.7 218.7L496.7 218.7L495.1 213.9zM500.1 210.3L504.2 213.2L502.6 218L497.6 218L496 213.2zM500.5 209.1L504.6 212L503.1 216.8L498 216.8L496.5 212zM501.4 206.5L505.5 209.5L503.9 214.3L498.9 214.3L497.3 209.5zM502.3 205.7L506.4 208.6L504.8 213.4L499.8 213.4L498.2 208.6zM502.7 204.7L506.8 207.7L505.3 212.5L500.2 212.5L498.7 207.7zM503.2 205.6L507.2 208.6L505.7 213.4L500.6 213.4L499.1 208.6zM503.6 203.2L507.7 206.2L506.1 211L501.1 211L499.5 206.2zM504.4 202L508.5 204.9L507 209.7L501.9 209.7L500.4 204.9zM505.3 201.4L509.4 204.3L507.8 209.1L502.8 209.1L501.2 204.3zM505.7 200.2L509.8 203.2L508.2 208L503.2 208L501.6 203.2zM506.5 199.5L510.6 202.5L509.1 207.3L504 207.3L502.5 202.5zM507 198.4L511 201.4L509.5 206.2L504.4 206.2L502.9 201.4zM507.8 196.6L511.9 199.6L510.3 204.4L505.3 204.4L503.7 199.6zM508.6 195.5L512.7 198.5L511.1 203.3L506.1 203.3L504.5 198.5zM509.4 193.7L513.5 196.7L511.9 201.5L506.9 201.5L505.3 196.7zM510.2 193.5L514.3 196.5L512.7 201.3L507.7 201.3L506.1 196.5zM510.6 191.4L514.7 194.3L513.1 199.1L508.1 199.1L506.5 194.3zM511.4 190.2L515.5 193.2L513.9 198L508.9 198L507.3 193.2zM512.2 189L516.2 192L514.7 196.8L509.6 196.8L508.1 192zM512.9 189L517 192L515.4 196.8L510.4 196.8L508.8 192zM513.3 187.3L517.4 190.3L515.8 195.1L510.8 195.1L509.2 190.3zM514.1 186.5L518.2 189.5L516.6 194.3L511.5 194.3L510 189.5zM514.8 184.3L518.9 187.2L517.3 192L512.3 192L510.7 187.2zM515.2 185L519.3 188L517.7 192.8L512.7 192.8L511.1 188zM515.9 183.6L520 186.6L518.5 191.4L513.4 191.4L511.9 186.6zM516.3 182.4L520.4 185.4L518.8 190.2L513.8 190.2L512.2 185.4zM517.1 182.1L521.1 185.1L519.6 189.9L514.5 189.9L513 185.1zM517.8 179.9L521.9 182.9L520.3 187.7L515.3 187.7L513.7 182.9zM518.2 181.1L522.2 184L520.7 188.8L515.6 188.8L514.1 184zM518.9 178.9L523 181.9L521.4 186.7L516.4 186.7L514.8 181.9zM519.6 177.1L523.7 180.1L522.1 184.9L517.1 184.9L515.5 180.1zM519.9 178.5L524 181.5L522.5 186.3L517.4 186.3L515.9 181.5zM520.3 177.7L524.4 180.7L522.8 185.5L517.8 185.5L516.2 180.7zM520.7 176.9L524.7 179.8L523.2 184.6L518.1 184.6L516.6 179.8zM521.4 175L525.4 178L523.9 182.8L518.8 182.8L517.3 178zM522 174.2L526.1 177.1L524.6 181.9L519.5 181.9L518 177.1zM522.7 172.9L526.8 175.9L525.3 180.7L520.2 180.7L518.7 175.9zM523.1 174.1L527.2 177L525.6 181.8L520.6 181.8L519 177zM523.4 172.7L527.5 175.7L525.9 180.5L520.9 180.5L519.3 175.7zM524.1 171.1L528.2 174.1L526.6 178.9L521.6 178.9L520 174.1zM524.4 171.8L528.5 174.8L527 179.6L521.9 179.6L520.4 174.8zM525.1 170.8L529.2 173.8L527.6 178.6L522.6 178.6L521 173.8zM525.4 169.6L529.5 172.6L528 177.4L522.9 177.4L521.4 172.6zM526.1 168.5L530.2 171.5L528.6 176.3L523.6 176.3L522 171.5zM526.4 169.4L530.5 172.4L529 177.2L523.9 177.2L522.4 172.4zM526.8 168.5L530.8 171.4L529.3 176.2L524.2 176.2L522.7 171.4zM527.1 167.5L531.2 170.4L529.6 175.2L524.6 175.2L523 170.4zM528.1 166.1L532.2 169L530.6 173.8L525.5 173.8L524 169zM528.4 166.8L532.5 169.8L530.9 174.6L525.9 174.6L524.3 169.8zM528.7 165.5L532.8 168.5L531.2 173.3L526.2 173.3L524.6 168.5zM529.7 163.6L533.8 166.6L532.2 171.4L527.2 171.4L525.6 166.6zM530.6 163.6L534.7 166.6L533.1 171.4L528.1 171.4L526.5 166.6zM530.9 162.8L535 165.8L533.5 170.6L528.4 170.6L526.9 165.8zM531.9 160.6L535.9 163.6L534.4 168.4L529.3 168.4L527.8 163.6zM532.8 159.4L536.9 162.4L535.3 167.2L530.3 167.2L528.7 162.4zM533.1 160.5L537.2 163.4L535.6 168.2L530.6 168.2L529 163.4zM533.4 159.7L537.5 162.7L535.9 167.5L530.9 167.5L529.3 162.7zM534.3 158.2L538.4 161.1L536.8 165.9L531.8 165.9L530.2 161.1zM534.6 159.1L538.7 162.1L537.1 166.9L532.1 166.9L530.5 162.1zM534.9 157L539 160L537.4 164.8L532.4 164.8L530.8 160zM535.8 156.5L539.9 159.5L538.3 164.3L533.3 164.3L531.7 159.5zM536.7 155.5L540.8 158.4L539.2 163.2L534.2 163.2L532.6 158.4zM537 156.3L541.1 159.3L539.5 164L534.5 164L532.9 159.3zM537.3 155.5L541.3 158.4L539.8 163.2L534.7 163.2L533.2 158.4zM537.6 154.5L541.6 157.5L540.1 162.3L535 162.3L533.5 157.5zM537.8 153.7L541.9 156.7L540.4 161.5L535.3 161.5L533.8 156.7zM538.4 154.9L542.5 157.9L540.9 162.7L535.9 162.7L534.3 157.9zM538.7 153.5L542.8 156.4L541.2 161.2L536.2 161.2L534.6 156.4zM539 152.7L543.1 155.6L541.5 160.4L536.5 160.4L534.9 155.6zM539.6 153.6L543.6 156.5L542.1 161.3L537 161.3L535.5 156.5zM539.8 151.8L543.9 154.8L542.4 159.6L537.3 159.6L535.8 154.8zM540.1 152.7L544.2 155.7L542.7 160.5L537.6 160.5L536 155.7zM540.4 151.2L544.5 154.1L542.9 158.9L537.9 158.9L536.3 154.1zM540.7 152.5L544.8 155.5L543.2 160.3L538.2 160.3L536.6 155.5zM541 151.4L545 154.4L543.5 159.2L538.4 159.2L536.9 154.4zM541.2 150.1L545.3 153.1L543.8 157.9L538.7 157.9L537.2 153.1zM541.5 151.6L545.6 154.6L544 159.4L539 159.4L537.4 154.6zM541.8 150.2L545.9 153.2L544.3 158L539.3 158L537.7 153.2zM542.6 148.9L546.7 151.8L545.1 156.6L540.1 156.6L538.5 151.8zM543.4 148.2L547.5 151.2L546 156L540.9 156L539.4 151.2zM544 147.5L548.1 150.4L546.5 155.2L541.5 155.2L539.9 150.4zM544.3 149L548.3 152L546.8 156.8L541.7 156.8L540.2 152zM544.5 147L548.6 150L547 154.8L542 154.8L540.4 150zM545.3 146.5L549.4 149.5L547.8 154.3L542.8 154.3L541.2 149.5zM545.6 147.4L549.7 150.3L548.1 155.1L543.1 155.1L541.5 150.3zM546.1 146.3L550.2 149.3L548.6 154.1L543.6 154.1L542 149.3zM546.4 145.1L550.5 148.1L548.9 152.9L543.9 152.9L542.3 148.1zM546.6 146.9L550.7 149.8L549.2 154.6L544.1 154.6L542.6 149.8zM546.9 144.7L551 147.7L549.4 152.5L544.4 152.5L542.8 147.7zM547.7 145.7L551.8 148.6L550.2 153.4L545.2 153.4L543.6 148.6zM548.2 144.6L552.3 147.6L550.7 152.4L545.7 152.4L544.1 147.6zM549 144.4L553 147.4L551.5 152.2L546.4 152.2L544.9 147.4zM549.5 143.6L553.5 146.6L552 151.4L546.9 151.4L545.4 146.6zM549.7 142.2L553.8 145.1L552.2 149.9L547.2 149.9L545.6 145.1zM550.5 142.3L554.5 145.2L553 150L547.9 150L546.4 145.2zM551 141.3L555 144.2L553.5 149L548.4 149L546.9 144.2zM551.7 141.7L555.8 144.6L554.2 149.4L549.2 149.4L547.6 144.6zM552 140.3L556 143.3L554.5 148.1L549.4 148.1L547.9 143.3zM552.7 139.7L556.8 142.6L555.2 147.4L550.2 147.4L548.6 142.6zM552.9 140.9L557 143.8L555.5 148.6L550.4 148.6L548.9 143.8zM553.2 139.4L557.3 142.4L555.7 147.2L550.7 147.2L549.1 142.4zM553.4 140.4L557.5 143.3L555.9 148.1L550.9 148.1L549.3 143.3zM553.7 139.4L557.7 142.4L556.2 147.2L551.1 147.2L549.6 142.4zM553.9 138.2L558 141.2L556.4 146L551.4 146L549.8 141.2zM554.1 139.5L558.2 142.5L556.7 147.3L551.6 147.3L550.1 142.5zM554.4 137.8L558.5 140.8L556.9 145.6L551.9 145.6L550.3 140.8zM554.6 139.1L558.7 142.1L557.1 146.9L552.1 146.9L550.5 142.1zM554.9 137.3L558.9 140.3L557.4 145.1L552.3 145.1L550.8 140.3zM555.1 138.4L559.2 141.4L557.6 146.2L552.6 146.2L551 141.4zM555.3 137.2L559.4 140.1L557.9 144.9L552.8 144.9L551.3 140.1zM555.8 138.3L559.9 141.3L558.3 146.1L553.3 146.1L551.7 141.3zM556 137.2L560.1 140.2L558.6 145L553.5 145L552 140.2zM556.7 135.8L560.8 138.8L559.3 143.6L554.2 143.6L552.7 138.8zM557 137.1L561.1 140L559.5 144.8L554.4 144.8L552.9 140zM557.4 135.3L561.5 138.3L560 143.1L554.9 143.1L553.4 138.3zM558.4 134.3L562.4 137.2L560.9 142L555.8 142L554.3 137.2zM558.6 135L562.7 138L561.1 142.8L556.1 142.8L554.5 138zM559.3 133.6L563.3 136.6L561.8 141.4L556.7 141.4L555.2 136.6zM559.5 134.9L563.6 137.9L562 142.7L557 142.7L555.4 137.9zM559.7 133.5L563.8 136.5L562.2 141.3L557.2 141.3L555.6 136.5zM559.9 134.5L564 137.4L562.5 142.2L557.4 142.2L555.9 137.4zM560.2 133.7L564.2 136.6L562.7 141.4L557.6 141.4L556.1 136.6zM560.4 132.8L564.5 135.8L562.9 140.6L557.9 140.6L556.3 135.8zM560.6 133.8L564.7 136.7L563.1 141.5L558.1 141.5L556.5 136.7zM561.5 132.1L565.6 135L564 139.8L559 139.8L557.4 135zM562.4 131.6L566.4 134.6L564.9 139.4L559.8 139.4L558.3 134.6z" fill="#ff0000"/>
<path d="M383.8 520L385.5 520L387.1 452L388.7 460L390.3 466L391.9 520L393.4 520L394.9 520L396.4 520L397.8 520L399.3 520L400.7 520L402.1 520L403.4 462L404.8 444L406.1 452L407.4 464L408.7 520L409.9 447L411.2 455L412.4 449L413.6 441L414.8 452L416 437L417.2 432L418.3 446L419.4 440L420.6 455L421.7 438L422.7 429L423.8 433L424.9 427L425.9 425L427 430L428 423L429 420.6L430 421.8L431 419.8L432 419.6L433 420.9L433.9 416.1L434.9 417.2L435.8 416.2L436.7 413.2L437.6 413L438.6 414.3L439.5 410L440.3 410.7L441.2 410.1L442.1 406.6L443 408.5L443.8 405.6L444.7 403.8L445.5 403.7L446.3 401.2L447.2 401.5L448 398.2L448.8 400.4L449.6 397.3L450.4 394.7L451.2 394.5L451.9 395.6L452.7 393.9L453.5 391L454.2 389.1L455 387.9L455.7 389.6L456.5 383.9L457.2 386.4L457.9 384.7L458.6 380.1L459.4 379.2L460.1 378.7L460.8 378.2L461.5 377.2L462.2 375.5L462.8 370L463.5 367.3L464.2 366.3L464.9 363.7L465.5 360.3L466.2 352.6L466.9 350.7L467.5 347.3L468.1 340.3L468.8 331.3L469.4 320.8L470.1 313.2L470.7 307.7L471.3 306.8L471.9 303.2L472.5 301.2L473.1 299.2L473.8 298L474.4 295.1L475 292.6L475.5 290.6L476.1 289.8L476.7 287.7L477.3 284.5L477.9 283L478.4 281.4L479 279.4L479.6 278.4L480.1 276L480.7 275.1L481.3 274.3L481.8 272.6L482.4 269.5L482.9 268.3L483.4 267.2L484 266.2L484.5 264.2L485.1 262.5L485.6 261.2L486.1 259.5L486.6 259.3L487.1 257.5L487.7 255.4L488.2 254.4L488.7 252.4L489.2 250.7L489.7 248.6L490.2 247.1L490.7 246.4L491.2 244.3L491.7 242.8L492.2 239.9L492.7 239.3L493.1 237.6L493.6 235.7L494.1 235L494.6 233.2L495.1 232.4L495.5 232.6L496 231.5L496.5 230.7L496.9 228.8L497.4 228.3L497.8 227.4L498.3 226.9L498.8 226.4L499.2 227.5L499.7 226.8L500.1 224.8L500.5 224.2L501 224.9L501.4 223.4L501.9 222.3L502.3 221.7L502.7 220.6L503.2 220.4L503.6 219.9L504 218.7L504.4 218.5L504.9 216.3L505.3 216.5L505.7 216.5L506.1 214.1L506.5 214L507 213.5L507.4 212.1L507.8 212.6L508.2 210.9L508.6 210.1L509 210.2L509.4 207.6L509.8 208.5L510.2 206.3L510.6 206L511 205.5L511.4 204.7L511.8 203.1L512.2 202.9L512.5 202.3L512.9 202.7L513.3 201.9L513.7 200.5L514.1 200.5L514.4 199.6L514.8 197.9L515.2 196.7L515.6 197L515.9 195.7L516.3 194.4L516.7 195.7L517.1 195L517.4 193.5L517.8 193L518.2 192.5L518.5 192.4L518.9 190.9L519.2 190.5L519.6 189.1L519.9 188.6L520.3 188.5L520.7 187.4L521 186.4L521.4 186.5L521.7 186.6L522 185.1L522.4 185.7L522.7 184.8L523.1 184.1L523.4 184L523.8 181.8L524.1 181.5L524.4 182.4L524.8 181.8L525.1 179.6L525.4 180.4L525.8 178.4L526.1 178.1L526.4 177.5L526.8 177.3L527.1 177L527.4 177.5L527.7 176L528.1 174.9L528.4 174.7L528.7 173.6L529 173.2L529.4 173.5L529.7 173.1L530 172.1L530.3 171.9L530.6 170.8L530.9 171.5L531.2 170.5L531.6 169.5L531.9 169.8L532.2 168.7L532.5 168.4L532.8 167.7L533.1 168.5L533.4 167.1L533.7 168L534 166.5L534.3 165.6L534.6 166.2L534.9 165.9L535.2 165.8L535.5 163.9L535.8 164.8L536.1 164.6L536.4 163.1L536.7 163L537 162.9L537.3 161.8L537.6 162.7L537.8 161.9L538.1 161.9L538.4 160.7L538.7 160.5L539 159.5L539.3 159.4L539.6 159.8L539.8 160L540.1 158L540.4 157.4L540.7 157.1L541 157.5L541.2 157.9L541.5 156.4L541.8 156.6L542.1 156.4L542.4 156.7L542.6 155L542.9 154.4L543.2 155.1L543.4 154.5L543.7 154L544 154.7L544.3 154.2L544.5 152.7L544.8 153.3L545.1 153.5L545.3 153.4L545.6 151.3L545.8 152.6L546.1 150.8L546.4 151.8L546.6 151.3L546.9 151.7L547.2 150.8L547.4 149.4L547.7 150.3L547.9 149.2L548.2 150.1L548.4 148.2L548.7 148.5L549 149L549.2 147.6L549.5 148.4L549.7 148.2L550 148L550.2 148L550.5 146.8L550.7 146L551 146L551.2 146L551.5 145.1L551.7 146.1L552 144.6L552.2 144.3L552.4 145.8L552.7 145.3L552.9 144L553.2 143.9L553.4 144.6L553.7 144L553.9 143L554.1 143.1L554.4 143.7L554.6 141.8L554.9 143.5L555.1 142.4L555.3 141.4L555.6 142.4L555.8 140.8L556 141.2L556.3 141.3L556.5 140.4L556.7 141.5L557 140.9L557.2 139.6L557.4 139.4L557.7 139L557.9 139.8L558.1 138.8L558.4 139.3L558.6 139.6L558.8 139.5L559 137.8L559.3 138L559.5 138L559.7 137.7L559.9 137.6L560.2 137.5L560.4 137.9L560.6 136.8L560.8 136.6L561.1 136.5L561.3 135.9L561.5 136.6L561.7 136L561.9 136.8L562.2 136.4L562.4 135.1L562.6 134.9L562.8 135.8" fill="none" stroke="#b00000" stroke-width="2.6" stroke-linejoin="round"/>
<defs><g id="b1"><circle r="3.65" fill="#b00000"/><circle cx="-1.2" cy="-1.4" r="0.95" fill="#f2c4c4"/></g></defs>
<use href="#b1" x="387.1" y="452"/><use href="#b1" x="388.7" y="460"/><use href="#b1" x="390.3" y="466"/><use href="#b1" x="403.4" y="462"/><use href="#b1" x="404.8" y="444"/><use href="#b1" x="406.1" y="452"/><use href="#b1" x="407.4" y="464"/><use href="#b1" x="409.9" y="447"/><use href="#b1" x="411.2" y="455"/><use href="#b1" x="412.4" y="449"/><use href="#b1" x="413.6" y="441"/><use href="#b1" x="414.8" y="452"/><use href="#b1" x="416" y="437"/><use href="#b1" x="417.2" y="432"/><use href="#b1" x="418.3" y="446"/><use href="#b1" x="419.4" y="440"/><use href="#b1" x="420.6" y="455"/><use href="#b1" x="421.7" y="438"/><use href="#b1" x="422.7" y="429"/><use href="#b1" x="423.8" y="433"/><use href="#b1" x="424.9" y="427"/><use href="#b1" x="425.9" y="425"/><use href="#b1" x="427" y="430"/><use href="#b1" x="428" y="423"/><use href="#b1" x="429" y="420.6"/><use href="#b1" x="430" y="421.8"/><use href="#b1" x="431" y="419.8"/><use href="#b1" x="432" y="419.6"/><use href="#b1" x="433" y="420.9"/><use href="#b1" x="433.9" y="416.1"/><use href="#b1" x="434.9" y="417.2"/><use href="#b1" x="435.8" y="416.2"/><use href="#b1" x="436.7" y="413.2"/><use href="#b1" x="437.6" y="413"/><use href="#b1" x="438.6" y="414.3"/><use href="#b1" x="439.5" y="410"/><use href="#b1" x="440.3" y="410.7"/><use href="#b1" x="441.2" y="410.1"/><use href="#b1" x="442.1" y="406.6"/><use href="#b1" x="443" y="408.5"/><use href="#b1" x="443.8" y="405.6"/><use href="#b1" x="444.7" y="403.8"/><use href="#b1" x="445.5" y="403.7"/><use href="#b1" x="446.3" y="401.2"/><use href="#b1" x="447.2" y="401.5"/><use href="#b1" x="448" y="398.2"/><use href="#b1" x="448.8" y="400.4"/><use href="#b1" x="449.6" y="397.3"/><use href="#b1" x="450.4" y="394.7"/><use href="#b1" x="451.2" y="394.5"/><use href="#b1" x="451.9" y="395.6"/><use href="#b1" x="452.7" y="393.9"/><use href="#b1" x="453.5" y="391"/><use href="#b1" x="454.2" y="389.1"/><use href="#b1" x="455" y="387.9"/><use href="#b1" x="455.7" y="389.6"/><use href="#b1" x="456.5" y="383.9"/><use href="#b1" x="457.2" y="386.4"/><use href="#b1" x="457.9" y="384.7"/><use href="#b1" x="458.6" y="380.1"/><use href="#b1" x="459.4" y="379.2"/><use href="#b1" x="460.1" y="378.7"/><use href="#b1" x="460.8" y="378.2"/><use href="#b1" x="461.5" y="377.2"/><use href="#b1" x="462.2" y="375.5"/><use href="#b1" x="462.8" y="370"/><use href="#b1" x="463.5" y="367.3"/><use href="#b1" x="464.2" y="366.3"/><use href="#b1" x="464.9" y="363.7"/><use href="#b1" x="465.5" y="360.3"/><use href="#b1" x="466.2" y="352.6"/><use href="#b1" x="466.9" y="350.7"/><use href="#b1" x="467.5" y="347.3"/><use href="#b1" x="468.1" y="340.3"/><use href="#b1" x="468.8" y="331.3"/><use href="#b1" x="469.4" y="320.8"/><use href="#b1" x="470.1" y="313.2"/><use href="#b1" x="470.7" y="307.7"/><use href="#b1" x="471.3" y="306.8"/><use href="#b1" x="471.9" y="303.2"/><use href="#b1" x="472.5" y="301.2"/><use href="#b1" x="473.1" y="299.2"/><use href="#b1" x="473.8" y="298"/><use href="#b1" x="474.4" y="295.1"/><use href="#b1" x="475" y="292.6"/><use href="#b1" x="475.5" y="290.6"/><use href="#b1" x="476.1" y="289.8"/><use href="#b1" x="476.7" y="287.7"/><use href="#b1" x="477.3" y="284.5"/><use href="#b1" x="477.9" y="283"/><use href="#b1" x="478.4" y="281.4"/><use href="#b1" x="479" y="279.4"/><use href="#b1" x="479.6" y="278.4"/><use href="#b1" x="480.1" y="276"/><use href="#b1" x="480.7" y="275.1"/><use href="#b1" x="481.3" y="274.3"/><use href="#b1" x="481.8" y="272.6"/><use href="#b1" x="482.4" y="269.5"/><use href="#b1" x="482.9" y="268.3"/><use href="#b1" x="483.4" y="267.2"/><use href="#b1" x="484" y="266.2"/><use href="#b1" x="484.5" y="264.2"/><use href="#b1" x="485.1" y="262.5"/><use href="#b1" x="485.6" y="261.2"/><use href="#b1" x="486.1" y="259.5"/><use href="#b1" x="487.1" y="257.5"/><use href="#b1" x="487.7" y="255.4"/><use href="#b1" x="488.2" y="254.4"/><use href="#b1" x="488.7" y="252.4"/><use href="#b1" x="489.2" y="250.7"/><use href="#b1" x="489.7" y="248.6"/><use href="#b1" x="490.2" y="247.1"/><use href="#b1" x="490.7" y="246.4"/><use href="#b1" x="491.2" y="244.3"/><use href="#b1" x="491.7" y="242.8"/><use href="#b1" x="492.2" y="239.9"/><use href="#b1" x="493.1" y="237.6"/><use href="#b1" x="493.6" y="235.7"/><use href="#b1" x="494.6" y="233.2"/><use href="#b1" x="495.1" y="232.4"/><use href="#b1" x="496" y="231.5"/><use href="#b1" x="496.5" y="230.7"/><use href="#b1" x="496.9" y="228.8"/><use href="#b1" x="497.8" y="227.4"/><use href="#b1" x="498.8" y="226.4"/><use href="#b1" x="499.2" y="227.5"/><use href="#b1" x="499.7" y="226.8"/><use href="#b1" x="500.1" y="224.8"/><use href="#b1" x="501" y="224.9"/><use href="#b1" x="501.4" y="223.4"/><use href="#b1" x="501.9" y="222.3"/><use href="#b1" x="502.7" y="220.6"/><use href="#b1" x="503.6" y="219.9"/><use href="#b1" x="504" y="218.7"/><use href="#b1" x="504.9" y="216.3"/><use href="#b1" x="505.7" y="216.5"/><use href="#b1" x="506.1" y="214.1"/><use href="#b1" x="507" y="213.5"/><use href="#b1" x="507.4" y="212.1"/><use href="#b1" x="508.2" y="210.9"/><use href="#b1" x="508.6" y="210.1"/><use href="#b1" x="509.4" y="207.6"/><use href="#b1" x="509.8" y="208.5"/><use href="#b1" x="510.2" y="206.3"/><use href="#b1" x="511" y="205.5"/><use href="#b1" x="511.4" y="204.7"/><use href="#b1" x="511.8" y="203.1"/><use href="#b1" x="512.5" y="202.3"/><use href="#b1" x="513.3" y="201.9"/><use href="#b1" x="513.7" y="200.5"/><use href="#b1" x="514.4" y="199.6"/><use href="#b1" x="514.8" y="197.9"/><use href="#b1" x="515.2" y="196.7"/><use href="#b1" x="515.9" y="195.7"/><use href="#b1" x="516.3" y="194.4"/><use href="#b1" x="516.7" y="195.7"/><use href="#b1" x="517.4" y="193.5"/><use href="#b1" x="518.2" y="192.5"/><use href="#b1" x="518.9" y="190.9"/><use href="#b1" x="519.6" y="189.1"/><use href="#b1" x="520.3" y="188.5"/><use href="#b1" x="520.7" y="187.4"/><use href="#b1" x="521" y="186.4"/><use href="#b1" x="522" y="185.1"/><use href="#b1" x="523.1" y="184.1"/><use href="#b1" x="523.8" y="181.8"/><use href="#b1" x="524.8" y="181.8"/><use href="#b1" x="525.1" y="179.6"/><use href="#b1" x="525.4" y="180.4"/><use href="#b1" x="525.8" y="178.4"/><use href="#b1" x="526.4" y="177.5"/><use href="#b1" x="527.4" y="177.5"/><use href="#b1" x="527.7" y="176"/><use href="#b1" x="528.1" y="174.9"/><use href="#b1" x="528.7" y="173.6"/><use href="#b1" x="529.7" y="173.1"/><use href="#b1" x="530" y="172.1"/><use href="#b1" x="530.6" y="170.8"/><use href="#b1" x="531.6" y="169.5"/><use href="#b1" x="532.2" y="168.7"/><use href="#b1" x="532.8" y="167.7"/><use href="#b1" x="533.1" y="168.5"/><use href="#b1" x="533.4" y="167.1"/><use href="#b1" x="533.7" y="168"/><use href="#b1" x="534" y="166.5"/><use href="#b1" x="534.3" y="165.6"/><use href="#b1" x="535.2" y="165.8"/><use href="#b1" x="535.5" y="163.9"/><use href="#b1" x="535.8" y="164.8"/><use href="#b1" x="536.4" y="163.1"/><use href="#b1" x="537.3" y="161.8"/><use href="#b1" x="537.6" y="162.7"/><use href="#b1" x="537.8" y="161.9"/><use href="#b1" x="538.4" y="160.7"/><use href="#b1" x="539" y="159.5"/><use href="#b1" x="539.8" y="160"/><use href="#b1" x="540.1" y="158"/><use href="#b1" x="540.7" y="157.1"/><use href="#b1" x="541.2" y="157.9"/><use href="#b1" x="541.5" y="156.4"/><use href="#b1" x="542.4" y="156.7"/><use href="#b1" x="542.6" y="155"/><use href="#b1" x="543.4" y="154.5"/><use href="#b1" x="544.3" y="154.2"/><use href="#b1" x="544.5" y="152.7"/><use href="#b1" x="545.1" y="153.5"/><use href="#b1" x="545.6" y="151.3"/><use href="#b1" x="545.8" y="152.6"/><use href="#b1" x="546.1" y="150.8"/><use href="#b1" x="546.4" y="151.8"/><use href="#b1" x="547.2" y="150.8"/><use href="#b1" x="547.4" y="149.4"/><use href="#b1" x="547.7" y="150.3"/><use href="#b1" x="547.9" y="149.2"/><use href="#b1" x="548.2" y="150.1"/><use href="#b1" x="548.4" y="148.2"/><use href="#b1" x="549" y="149"/><use href="#b1" x="549.2" y="147.6"/><use href="#b1" x="549.5" y="148.4"/><use href="#b1" x="550.2" y="148"/><use href="#b1" x="550.5" y="146.8"/><use href="#b1" x="550.7" y="146"/><use href="#b1" x="551.5" y="145.1"/><use href="#b1" x="551.7" y="146.1"/><use href="#b1" x="552" y="144.6"/><use href="#b1" x="552.4" y="145.8"/><use href="#b1" x="552.9" y="144"/><use href="#b1" x="553.7" y="144"/><use href="#b1" x="553.9" y="143"/><use href="#b1" x="554.4" y="143.7"/><use href="#b1" x="554.6" y="141.8"/><use href="#b1" x="554.9" y="143.5"/><use href="#b1" x="555.1" y="142.4"/><use href="#b1" x="555.3" y="141.4"/><use href="#b1" x="555.6" y="142.4"/><use href="#b1" x="555.8" y="140.8"/><use href="#b1" x="556.5" y="140.4"/><use href="#b1" x="556.7" y="141.5"/><use href="#b1" x="557.2" y="139.6"/><use href="#b1" x="558.1" y="138.8"/><use href="#b1" x="558.6" y="139.6"/><use href="#b1" x="559" y="137.8"/><use href="#b1" x="559.9" y="137.6"/><use href="#b1" x="560.6" y="136.8"/><use href="#b1" x="561.3" y="135.9"/><use href="#b1" x="561.5" y="136.6"/><use href="#b1" x="562.4" y="135.1"/><use href="#b1" x="562.8" y="135.8"/>
<path d="M512 208.1 L517.3 198.6 L520 193.6 L525 185.1 L530 177.1 L535 169.8 L540 163.1 L547 154.1 L555 146.1 L562.5 139.1" fill="none" stroke="#ff0000" stroke-width="2.2"/>
<path d="M495.1 600 L495.1 239.6 L495.5 238.5 L496 237.3 L496.5 236.2 L496.9 235.1 L497.4 234 L497.8 233 L498.3 232 L498.8 231 L499.2 230.1 L499.7 229.2 L500.1 228.4 L500.5 227.5 L501 226.6 L501.4 225.8 L501.9 224.9 L502.3 224 L502.7 223.1 L503.2 222.1 L503.6 221.2 L504 220.2 L504.4 219.3 L504.9 218.3 L505.3 217.4 L505.7 216.4 L506.1 215.5 L506.5 214.6 L507 213.6 L507.4 212.7 L507.8 211.8 L508.2 210.9 L508.6 210 L509 209.1 L509.4 208.2 L509.8 207.4 L510.2 206.5 L510.6 205.7 L511 204.9 L511.4 204 L511.8 203.2 L512.2 202.4 L512.5 201.6 L512.9 200.8 L513.3 200 L513.7 199.2 L514.1 198.3 L514.4 197.5 L514.8 196.6 L515.2 195.8 L515.6 194.9 L515.9 194.1 L516.3 193.3 L516.7 192.6 L517.1 191.9 L517.4 191.2 L517.8 190.6 L518.2 190 L518.5 189.4 L518.9 188.8 L519.2 188.2 L519.6 187.7 L519.9 187.1 L520.3 186.5 L520.7 186 L521 185.4 L521.4 184.9 L521.7 184.3 L522 183.8 L522.4 183.2 L522.7 182.7 L523.1 182.2 L523.4 181.7 L523.8 181.2 L524.1 180.6 L524.4 180.1 L524.8 179.6 L525.1 179.1 L525.4 178.6 L525.8 178.1 L526.1 177.7 L526.4 177.2 L526.8 176.7 L527.1 176.2 L527.4 175.7 L527.7 175.3 L528.1 174.8 L528.4 174.3 L528.7 173.9 L529 173.4 L529.4 172.9 L529.7 172.5 L530 172 L530.3 171.6 L530.6 171.1 L530.9 170.6 L531.2 170.2 L531.6 169.7 L531.9 169.3 L532.2 168.8 L532.5 168.4 L532.8 167.9 L533.1 167.5 L533.4 167 L533.7 166.6 L534 166.2 L534.3 165.7 L534.6 165.3 L534.9 164.9 L535.2 164.5 L535.5 164.1 L535.8 163.7 L536.1 163.4 L536.4 163 L536.7 162.6 L537 162.2 L537.3 161.9 L537.6 161.5 L537.8 161.2 L538.1 160.8 L538.4 160.5 L538.7 160.1 L539 159.7 L539.3 159.4 L539.6 159 L539.8 158.7 L540.1 158.3 L540.4 158 L540.7 157.6 L541 157.3 L541.2 156.9 L541.5 156.6 L541.8 156.2 L542.1 155.8 L542.4 155.5 L542.6 155.1 L542.9 154.8 L543.2 154.4 L543.4 154.1 L543.7 153.7 L544 153.4 L544.3 153 L544.5 152.7 L544.8 152.4 L545.1 152 L545.3 151.7 L545.6 151.4 L545.8 151.1 L546.1 150.8 L546.4 150.5 L546.6 150.2 L546.9 149.9 L547.2 149.6 L547.4 149.4 L547.7 149.1 L547.9 148.8 L548.2 148.6 L548.4 148.3 L548.7 148 L549 147.8 L549.2 147.5 L549.5 147.3 L549.7 147.1 L550 146.8 L550.2 146.6 L550.5 146.4 L550.7 146.1 L551 145.9 L551.2 145.7 L551.5 145.4 L551.7 145.2 L552 145 L552.2 144.8 L552.4 144.5 L552.7 144.3 L552.9 144.1 L553.2 143.9 L553.4 143.7 L553.7 143.4 L553.9 143.2 L554.1 143 L554.4 142.8 L554.6 142.6 L554.9 142.3 L555.1 142.1 L555.3 141.9 L555.6 141.7 L555.8 141.4 L556 141.2 L556.3 141 L556.5 140.8 L556.7 140.6 L557 140.3 L557.2 140.1 L557.4 139.9 L557.7 139.7 L557.9 139.5 L558.1 139.3 L558.4 139.1 L558.6 138.8 L558.8 138.6 L559 138.4 L559.3 138.2 L559.5 138 L559.7 137.8 L559.9 137.6 L560.2 137.4 L560.4 137.2 L560.6 137 L560.8 136.7 L561.1 136.5 L561.3 136.3 L561.5 136.1 L561.7 135.9 L561.9 135.7 L562.2 135.5 L562.4 135.3 L562.6 135.1 L562.8 134.9" fill="none" stroke="#660000" stroke-width="2.2" stroke-linejoin="round"/>
<path d="M494 239.6a1.1 1.1 0 1 0 2.2 0a1.1 1.1 0 1 0 -2.2 0zM494.4 238.5a1.1 1.1 0 1 0 2.2 0a1.1 1.1 0 1 0 -2.2 0zM494.9 237.3a1.1 1.1 0 1 0 2.2 0a1.1 1.1 0 1 0 -2.2 0zM495.3 236.2a1.1 1.1 0 1 0 2.3 0a1.1 1.1 0 1 0 -2.3 0zM495.7 235.1a1.2 1.2 0 1 0 2.3 0a1.2 1.2 0 1 0 -2.3 0zM496.2 234a1.2 1.2 0 1 0 2.4 0a1.2 1.2 0 1 0 -2.4 0zM496.6 233a1.2 1.2 0 1 0 2.5 0a1.2 1.2 0 1 0 -2.5 0zM497 232a1.3 1.3 0 1 0 2.6 0a1.3 1.3 0 1 0 -2.6 0zM497.4 231a1.3 1.3 0 1 0 2.6 0a1.3 1.3 0 1 0 -2.6 0zM497.8 230.1a1.4 1.4 0 1 0 2.7 0a1.4 1.4 0 1 0 -2.7 0zM498.3 229.2a1.4 1.4 0 1 0 2.8 0a1.4 1.4 0 1 0 -2.8 0zM498.7 228.4a1.4 1.4 0 1 0 2.8 0a1.4 1.4 0 1 0 -2.8 0zM499.1 227.5a1.5 1.5 0 1 0 2.9 0a1.5 1.5 0 1 0 -2.9 0zM499.5 226.6a1.5 1.5 0 1 0 3 0a1.5 1.5 0 1 0 -3 0zM499.9 225.8a1.5 1.5 0 1 0 3.1 0a1.5 1.5 0 1 0 -3.1 0zM500.3 224.9a1.6 1.6 0 1 0 3.1 0a1.6 1.6 0 1 0 -3.1 0zM500.7 224a1.6 1.6 0 1 0 3.2 0a1.6 1.6 0 1 0 -3.2 0zM501.1 223.1a1.6 1.6 0 1 0 3.3 0a1.6 1.6 0 1 0 -3.3 0zM501.5 222.1a1.7 1.7 0 1 0 3.3 0a1.7 1.7 0 1 0 -3.3 0zM501.9 221.2a1.7 1.7 0 1 0 3.4 0a1.7 1.7 0 1 0 -3.4 0zM502.3 220.2a1.7 1.7 0 1 0 3.5 0a1.7 1.7 0 1 0 -3.5 0zM502.7 219.3a1.8 1.8 0 1 0 3.5 0a1.8 1.8 0 1 0 -3.5 0zM503.1 218.3a1.8 1.8 0 1 0 3.6 0a1.8 1.8 0 1 0 -3.6 0zM503.5 217.4a1.8 1.8 0 1 0 3.7 0a1.8 1.8 0 1 0 -3.7 0zM503.8 216.4a1.9 1.9 0 1 0 3.7 0a1.9 1.9 0 1 0 -3.7 0zM504.2 215.5a1.9 1.9 0 1 0 3.8 0a1.9 1.9 0 1 0 -3.8 0zM504.6 214.6a1.9 1.9 0 1 0 3.9 0a1.9 1.9 0 1 0 -3.9 0zM505 213.6a2 2 0 1 0 3.9 0a2 2 0 1 0 -3.9 0zM505.4 212.7a2 2 0 1 0 4 0a2 2 0 1 0 -4 0zM505.7 211.8a2 2 0 1 0 4.1 0a2 2 0 1 0 -4.1 0zM506.1 210.9a2.1 2.1 0 1 0 4.1 0a2.1 2.1 0 1 0 -4.1 0zM506.5 210a2.1 2.1 0 1 0 4.2 0a2.1 2.1 0 1 0 -4.2 0zM506.9 209.1a2.1 2.1 0 1 0 4.3 0a2.1 2.1 0 1 0 -4.3 0zM507.2 208.2a2.2 2.2 0 1 0 4.3 0a2.2 2.2 0 1 0 -4.3 0zM507.6 207.4a2.2 2.2 0 1 0 4.4 0a2.2 2.2 0 1 0 -4.4 0zM508 206.5a2.2 2.2 0 1 0 4.4 0a2.2 2.2 0 1 0 -4.4 0zM508.3 205.7a2.3 2.3 0 1 0 4.5 0a2.3 2.3 0 1 0 -4.5 0zM508.7 204.9a2.3 2.3 0 1 0 4.6 0a2.3 2.3 0 1 0 -4.6 0zM509.1 204a2.3 2.3 0 1 0 4.6 0a2.3 2.3 0 1 0 -4.6 0zM509.4 203.2a2.3 2.3 0 1 0 4.7 0a2.3 2.3 0 1 0 -4.7 0zM509.8 202.4a2.4 2.4 0 1 0 4.8 0a2.4 2.4 0 1 0 -4.8 0zM510.1 201.6a2.4 2.4 0 1 0 4.8 0a2.4 2.4 0 1 0 -4.8 0zM510.5 200.8a2.4 2.4 0 1 0 4.9 0a2.4 2.4 0 1 0 -4.9 0zM510.8 200a2.5 2.5 0 1 0 4.9 0a2.5 2.5 0 1 0 -4.9 0zM511.2 199.2a2.5 2.5 0 1 0 5 0a2.5 2.5 0 1 0 -5 0zM511.5 198.3a2.5 2.5 0 1 0 5.1 0a2.5 2.5 0 1 0 -5.1 0zM511.9 197.5a2.6 2.6 0 1 0 5.1 0a2.6 2.6 0 1 0 -5.1 0zM512.2 196.6a2.6 2.6 0 1 0 5.2 0a2.6 2.6 0 1 0 -5.2 0zM512.6 195.8a2.6 2.6 0 1 0 5.2 0a2.6 2.6 0 1 0 -5.2 0zM512.9 194.9a2.6 2.6 0 1 0 5.3 0a2.6 2.6 0 1 0 -5.3 0zM513.3 194.1a2.7 2.7 0 1 0 5.4 0a2.7 2.7 0 1 0 -5.4 0zM513.6 193.3a2.7 2.7 0 1 0 5.4 0a2.7 2.7 0 1 0 -5.4 0zM514 192.6a2.7 2.7 0 1 0 5.5 0a2.7 2.7 0 1 0 -5.5 0zM514.3 191.9a2.8 2.8 0 1 0 5.5 0a2.8 2.8 0 1 0 -5.5 0zM514.6 191.2a2.8 2.8 0 1 0 5.6 0a2.8 2.8 0 1 0 -5.6 0zM515 190.6a2.8 2.8 0 1 0 5.6 0a2.8 2.8 0 1 0 -5.6 0zM515.3 190a2.9 2.9 0 1 0 5.7 0a2.9 2.9 0 1 0 -5.7 0zM516 188.8a2.9 2.9 0 1 0 5.8 0a2.9 2.9 0 1 0 -5.8 0zM516.6 187.7a3 3 0 1 0 5.9 0a3 3 0 1 0 -5.9 0zM517.3 186.5a3 3 0 1 0 6 0a3 3 0 1 0 -6 0zM518 185.4a3 3 0 1 0 6 0a3 3 0 1 0 -6 0zM518.7 184.3a3 3 0 1 0 6 0a3 3 0 1 0 -6 0zM519.4 183.2a3 3 0 1 0 6 0a3 3 0 1 0 -6 0zM520.1 182.2a3 3 0 1 0 6 0a3 3 0 1 0 -6 0zM520.8 181.2a3 3 0 1 0 6 0a3 3 0 1 0 -6 0zM521.4 180.1a3 3 0 1 0 6 0a3 3 0 1 0 -6 0zM522.1 179.1a3 3 0 1 0 6 0a3 3 0 1 0 -6 0zM522.8 178.1a3 3 0 1 0 6 0a3 3 0 1 0 -6 0zM523.4 177.2a3 3 0 1 0 6 0a3 3 0 1 0 -6 0zM524.1 176.2a3 3 0 1 0 6 0a3 3 0 1 0 -6 0zM524.7 175.3a3 3 0 1 0 6 0a3 3 0 1 0 -6 0zM525.4 174.3a3 3 0 1 0 6 0a3 3 0 1 0 -6 0zM526 173.4a3 3 0 1 0 6 0a3 3 0 1 0 -6 0zM526.7 172.5a3 3 0 1 0 6 0a3 3 0 1 0 -6 0zM527.3 171.6a3 3 0 1 0 6 0a3 3 0 1 0 -6 0zM527.9 170.6a3 3 0 1 0 6 0a3 3 0 1 0 -6 0zM528.6 169.7a3 3 0 1 0 6 0a3 3 0 1 0 -6 0zM529.2 168.8a3 3 0 1 0 6 0a3 3 0 1 0 -6 0zM529.8 167.9a3 3 0 1 0 6 0a3 3 0 1 0 -6 0zM530.4 167a3 3 0 1 0 6 0a3 3 0 1 0 -6 0zM531 166.2a3 3 0 1 0 6 0a3 3 0 1 0 -6 0zM531.6 165.3a3 3 0 1 0 6 0a3 3 0 1 0 -6 0zM532.2 164.5a3 3 0 1 0 6 0a3 3 0 1 0 -6 0zM532.8 163.7a3 3 0 1 0 6 0a3 3 0 1 0 -6 0zM533.4 163a3 3 0 1 0 6 0a3 3 0 1 0 -6 0zM534 162.2a3 3 0 1 0 6 0a3 3 0 1 0 -6 0zM534.6 161.5a3 3 0 1 0 6 0a3 3 0 1 0 -6 0zM535.1 160.8a3 3 0 1 0 6 0a3 3 0 1 0 -6 0zM535.7 160.1a3 3 0 1 0 6 0a3 3 0 1 0 -6 0zM536.3 159.4a3 3 0 1 0 6 0a3 3 0 1 0 -6 0zM536.8 158.7a3 3 0 1 0 6 0a3 3 0 1 0 -6 0zM537.4 158a3 3 0 1 0 6 0a3 3 0 1 0 -6 0zM538 157.3a3 3 0 1 0 6 0a3 3 0 1 0 -6 0zM538.5 156.6a3 3 0 1 0 6 0a3 3 0 1 0 -6 0zM539.1 155.8a3 3 0 1 0 6 0a3 3 0 1 0 -6 0zM539.6 155.1a3 3 0 1 0 6 0a3 3 0 1 0 -6 0zM540.2 154.4a3 3 0 1 0 6 0a3 3 0 1 0 -6 0zM540.7 153.7a3 3 0 1 0 6 0a3 3 0 1 0 -6 0zM541.3 153a3 3 0 1 0 6 0a3 3 0 1 0 -6 0zM541.8 152.4a3 3 0 1 0 6 0a3 3 0 1 0 -6 0zM542.3 151.7a3 3 0 1 0 6 0a3 3 0 1 0 -6 0zM542.8 151.1a3 3 0 1 0 6 0a3 3 0 1 0 -6 0zM543.4 150.5a3 3 0 1 0 6 0a3 3 0 1 0 -6 0zM544.2 149.6a3 3 0 1 0 6 0a3 3 0 1 0 -6 0zM544.9 148.8a3 3 0 1 0 6 0a3 3 0 1 0 -6 0zM545.7 148a3 3 0 1 0 6 0a3 3 0 1 0 -6 0zM546.5 147.3a3 3 0 1 0 6 0a3 3 0 1 0 -6 0zM547.2 146.6a3 3 0 1 0 6 0a3 3 0 1 0 -6 0zM548 145.9a3 3 0 1 0 6 0a3 3 0 1 0 -6 0zM548.7 145.2a3 3 0 1 0 6 0a3 3 0 1 0 -6 0zM549.4 144.5a3 3 0 1 0 6 0a3 3 0 1 0 -6 0zM550.2 143.9a3 3 0 1 0 6 0a3 3 0 1 0 -6 0zM550.9 143.2a3 3 0 1 0 6 0a3 3 0 1 0 -6 0zM551.6 142.6a3 3 0 1 0 6 0a3 3 0 1 0 -6 0zM552.3 141.9a3 3 0 1 0 6 0a3 3 0 1 0 -6 0zM553 141.2a3 3 0 1 0 6 0a3 3 0 1 0 -6 0zM553.7 140.6a3 3 0 1 0 6 0a3 3 0 1 0 -6 0zM554.4 139.9a3 3 0 1 0 6 0a3 3 0 1 0 -6 0zM555.1 139.3a3 3 0 1 0 6 0a3 3 0 1 0 -6 0zM555.8 138.6a3 3 0 1 0 6 0a3 3 0 1 0 -6 0zM556.5 138a3 3 0 1 0 6 0a3 3 0 1 0 -6 0zM557.2 137.4a3 3 0 1 0 6 0a3 3 0 1 0 -6 0zM557.8 136.7a3 3 0 1 0 6 0a3 3 0 1 0 -6 0zM558.5 136.1a3 3 0 1 0 6 0a3 3 0 1 0 -6 0zM559.2 135.5a3 3 0 1 0 6 0a3 3 0 1 0 -6 0zM559.8 134.9a3 3 0 1 0 6 0a3 3 0 1 0 -6 0z" fill="#660000"/>
</g>
<text transform="translate(160.5 271.5) rotate(-9)" x="0" y="7.77" text-anchor="middle" font-size="21.7">190 mK</text>
<text transform="translate(171.2 446.1) rotate(-9.5)" x="0" y="7.77" text-anchor="middle" font-size="21.7">125 mK</text>
<text transform="translate(371.5 424.2) rotate(-35)" x="0" y="7.77" text-anchor="middle" font-size="21.7">115 mK</text>
<text transform="translate(453.9 425.4) rotate(-57)" x="0" y="7.77" text-anchor="middle" font-size="21.7">100 mK</text>
<text transform="translate(513.7 408.5) rotate(-90)" x="0" y="7.77" text-anchor="middle" font-size="21.7">85 mK</text>
<rect x="101.0" y="14.5" width="461.5" height="454.0" fill="none" stroke="#000" stroke-width="2"/>
<path d="M94.00 468.50H100.0 M94.00 458.12H100.0 M94.00 450.75H100.0 M94.00 445.03H100.0 M94.00 440.36H100.0 M94.00 436.42H100.0 M94.00 433.00H100.0 M94.00 429.98H100.0 M88.70 427.28H100.0 M94.00 409.53H100.0 M94.00 399.15H100.0 M94.00 391.78H100.0 M94.00 386.06H100.0 M94.00 381.40H100.0 M94.00 377.45H100.0 M94.00 374.03H100.0 M94.00 371.01H100.0 M88.70 368.31H100.0 M94.00 350.56H100.0 M94.00 340.18H100.0 M94.00 332.81H100.0 M94.00 327.10H100.0 M94.00 322.43H100.0 M94.00 318.48H100.0 M94.00 315.06H100.0 M94.00 312.04H100.0 M88.70 309.34H100.0 M94.00 291.59H100.0 M94.00 281.21H100.0 M94.00 273.84H100.0 M94.00 268.13H100.0 M94.00 263.46H100.0 M94.00 259.51H100.0 M94.00 256.09H100.0 M94.00 253.07H100.0 M88.70 250.38H100.0 M94.00 232.62H100.0 M94.00 222.24H100.0 M94.00 214.87H100.0 M94.00 209.16H100.0 M94.00 204.49H100.0 M94.00 200.54H100.0 M94.00 197.12H100.0 M94.00 194.11H100.0 M88.70 191.41H100.0 M94.00 173.66H100.0 M94.00 163.27H100.0 M94.00 155.90H100.0 M94.00 150.19H100.0 M94.00 145.52H100.0 M94.00 141.57H100.0 M94.00 138.15H100.0 M94.00 135.14H100.0 M88.70 132.44H100.0 M94.00 114.69H100.0 M94.00 104.30H100.0 M94.00 96.94H100.0 M94.00 91.22H100.0 M94.00 86.55H100.0 M94.00 82.60H100.0 M94.00 79.18H100.0 M94.00 76.17H100.0 M88.70 73.47H100.0 M94.00 55.72H100.0 M94.00 45.33H100.0 M94.00 37.97H100.0 M94.00 32.25H100.0 M94.00 27.58H100.0 M94.00 23.63H100.0 M94.00 20.21H100.0 M94.00 17.20H100.0 M88.70 14.50H100.0 M101.00 469.5V481.5 M161.38 469.5V475.5 M196.69 469.5V475.5 M221.75 469.5V475.5 M241.19 469.5V475.5 M257.07 469.5V475.5 M270.49 469.5V475.5 M282.13 469.5V475.5 M292.39 469.5V475.5 M301.56 469.5V481.5 M361.94 469.5V475.5 M397.25 469.5V475.5 M422.31 469.5V475.5 M441.75 469.5V475.5 M457.63 469.5V475.5 M471.06 469.5V475.5 M482.69 469.5V475.5 M492.95 469.5V475.5 M502.12 469.5V481.5 M562.50 469.5V475.5" stroke="#000" stroke-width="1.4" fill="none"/>
<text x="81" y="22.10" text-anchor="end" font-size="22">10<tspan font-size="12.5" dy="-10.6">-6</tspan></text>
<text x="81" y="81.07" text-anchor="end" font-size="22">10<tspan font-size="12.5" dy="-10.6">-7</tspan></text>
<text x="81" y="140.04" text-anchor="end" font-size="22">10<tspan font-size="12.5" dy="-10.6">-8</tspan></text>
<text x="81" y="199.01" text-anchor="end" font-size="22">10<tspan font-size="12.5" dy="-10.6">-9</tspan></text>
<text x="81" y="257.98" text-anchor="end" font-size="22">10<tspan font-size="12.5" dy="-10.6">-10</tspan></text>
<text x="81" y="316.94" text-anchor="end" font-size="22">10<tspan font-size="12.5" dy="-10.6">-11</tspan></text>
<text x="81" y="375.91" text-anchor="end" font-size="22">10<tspan font-size="12.5" dy="-10.6">-12</tspan></text>
<text x="81" y="434.88" text-anchor="end" font-size="22">10<tspan font-size="12.5" dy="-10.6">-13</tspan></text>
<text x="101.60" y="506.6" text-anchor="middle" font-size="22">10<tspan font-size="12.5" dy="-10.2">-4</tspan></text>
<text x="302.16" y="506.6" text-anchor="middle" font-size="22">10<tspan font-size="12.5" dy="-10.2">-3</tspan></text>
<text x="502.72" y="506.6" text-anchor="middle" font-size="22">10<tspan font-size="12.5" dy="-10.2">-2</tspan></text>
<text x="331" y="542.8" text-anchor="middle" font-size="21.5">Voltage (V)</text>
<text transform="translate(16.6 240.5) rotate(-90)" x="0" y="0" text-anchor="middle" font-size="21.8">Current (A)</text>
<text x="343.3" y="50" font-size="23.5">Magnetic field 0.6 T</text>
<rect x="164.6" y="30.3" width="160.4" height="142.39999999999998" fill="#fff" stroke="none"/>
<path d="M164.6 148.97H325.0 M164.6 125.23H325.0 M164.6 101.50H325.0 M164.6 77.77H325.0 M164.6 54.03H325.0" stroke="#8c8c8c" stroke-width="1.3" fill="none"/>
<path d="M164.6 160.83h4 M164.6 148.97h7 M164.6 137.10h4 M164.6 125.23h7 M164.6 113.37h4 M164.6 101.50h7 M164.6 89.63h4 M164.6 77.77h7 M164.6 65.90h4 M164.6 54.03h7 M164.6 42.17h4 M191.33 172.7v-4.5 M218.07 172.7v-7 M244.80 172.7v-4.5 M271.53 172.7v-7 M298.27 172.7v-4.5" stroke="#000" stroke-width="1.4" fill="none"/>
<rect x="164.6" y="30.3" width="160.4" height="142.39999999999998" fill="none" stroke="#000" stroke-width="2"/>
<text x="156.6" y="178.30" text-anchor="end" font-size="21">0</text>
<text x="156.6" y="154.57" text-anchor="end" font-size="21">1</text>
<text x="156.6" y="130.83" text-anchor="end" font-size="21">2</text>
<text x="156.6" y="107.10" text-anchor="end" font-size="21">3</text>
<text x="156.6" y="83.37" text-anchor="end" font-size="21">4</text>
<text x="156.6" y="59.63" text-anchor="end" font-size="21">5</text>
<text x="156.6" y="35.90" text-anchor="end" font-size="21">6</text>
<text x="164.60" y="196.1" text-anchor="middle" font-size="21">0.05</text>
<text x="218.07" y="196.1" text-anchor="middle" font-size="21">0.1</text>
<text x="271.53" y="196.1" text-anchor="middle" font-size="21">0.15</text>
<text x="325.00" y="196.1" text-anchor="middle" font-size="21">0.2</text>
<text x="244.80" y="224.8" text-anchor="middle" font-size="21.7">Temperature (K)</text>
<text transform="translate(131 100.6) rotate(-90) scale(1.3 1)" x="0" y="5.2" text-anchor="middle" style="font-family:Liberation Serif,serif" font-size="22.3">&#945;</text>
<polyline points="223.1,53.5 234.0,125.1 243.4,148.4 252.5,148.4 261.3,148.4 264.7,148.4 268.0,148.4 275.0,148.4 281.5,148.4 294.0,148.4 306.0,148.4 315.8,148.4" fill="none" stroke="#000" stroke-width="1.3"/>
<rect x="220.1" y="50.5" width="6" height="6" fill="#000"/>
<rect x="231.0" y="122.1" width="6" height="6" fill="#000"/>
<rect x="240.4" y="145.4" width="6" height="6" fill="#000"/>
<rect x="249.5" y="145.4" width="6" height="6" fill="#000"/>
<rect x="258.3" y="145.4" width="6" height="6" fill="#000"/>
<rect x="261.7" y="145.4" width="6" height="6" fill="#000"/>
<rect x="265.0" y="145.4" width="6" height="6" fill="#000"/>
<rect x="272.0" y="145.4" width="6" height="6" fill="#000"/>
<rect x="278.5" y="145.4" width="6" height="6" fill="#000"/>
<rect x="291.0" y="145.4" width="6" height="6" fill="#000"/>
<rect x="303.0" y="145.4" width="6" height="6" fill="#000"/>
<rect x="312.8" y="145.4" width="6" height="6" fill="#000"/>
</svg>
</body></html>
